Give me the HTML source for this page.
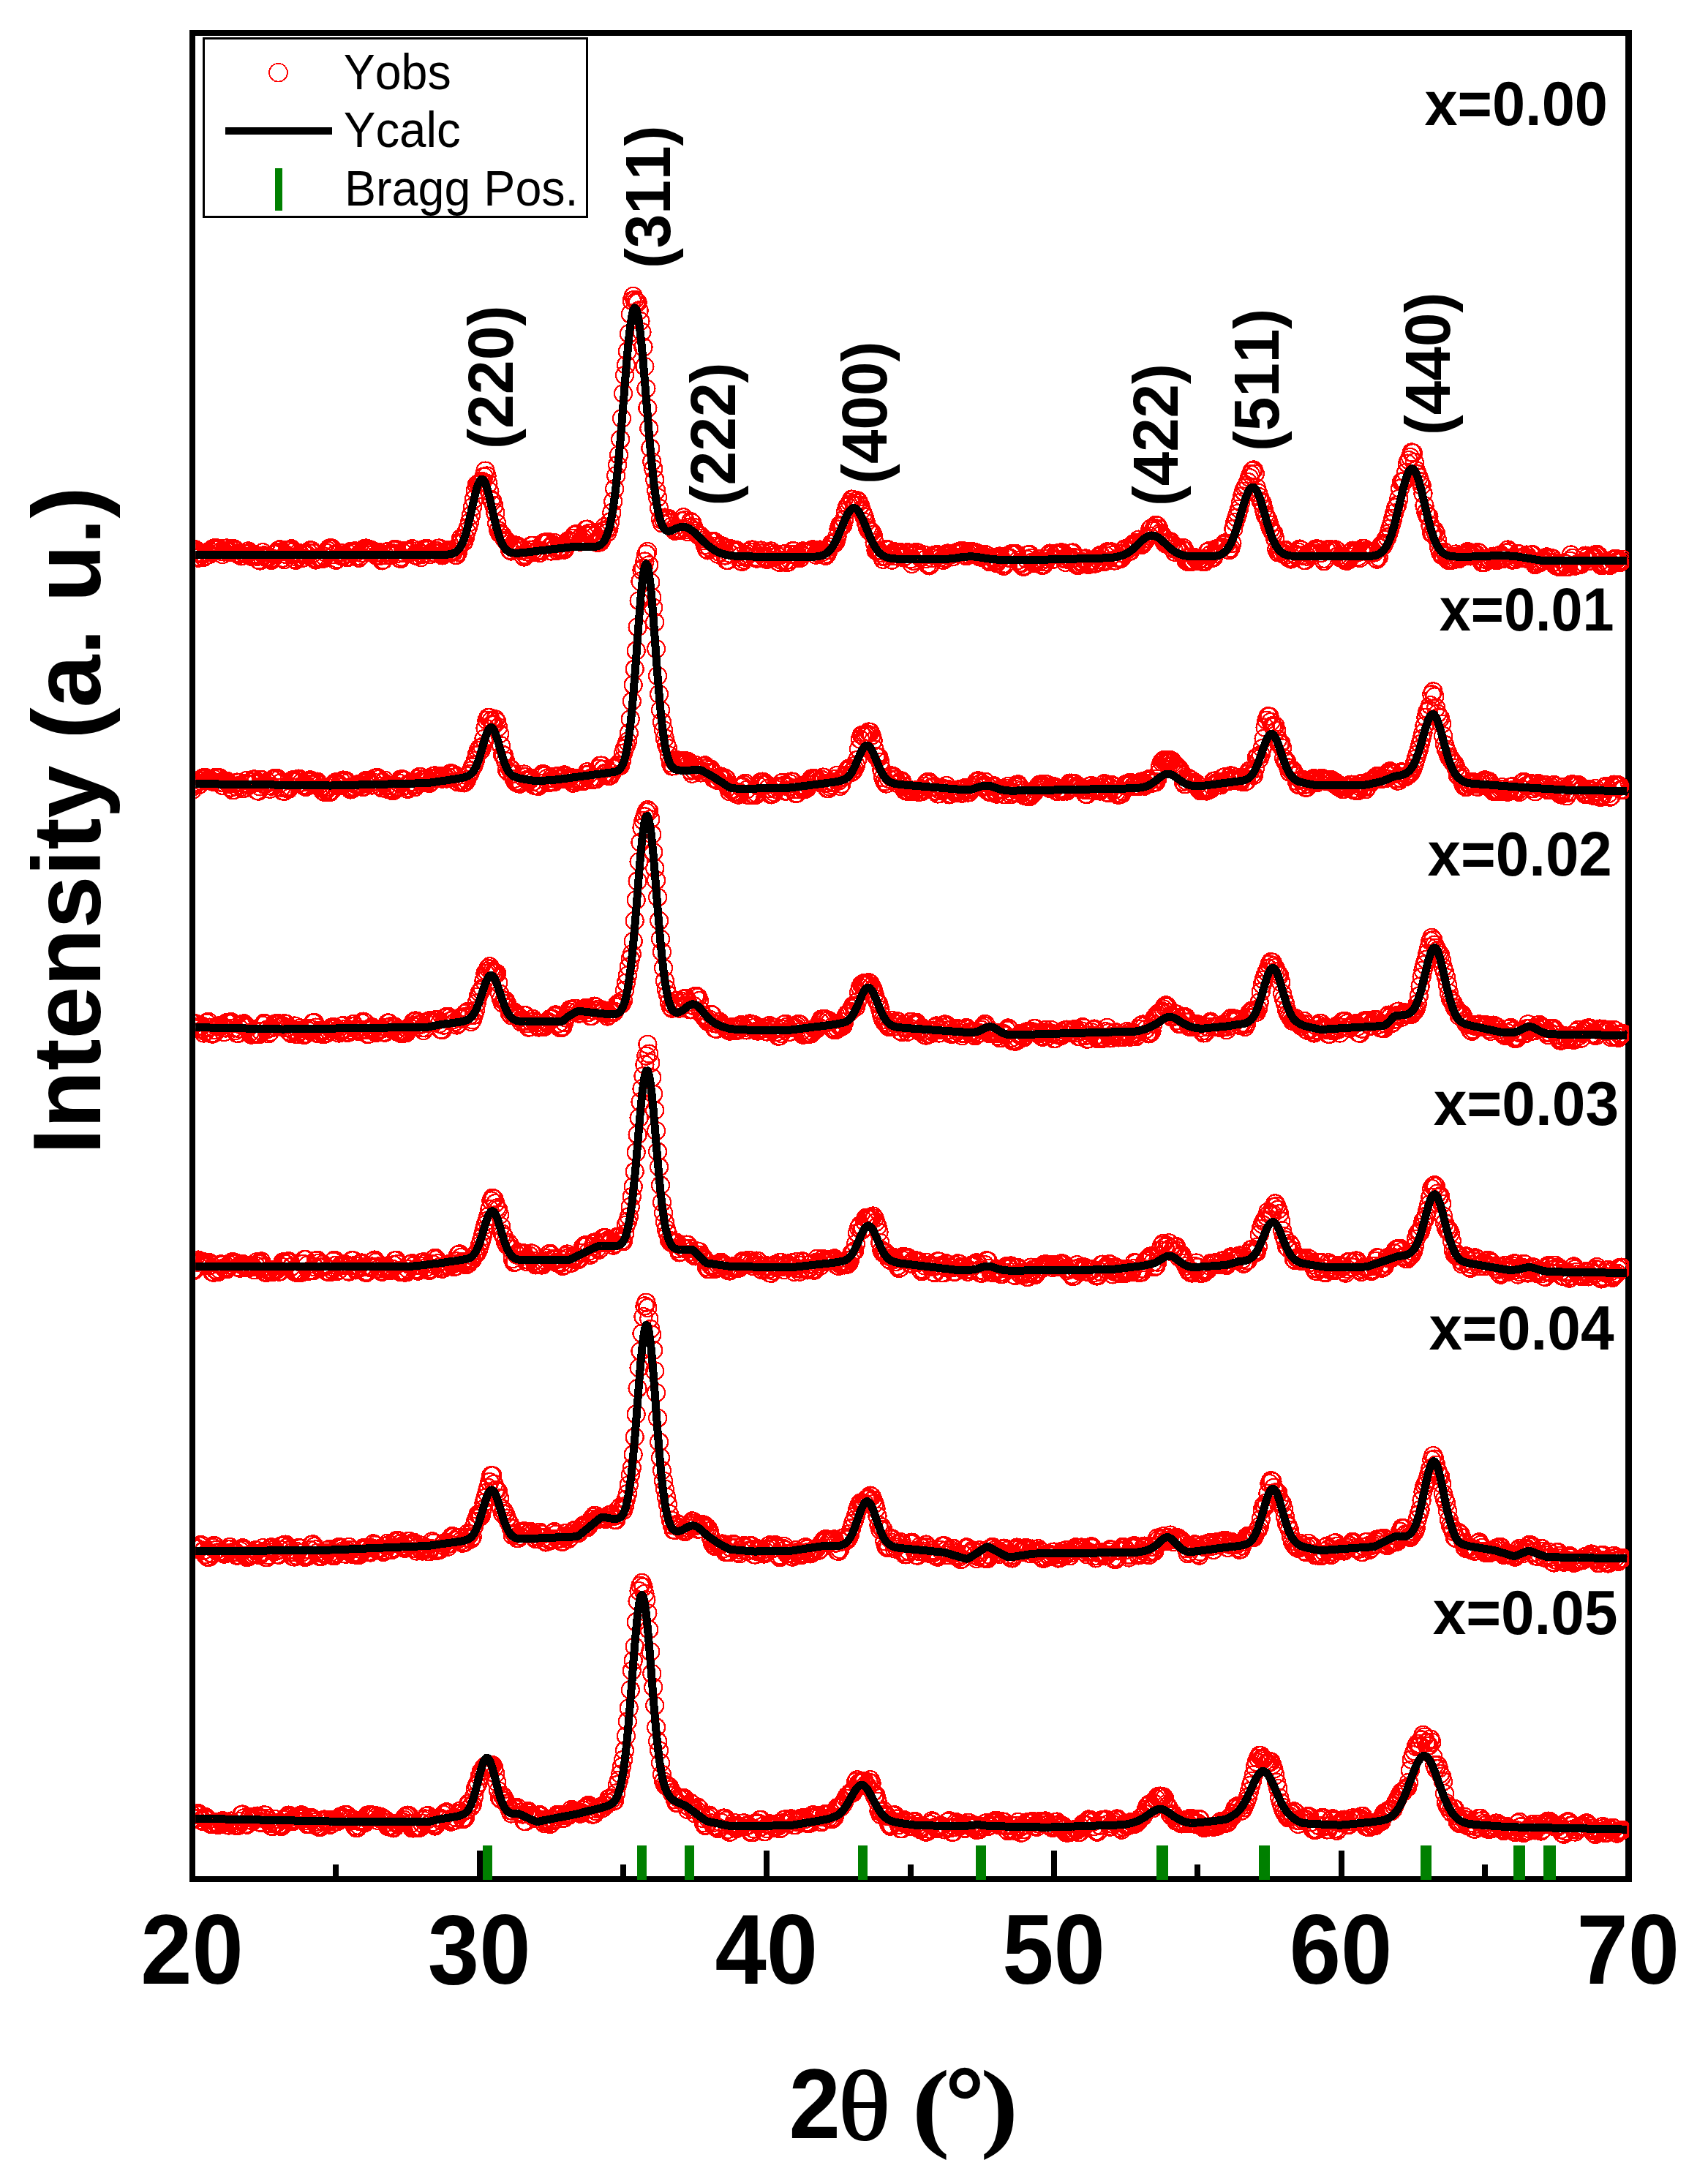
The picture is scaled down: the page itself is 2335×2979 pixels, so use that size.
<!DOCTYPE html>
<html lang="en"><head><meta charset="utf-8"><title>XRD patterns</title>
<style>
html,body{margin:0;padding:0;background:#fff}
svg{display:block}
text{font-family:"Liberation Sans",Arial,Helvetica,sans-serif;fill:#000;font-kerning:none}
.b{font-weight:bold}
.s{font-family:"Liberation Serif","Times New Roman",Times,serif;font-weight:bold}
</style></head>
<body>
<svg width="2335" height="2979" viewBox="0 0 2335 2979" shape-rendering="crispEdges">
<defs>
<marker id="o" markerUnits="userSpaceOnUse" markerWidth="30" markerHeight="30" refX="15" refY="15" overflow="visible"><circle cx="15" cy="15" r="12.0" fill="none" stroke="#f00" stroke-width="2.3" shape-rendering="crispEdges"/></marker>
<clipPath id="cp"><rect x="267.2" y="45" width="1959.9" height="2524"/></clipPath>
</defs>
<rect width="2335" height="2979" fill="#fff"/>
<rect x="263" y="45" width="1963.3" height="2524" fill="none" stroke="#000" stroke-width="8.4"/>
<path d="M263 2569V2530M459.3 2569V2549M655.7 2569V2530M852 2569V2549M1048.3 2569V2530M1244.7 2569V2549M1441 2569V2530M1637.3 2569V2549M1833.6 2569V2530M2030 2569V2549M2226.3 2569V2530" stroke="#000" stroke-width="8" fill="none"/>
<g clip-path="url(#cp)">
<polyline points="263,752.9 265,751.2 266.9,751.3 268.9,755.4 270.9,762.8 272.8,761.7 274.8,756.1 276.7,757.6 278.7,761.8 280.7,760.1 282.6,755 284.6,755.1 286.6,757.8 288.5,754.5 290.5,750.4 292.4,749.4 294.4,749.3 296.4,749.3 298.3,749.6 300.3,750.6 302.3,753.7 304.2,758.1 306.2,754.5 308.2,749.7 310.1,749.5 312.1,752.2 314,755.2 316,751.7 318,750.2 319.9,750.3 321.9,751.7 323.9,756.6 325.8,758.3 327.8,757.7 329.8,760.4 331.7,759.8 333.7,756.7 335.6,757.6 337.6,757 339.6,753.4 341.5,755.3 343.5,760.8 345.5,759.2 347.4,757.6 349.4,759.6 351.3,760.9 353.3,765.5 355.3,766.5 357.2,760 359.2,755.2 361.2,759.3 363.1,761.7 365.1,761.8 367.1,762.3 369,764.5 371,765.9 372.9,763.5 374.9,757.8 376.9,756.2 378.8,755.1 380.8,752.2 382.8,751.2 384.7,754.3 386.7,762.8 388.7,765.1 390.6,757.8 392.6,752 394.5,752.6 396.5,751.2 398.5,750.3 400.4,754.5 402.4,764.2 404.4,765.8 406.3,761.8 408.3,755.8 410.2,757.5 412.2,763.2 414.2,762.8 416.1,758.1 418.1,757.8 420.1,758.8 422,755.6 424,752.4 426,752.5 427.9,756.3 429.9,763 431.8,765.5 433.8,764.3 435.8,762.2 437.7,761.9 439.7,763 441.7,763.8 443.6,761 445.6,755.6 447.6,752.5 449.5,750 451.5,749.3 453.4,749.4 455.4,751 457.4,758.2 459.3,765.8 461.3,764.2 463.3,755.5 465.2,755.8 467.2,760.6 469.1,760.1 471.1,758.7 473.1,761.6 475,762.3 477,757 479,754.1 480.9,754.7 482.9,753.9 484.9,753.4 486.8,755.4 488.8,759.9 490.7,762.8 492.7,760.6 494.7,756.1 496.6,752.3 498.6,749.7 500.6,749.5 502.5,750.3 504.5,751 506.4,751.2 508.4,752.3 510.4,753.8 512.3,756.3 514.3,759.7 516.3,758.8 518.2,755 520.2,759.8 522.2,766.4 524.1,765.5 526.1,759 528,754.5 530,754.3 532,757.8 533.9,759.4 535.9,755.9 537.9,752.7 539.8,750.9 541.8,751.2 543.8,756.8 545.7,763.1 547.7,764 549.6,761.7 551.6,756 553.6,752.7 555.5,753 557.5,754.3 559.5,754.9 561.4,752.8 563.4,750.2 565.3,751 567.3,758.8 569.3,759.8 571.2,753.2 573.2,755.7 575.2,762.2 577.1,757.9 579.1,751.7 581.1,750.2 583,749.7 585,752 586.9,758.3 588.9,757.8 590.9,754.9 592.8,755.1 594.8,755.4 596.8,752.9 598.7,749.7 600.7,749.5 602.7,754.7 604.6,759.4 606.6,757.9 608.5,756.1 610.5,753.4 612.5,752.2 614.4,754.8 616.4,755.5 618.4,753.2 620.3,754.4 622.3,758.7 624.2,758.9 626.2,754.9 628.2,743.9 630.1,736 632.1,737.3 634.1,740.6 636,734.7 638,726.5 640,721 641.9,714 643.9,704.5 645.8,693.3 647.8,682.7 649.8,671.1 651.7,662.9 653.7,661.3 655.7,660 657.6,658.5 659.6,658.1 661.5,651.5 663.5,643.6 665.5,650.5 667.4,661.4 669.4,671.8 671.4,682.9 673.3,685.1 675.3,691.4 677.3,701 679.2,715.5 681.2,725 683.1,728.9 685.1,730 687.1,732.1 689,735.7 691,738.6 693,740.3 694.9,743.9 696.9,751.9 698.9,753.5 700.8,749 702.8,745.9 704.7,745.4 706.7,746 708.7,748 710.6,750.2 712.6,752.8 714.6,759.2 716.5,761.5 718.5,758.6 720.4,754.3 722.4,754.8 724.4,751.6 726.3,746 728.3,745.8 730.3,751.2 732.2,755 734.2,752.9 736.2,752.8 738.1,756 740.1,752.8 742,743.3 744,741.8 746,741.4 747.9,741.2 749.9,741 751.9,748.3 753.8,753.5 755.8,744.6 757.8,742 759.7,747.8 761.7,752.9 763.6,750.8 765.6,747.7 767.6,748.2 769.5,751 771.5,751.7 773.5,747.9 775.4,741.1 777.4,738.8 779.3,740.2 781.3,740.3 783.3,735.8 785.2,731.7 787.2,730.2 789.2,730.1 791.1,737.3 793.1,740.7 795.1,739 797,735.8 799,731.6 800.9,723.9 802.9,723.6 804.9,729 806.8,731.8 808.8,728.6 810.8,728.3 812.7,733 814.7,740.4 816.7,742 818.6,741.1 820.6,741 822.5,737.4 824.5,725.9 826.5,720.4 828.4,724.2 830.4,728.2 832.4,722.4 834.3,713.3 836.3,701 838.2,685.6 840.2,668.3 842.2,650.2 844.1,635.7 846.1,621.9 848.1,600.6 850,572 852,538 854,513 855.9,499 857.9,480.3 859.8,456.3 861.8,429.4 863.8,411 865.7,404.8 867.7,409.7 869.7,412.2 871.6,413.7 873.6,424.4 875.5,439 877.5,454 879.5,474.7 881.4,501 883.4,531.2 885.4,557.9 887.3,585.6 889.3,612.7 891.3,631.2 893.2,641 895.2,655.9 897.1,670.7 899.1,680.1 901.1,694.8 903,710 905,715.2 907,710.3 908.9,707.6 910.9,709.5 912.9,709.1 914.8,709.3 916.8,714.3 918.7,719.4 920.7,722.9 922.7,725.9 924.6,725.4 926.6,724.5 928.6,725.1 930.5,723.5 932.5,712.3 934.4,707.2 936.4,711.1 938.4,724.1 940.3,727.1 942.3,720.7 944.3,713 946.2,714.7 948.2,720.7 950.2,725.6 952.1,728.8 954.1,731.4 956,731.9 958,732.6 960,735.7 961.9,739.1 963.9,745.2 965.9,750.6 967.8,752.4 969.8,748.5 971.8,740.2 973.7,739.7 975.7,740 977.6,741.1 979.6,746.6 981.6,757.6 983.5,754.9 985.5,746.9 987.5,746.4 989.4,749.3 991.4,759.5 993.3,765.8 995.3,765.9 997.3,756.7 999.2,750.4 1001.2,751.5 1003.2,753.6 1005.1,752.8 1007.1,752.4 1009.1,754.1 1011,761.2 1013,767.5 1014.9,768 1016.9,765.1 1018.9,761.7 1020.8,760.2 1022.8,757.6 1024.8,754.4 1026.7,751.8 1028.7,751.5 1030.7,754.8 1032.6,761.2 1034.6,763.6 1036.5,763.1 1038.5,756 1040.5,752.5 1042.4,755.5 1044.4,761.4 1046.4,762.9 1048.3,764.9 1050.3,764.1 1052.2,756.2 1054.2,753.5 1056.2,758.9 1058.1,762.3 1060.1,757.5 1062.1,759.9 1064,768 1066,769 1068,765.8 1069.9,757.7 1071.9,757.4 1073.8,766.4 1075.8,769.2 1077.8,768.5 1079.7,765.1 1081.7,758 1083.7,753 1085.6,753.5 1087.6,758.3 1089.5,760.2 1091.5,761.8 1093.5,763.3 1095.4,757.7 1097.4,753.4 1099.4,754.1 1101.3,755.8 1103.3,755.1 1105.3,753.5 1107.2,752.9 1109.2,751.9 1111.1,751.2 1113.1,753.4 1115.1,758.6 1117,755.8 1119,752.3 1121,751.6 1122.9,751.7 1124.9,754.3 1126.9,758.8 1128.8,759.9 1130.8,757 1132.7,752 1134.7,747.6 1136.7,743.7 1138.6,742.6 1140.6,743 1142.6,740.7 1144.5,733.8 1146.5,723.6 1148.4,717.9 1150.4,718.7 1152.4,718.1 1154.3,710 1156.3,698.8 1158.3,692.5 1160.2,690.2 1162.2,686.7 1164.2,682.6 1166.1,683 1168.1,690.8 1170,687.7 1172,684.2 1174,686.5 1175.9,690.8 1177.9,697.2 1179.9,702.6 1181.8,706.9 1183.8,714.2 1185.8,721.4 1187.7,725.2 1189.7,726.2 1191.6,727.2 1193.6,731.2 1195.6,741.5 1197.5,752.5 1199.5,753.2 1201.5,753.4 1203.4,755.8 1205.4,760.6 1207.3,764.8 1209.3,760.5 1211.3,751.2 1213.2,751 1215.2,752.1 1217.2,758.1 1219.1,765.6 1221.1,760.3 1223.1,754.2 1225,755.8 1227,760.6 1228.9,756.8 1230.9,755 1232.9,757.8 1234.8,762.2 1236.8,760.9 1238.8,756.9 1240.7,755.1 1242.7,755.7 1244.7,764.6 1246.6,770.9 1248.6,766.8 1250.5,757 1252.5,755 1254.5,755.4 1256.4,758.8 1258.4,762.6 1260.4,761.2 1262.3,758.4 1264.3,758.6 1266.2,764 1268.2,771.8 1270.2,773.4 1272.1,772 1274.1,763 1276.1,759.3 1278,758.9 1280,758.2 1282,758.3 1283.9,759 1285.9,761.9 1287.8,765.5 1289.8,765.8 1291.8,763 1293.7,758.7 1295.7,756.5 1297.7,756.8 1299.6,758.6 1301.6,761.4 1303.5,760.9 1305.5,757.1 1307.5,755.2 1309.4,754.5 1311.4,754 1313.4,753.6 1315.3,752.7 1317.3,753.3 1319.3,758.4 1321.2,760.3 1323.2,757.5 1325.1,755.1 1327.1,753.8 1329.1,753.9 1331,755.5 1333,756.3 1335,755.5 1336.9,757.2 1338.9,761.4 1340.9,761.8 1342.8,760.7 1344.8,760.1 1346.7,757.8 1348.7,758.9 1350.7,764.9 1352.6,768.1 1354.6,766.9 1356.6,763.1 1358.5,761.8 1360.5,766.4 1362.4,770 1364.4,766.8 1366.4,760.5 1368.3,762.8 1370.3,772 1372.3,773.9 1374.2,770.7 1376.2,762.3 1378.2,762.6 1380.1,762.4 1382.1,757.4 1384,756.9 1386,757.2 1388,756.8 1389.9,757.9 1391.9,766 1393.9,769.5 1395.8,770.3 1397.8,774.2 1399.8,774.9 1401.7,773.5 1403.7,764.5 1405.6,758.4 1407.6,758 1409.6,762.7 1411.5,768.5 1413.5,770.2 1415.5,770 1417.4,766.6 1419.4,764.1 1421.3,768.3 1423.3,772.2 1425.3,773 1427.2,771.8 1429.2,768 1431.2,764.1 1433.1,759 1435.1,756.6 1437.1,758.5 1439,765 1441,764 1442.9,758 1444.9,756.5 1446.9,757.1 1448.8,756.1 1450.8,755.3 1452.8,755.8 1454.7,763.8 1456.7,768.8 1458.6,764.6 1460.6,763 1462.6,761.9 1464.5,756.2 1466.5,755.5 1468.5,762.3 1470.4,771.1 1472.4,772.7 1474.4,772.8 1476.3,771.7 1478.3,769.4 1480.2,768.3 1482.2,765.2 1484.2,763.5 1486.1,769.4 1488.1,772.1 1490.1,771.1 1492,765.9 1494,765.9 1496,769.6 1497.9,770.5 1499.9,769.6 1501.8,764.9 1503.8,759.2 1505.8,760.3 1507.7,766.8 1509.7,768 1511.7,759.6 1513.6,754.4 1515.6,755.8 1517.5,756.2 1519.5,754.4 1521.5,758.5 1523.4,766.5 1525.4,766.2 1527.4,763.1 1529.3,763 1531.3,764.1 1533.3,763.1 1535.2,756.8 1537.2,750.8 1539.1,750.1 1541.1,751.8 1543.1,754.1 1545,753.7 1547,747.9 1549,743.6 1550.9,744.6 1552.9,746 1554.9,741.8 1556.8,737.6 1558.8,743.7 1560.7,745 1562.7,743 1564.7,740.7 1566.6,736.4 1568.6,735.7 1570.6,732.6 1572.5,723.2 1574.5,721.8 1576.4,725.6 1578.4,721.7 1580.4,717.7 1582.3,718.8 1584.3,722.8 1586.3,728.7 1588.2,731 1590.2,736.5 1592.2,742.2 1594.1,743.7 1596.1,743.4 1598,741.7 1600,740.3 1602,742.6 1603.9,750.4 1605.9,754.7 1607.9,750.8 1609.8,748.9 1611.8,752.5 1613.8,755.3 1615.7,750.9 1617.7,748.8 1619.6,752.8 1621.6,766.6 1623.6,768 1625.5,766.8 1627.5,766.1 1629.5,768 1631.4,767 1633.4,762 1635.3,763.8 1637.3,766.7 1639.3,765.5 1641.2,764 1643.2,767.4 1645.2,768.3 1647.1,768.1 1649.1,764.3 1651.1,754.4 1653,753.1 1655,758 1656.9,761.9 1658.9,762.6 1660.9,757.3 1662.8,750.3 1664.8,749.7 1666.8,751 1668.7,749.8 1670.7,748.1 1672.6,745.1 1674.6,742.3 1676.6,743.5 1678.5,751.6 1680.5,752.3 1682.5,749.2 1684.4,742.8 1686.4,723 1688.4,714 1690.3,707.7 1692.3,701.9 1694.2,695.7 1696.2,686.7 1698.2,678.5 1700.1,671.7 1702.1,666.8 1704.1,663.8 1706,658.9 1708,653.1 1710,648.4 1711.9,643.8 1713.9,642.5 1715.8,647.6 1717.8,666.9 1719.8,673.5 1721.7,679.3 1723.7,685 1725.7,687.9 1727.6,695.5 1729.6,703.9 1731.5,707.1 1733.5,710.8 1735.5,717.4 1737.4,723.1 1739.4,726.7 1741.4,729.3 1743.3,736.8 1745.3,751.1 1747.3,755.3 1749.2,753.1 1751.2,754.3 1753.1,757.1 1755.1,752.9 1757.1,751.7 1759,758.4 1761,762.4 1763,763.2 1764.9,764.5 1766.9,762.6 1768.9,757.1 1770.8,757.7 1772.8,760.2 1774.7,754.5 1776.7,750.6 1778.7,752 1780.6,759.6 1782.6,765.8 1784.6,766.2 1786.5,760.7 1788.5,757 1790.4,757.6 1792.4,756.8 1794.4,756.6 1796.3,753.4 1798.3,750.5 1800.3,750.3 1802.2,750.6 1804.2,751.5 1806.2,756.1 1808.1,764.3 1810.1,767.2 1812,764.2 1814,753.3 1816,750.9 1817.9,751 1819.9,751.4 1821.9,753.7 1823.8,753.7 1825.8,751.5 1827.8,753 1829.7,759.7 1831.7,762.2 1833.6,762.8 1835.6,763.8 1837.6,764.8 1839.5,766.4 1841.5,766.8 1843.5,765.6 1845.4,761.6 1847.4,754.7 1849.3,752.6 1851.3,755.1 1853.3,756.2 1855.2,755.8 1857.2,761 1859.2,763 1861.1,753.6 1863.1,749.8 1865.1,750.1 1867,752.9 1869,754.1 1870.9,753.8 1872.9,754.8 1874.9,756 1876.8,755.1 1878.8,755.5 1880.8,763.1 1882.7,764.6 1884.7,761.8 1886.6,748.7 1888.6,745.1 1890.6,746.3 1892.5,742.8 1894.5,737.6 1896.5,734.4 1898.4,729.2 1900.4,722.6 1902.4,716.2 1904.3,708.9 1906.3,701.5 1908.2,694.2 1910.2,690.8 1912.2,681.9 1914.1,668 1916.1,658.8 1918.1,658.5 1920,657.2 1922,646 1924,633.6 1925.9,629.1 1927.9,624.9 1929.8,618.5 1931.8,619.3 1933.8,632 1935.7,642.9 1937.7,648.2 1939.7,652.6 1941.6,658.3 1943.6,663.7 1945.5,674.8 1947.5,691.2 1949.5,700.9 1951.4,705.3 1953.4,706.5 1955.4,718.2 1957.3,729 1959.3,729.8 1961.3,725.7 1963.2,729.8 1965.2,738.2 1967.1,748.5 1969.1,755.6 1971.1,758.9 1973,758.4 1975,754.8 1977,759.2 1978.9,765.3 1980.9,766.2 1982.9,765 1984.8,763.9 1986.8,765.5 1988.7,762.9 1990.7,757.5 1992.7,760.5 1994.6,764 1996.6,762.2 1998.6,759.7 2000.5,759.2 2002.5,759.2 2004.4,757.1 2006.4,754.1 2008.4,755.4 2010.3,760.4 2012.3,758.9 2014.3,756.5 2016.2,758.4 2018.2,757.7 2020.2,755 2022.1,755.7 2024.1,764.4 2026,769.1 2028,769.1 2030,768.7 2031.9,765.5 2033.9,763.6 2035.9,764.4 2037.8,765.1 2039.8,762.5 2041.7,760.6 2043.7,764 2045.7,766.3 2047.6,764.9 2049.6,759.3 2051.6,758.4 2053.5,762.7 2055.5,763.9 2057.5,762.2 2059.4,755.6 2061.4,751.5 2063.3,754.3 2065.3,764.3 2067.3,765.6 2069.2,764.3 2071.2,765.2 2073.2,762.5 2075.1,756.7 2077.1,758 2079.1,762.9 2081,762.6 2083,762.2 2084.9,760.9 2086.9,758.6 2088.9,762.6 2090.8,765.1 2092.8,758.7 2094.8,758 2096.7,767.1 2098.7,772.2 2100.6,770.7 2102.6,768.6 2104.6,769.4 2106.5,767.7 2108.5,765.9 2110.5,765.7 2112.4,763.1 2114.4,761.4 2116.4,763.2 2118.3,764.8 2120.3,763 2122.2,763.3 2124.2,769.1 2126.2,772.7 2128.1,773.8 2130.1,774.6 2132.1,775.2 2134,775.3 2136,773.9 2138,769.6 2139.9,770.5 2141.9,774.8 2143.8,775.1 2145.8,766.7 2147.8,758.5 2149.7,762.9 2151.7,772.5 2153.7,773.6 2155.6,771.6 2157.6,770.7 2159.5,771.4 2161.5,771.6 2163.5,768.4 2165.4,761.6 2167.4,759.6 2169.4,762.4 2171.3,766.9 2173.3,766.8 2175.3,763.3 2177.2,762.2 2179.2,761.2 2181.1,758.4 2183.1,757.8 2185.1,759.4 2187,768 2189,773 2191,772.9 2192.9,772.4 2194.9,771.3 2196.9,769.1 2198.8,770.8 2200.8,773.1 2202.7,770.7 2204.7,765.3 2206.7,764.2 2208.6,764.3 2210.6,764.1 2212.6,766.8 2214.5,769.1 2216.5,767.4 2218.4,764.8" fill="none" stroke="none" marker-start="url(#o)" marker-mid="url(#o)" marker-end="url(#o)"/>
<polyline points="263,758.5 265,758.5 266.9,758.5 268.9,758.5 270.9,758.5 272.8,758.5 274.8,758.5 276.7,758.5 278.7,758.5 280.7,758.5 282.6,758.5 284.6,758.5 286.6,758.5 288.5,758.5 290.5,758.5 292.4,758.5 294.4,758.5 296.4,758.5 298.3,758.5 300.3,758.5 302.3,758.5 304.2,758.5 306.2,758.5 308.2,758.5 310.1,758.5 312.1,758.5 314,758.5 316,758.5 318,758.5 319.9,758.5 321.9,758.5 323.9,758.5 325.8,758.5 327.8,758.5 329.8,758.5 331.7,758.5 333.7,758.5 335.6,758.5 337.6,758.5 339.6,758.5 341.5,758.5 343.5,758.5 345.5,758.5 347.4,758.5 349.4,758.5 351.3,758.5 353.3,758.5 355.3,758.5 357.2,758.5 359.2,758.5 361.2,758.5 363.1,758.5 365.1,758.5 367.1,758.5 369,758.5 371,758.5 372.9,758.5 374.9,758.5 376.9,758.5 378.8,758.5 380.8,758.5 382.8,758.5 384.7,758.5 386.7,758.5 388.7,758.5 390.6,758.5 392.6,758.5 394.5,758.5 396.5,758.5 398.5,758.5 400.4,758.5 402.4,758.5 404.4,758.5 406.3,758.5 408.3,758.5 410.2,758.5 412.2,758.5 414.2,758.5 416.1,758.5 418.1,758.5 420.1,758.5 422,758.5 424,758.5 426,758.5 427.9,758.5 429.9,758.5 431.8,758.5 433.8,758.5 435.8,758.5 437.7,758.5 439.7,758.5 441.7,758.5 443.6,758.5 445.6,758.5 447.6,758.5 449.5,758.5 451.5,758.5 453.4,758.5 455.4,758.5 457.4,758.5 459.3,758.5 461.3,758.5 463.3,758.5 465.2,758.5 467.2,758.5 469.1,758.5 471.1,758.5 473.1,758.5 475,758.5 477,758.5 479,758.5 480.9,758.5 482.9,758.5 484.9,758.5 486.8,758.5 488.8,758.5 490.7,758.5 492.7,758.5 494.7,758.5 496.6,758.5 498.6,758.5 500.6,758.5 502.5,758.5 504.5,758.5 506.4,758.5 508.4,758.5 510.4,758.5 512.3,758.5 514.3,758.5 516.3,758.5 518.2,758.5 520.2,758.5 522.2,758.5 524.1,758.5 526.1,758.5 528,758.5 530,758.5 532,758.5 533.9,758.5 535.9,758.5 537.9,758.5 539.8,758.5 541.8,758.5 543.8,758.5 545.7,758.5 547.7,758.5 549.6,758.5 551.6,758.5 553.6,758.5 555.5,758.5 557.5,758.5 559.5,758.5 561.4,758.5 563.4,758.5 565.3,758.5 567.3,758.5 569.3,758.5 571.2,758.5 573.2,758.5 575.2,758.5 577.1,758.5 579.1,758.5 581.1,758.5 583,758.5 585,758.5 586.9,758.5 588.9,758.5 590.9,758.5 592.8,758.5 594.8,758.5 596.8,758.5 598.7,758.5 600.7,758.5 602.7,758.4 604.6,758.4 606.6,758.3 608.5,758.3 610.5,758.2 612.5,758 614.4,757.8 616.4,757.4 618.4,756.9 620.3,756.2 622.3,755.2 624.2,753.8 626.2,752 628.2,749.6 630.1,746.4 632.1,742.5 634.1,737.8 636,732.1 638,725.5 640,718 641.9,709.8 643.9,701.2 645.8,692.3 647.8,683.5 649.8,675.3 651.7,668.1 653.7,662.2 655.7,657.9 657.6,655.5 659.6,655.2 661.5,656.9 663.5,660.6 665.5,666 667.4,672.9 669.4,680.8 671.4,689.3 673.3,698.2 675.3,706.9 677.3,715.2 679.2,722.8 681.2,729.7 683.1,735.6 685.1,740.6 687.1,744.7 689,748 691,750.5 693,752.4 694.9,753.8 696.9,754.7 698.9,755.3 700.8,755.7 702.8,756 704.7,756.1 706.7,756.1 708.7,756.1 710.6,756 712.6,755.9 714.6,755.7 716.5,755.4 718.5,755.2 720.4,755 722.4,754.8 724.4,754.5 726.3,754.3 728.3,754.1 730.3,753.8 732.2,753.6 734.2,753.4 736.2,753.1 738.1,752.9 740.1,752.7 742,752.4 744,752.2 746,752 747.9,751.7 749.9,751.5 751.9,751.3 753.8,751 755.8,750.8 757.8,750.6 759.7,750.3 761.7,750.1 763.6,749.9 765.6,749.7 767.6,749.4 769.5,749.2 771.5,749 773.5,748.7 775.4,748.5 777.4,748.3 779.3,748 781.3,747.8 783.3,747.6 785.2,747.3 787.2,747.1 789.2,747.1 791.1,747.1 793.1,747.2 795.1,747.3 797,747.4 799,747.5 800.9,747.6 802.9,747.6 804.9,747.7 806.8,747.7 808.8,747.7 810.8,747.6 812.7,747.4 814.7,747.1 816.7,746.7 818.6,746 820.6,745 822.5,743.6 824.5,741.6 826.5,738.9 828.4,735.1 830.4,730.2 832.4,723.9 834.3,716 836.3,706.2 838.2,694.3 840.2,680.2 842.2,663.8 844.1,645.1 846.1,624.4 848.1,601.9 850,578 852,553.3 854,528.5 855.9,504.4 857.9,481.9 859.8,461.9 861.8,445.1 863.8,432.3 865.7,424.1 867.7,420.8 869.7,422.5 871.6,429.3 873.6,440.7 875.5,456.3 877.5,475.3 879.5,497 881.4,520.5 883.4,544.8 885.4,569.3 887.3,593 889.3,615.5 891.3,636.2 893.2,654.7 895.2,670.9 897.1,684.8 899.1,696.2 901.1,705.4 903,712.5 905,717.8 907,721.6 908.9,724 910.9,725.5 912.9,726.1 914.8,726.1 916.8,725.7 918.7,725 920.7,724.1 922.7,723.2 924.6,722.3 926.6,721.6 928.6,721 930.5,720.5 932.5,720.3 934.4,720.4 936.4,720.6 938.4,721.2 940.3,721.9 942.3,722.9 944.3,724.1 946.2,725.5 948.2,727.1 950.2,728.7 952.1,730.5 954.1,732.4 956,734.4 958,736.3 960,738.3 961.9,740.2 963.9,742.1 965.9,743.9 967.8,745.6 969.8,747.3 971.8,748.8 973.7,750.2 975.7,751.5 977.6,752.7 979.6,753.8 981.6,754.7 983.5,755.6 985.5,756.4 987.5,757 989.4,757.6 991.4,758.1 993.3,758.6 995.3,759 997.3,759.3 999.2,759.6 1001.2,759.8 1003.2,760 1005.1,760.2 1007.1,760.3 1009.1,760.4 1011,760.5 1013,760.6 1014.9,760.6 1016.9,760.7 1018.9,760.8 1020.8,760.8 1022.8,760.9 1024.8,760.9 1026.7,760.9 1028.7,761 1030.7,761 1032.6,761.1 1034.6,761.1 1036.5,761.1 1038.5,761.2 1040.5,761.2 1042.4,761.2 1044.4,761.3 1046.4,761.3 1048.3,761.3 1050.3,761.4 1052.2,761.4 1054.2,761.5 1056.2,761.5 1058.1,761.5 1060.1,761.5 1062.1,761.5 1064,761.5 1066,761.4 1068,761.4 1069.9,761.4 1071.9,761.4 1073.8,761.4 1075.8,761.4 1077.8,761.4 1079.7,761.3 1081.7,761.3 1083.7,761.3 1085.6,761.3 1087.6,761.3 1089.5,761.3 1091.5,761.3 1093.5,761.2 1095.4,761.2 1097.4,761.2 1099.4,761.2 1101.3,761.2 1103.3,761.2 1105.3,761.3 1107.2,761.3 1109.2,761.3 1111.1,761.2 1113.1,761.2 1115.1,761 1117,760.9 1119,760.6 1121,760.2 1122.9,759.7 1124.9,759.1 1126.9,758.2 1128.8,757.1 1130.8,755.7 1132.7,754 1134.7,751.9 1136.7,749.5 1138.6,746.6 1140.6,743.3 1142.6,739.6 1144.5,735.5 1146.5,731.1 1148.4,726.5 1150.4,721.7 1152.4,717 1154.3,712.3 1156.3,707.9 1158.3,703.9 1160.2,700.5 1162.2,697.7 1164.2,695.8 1166.1,694.7 1168.1,694.6 1170,695.3 1172,697 1174,699.6 1175.9,702.8 1177.9,706.7 1179.9,711 1181.8,715.7 1183.8,720.6 1185.8,725.4 1187.7,730.2 1189.7,734.8 1191.6,739.1 1193.6,743.1 1195.6,746.6 1197.5,749.8 1199.5,752.5 1201.5,754.8 1203.4,756.8 1205.4,758.4 1207.3,759.7 1209.3,760.7 1211.3,761.6 1213.2,762.2 1215.2,762.7 1217.2,763.1 1219.1,763.4 1221.1,763.7 1223.1,763.8 1225,764 1227,764.1 1228.9,764.2 1230.9,764.2 1232.9,764.3 1234.8,764.4 1236.8,764.4 1238.8,764.4 1240.7,764.4 1242.7,764.5 1244.7,764.5 1246.6,764.5 1248.6,764.5 1250.5,764.5 1252.5,764.5 1254.5,764.6 1256.4,764.6 1258.4,764.6 1260.4,764.6 1262.3,764.6 1264.3,764.6 1266.2,764.7 1268.2,764.7 1270.2,764.7 1272.1,764.7 1274.1,764.7 1276.1,764.7 1278,764.7 1280,764.7 1282,764.7 1283.9,764.6 1285.9,764.6 1287.8,764.5 1289.8,764.5 1291.8,764.4 1293.7,764.3 1295.7,764.1 1297.7,764 1299.6,763.8 1301.6,763.6 1303.5,763.3 1305.5,763.1 1307.5,762.8 1309.4,762.5 1311.4,762.2 1313.4,761.9 1315.3,761.7 1317.3,761.4 1319.3,761.2 1321.2,761.1 1323.2,761 1325.1,760.9 1327.1,760.9 1329.1,760.9 1331,761 1333,761.2 1335,761.4 1336.9,761.6 1338.9,761.9 1340.9,762.2 1342.8,762.5 1344.8,762.8 1346.7,763.2 1348.7,763.5 1350.7,763.8 1352.6,764 1354.6,764.3 1356.6,764.5 1358.5,764.7 1360.5,764.8 1362.4,765 1364.4,765.1 1366.4,765.2 1368.3,765.3 1370.3,765.4 1372.3,765.4 1374.2,765.5 1376.2,765.5 1378.2,765.6 1380.1,765.6 1382.1,765.6 1384,765.6 1386,765.7 1388,765.7 1389.9,765.7 1391.9,765.7 1393.9,765.7 1395.8,765.8 1397.8,765.8 1399.8,765.8 1401.7,765.8 1403.7,765.7 1405.6,765.7 1407.6,765.6 1409.6,765.6 1411.5,765.5 1413.5,765.5 1415.5,765.4 1417.4,765.4 1419.4,765.3 1421.3,765.3 1423.3,765.2 1425.3,765.2 1427.2,765.1 1429.2,765.1 1431.2,765 1433.1,765 1435.1,764.9 1437.1,764.9 1439,764.8 1441,764.8 1442.9,764.7 1444.9,764.7 1446.9,764.6 1448.8,764.6 1450.8,764.5 1452.8,764.5 1454.7,764.4 1456.7,764.4 1458.6,764.3 1460.6,764.3 1462.6,764.2 1464.5,764.2 1466.5,764.1 1468.5,764.1 1470.4,764 1472.4,764 1474.4,763.9 1476.3,763.9 1478.3,763.8 1480.2,763.8 1482.2,763.7 1484.2,763.7 1486.1,763.6 1488.1,763.6 1490.1,763.5 1492,763.5 1494,763.4 1496,763.4 1497.9,763.3 1499.9,763.3 1501.8,763.2 1503.8,763.2 1505.8,763.1 1507.7,763 1509.7,762.9 1511.7,762.8 1513.6,762.7 1515.6,762.6 1517.5,762.4 1519.5,762.3 1521.5,762.1 1523.4,761.8 1525.4,761.5 1527.4,761.2 1529.3,760.7 1531.3,760.3 1533.3,759.7 1535.2,759 1537.2,758.2 1539.1,757.3 1541.1,756.2 1543.1,755 1545,753.6 1547,752.1 1549,750.5 1550.9,748.7 1552.9,746.9 1554.9,745 1556.8,743 1558.8,741.1 1560.7,739.3 1562.7,737.6 1564.7,736 1566.6,734.7 1568.6,733.5 1570.6,732.7 1572.5,732.2 1574.5,732 1576.4,732.1 1578.4,732.5 1580.4,733.3 1582.3,734.3 1584.3,735.6 1586.3,737.1 1588.2,738.8 1590.2,740.5 1592.2,742.4 1594.1,744.3 1596.1,746.1 1598,747.9 1600,749.6 1602,751.3 1603.9,752.7 1605.9,754.1 1607.9,755.3 1609.8,756.3 1611.8,757.2 1613.8,758 1615.7,758.6 1617.7,759.2 1619.6,759.6 1621.6,760 1623.6,760.2 1625.5,760.4 1627.5,760.6 1629.5,760.7 1631.4,760.8 1633.4,760.9 1635.3,760.9 1637.3,760.9 1639.3,760.9 1641.2,760.9 1643.2,760.9 1645.2,760.9 1647.1,760.9 1649.1,760.9 1651.1,760.9 1653,760.8 1655,760.7 1656.9,760.6 1658.9,760.5 1660.9,760.3 1662.8,760 1664.8,759.6 1666.8,759 1668.7,758.3 1670.7,757.3 1672.6,756 1674.6,754.4 1676.6,752.4 1678.5,749.9 1680.5,746.9 1682.5,743.3 1684.4,739.2 1686.4,734.4 1688.4,729.1 1690.3,723.2 1692.3,716.8 1694.2,710.1 1696.2,703.3 1698.2,696.4 1700.1,689.8 1702.1,683.6 1704.1,678 1706,673.3 1708,669.6 1710,667.2 1711.9,666 1713.9,666.2 1715.8,667.8 1717.8,670.6 1719.8,674.5 1721.7,679.5 1723.7,685.3 1725.7,691.7 1727.6,698.4 1729.6,705.2 1731.5,712.1 1733.5,718.6 1735.5,724.8 1737.4,730.6 1739.4,735.7 1741.4,740.3 1743.3,744.3 1745.3,747.6 1747.3,750.5 1749.2,752.8 1751.2,754.6 1753.1,756.1 1755.1,757.3 1757.1,758.2 1759,758.8 1761,759.3 1763,759.7 1764.9,760 1766.9,760.1 1768.9,760.3 1770.8,760.3 1772.8,760.4 1774.7,760.4 1776.7,760.4 1778.7,760.5 1780.6,760.5 1782.6,760.5 1784.6,760.5 1786.5,760.4 1788.5,760.4 1790.4,760.4 1792.4,760.4 1794.4,760.4 1796.3,760.4 1798.3,760.4 1800.3,760.4 1802.2,760.4 1804.2,760.4 1806.2,760.4 1808.1,760.4 1810.1,760.4 1812,760.5 1814,760.5 1816,760.5 1817.9,760.5 1819.9,760.5 1821.9,760.5 1823.8,760.5 1825.8,760.5 1827.8,760.5 1829.7,760.5 1831.7,760.5 1833.6,760.6 1835.6,760.6 1837.6,760.6 1839.5,760.6 1841.5,760.6 1843.5,760.6 1845.4,760.6 1847.4,760.6 1849.3,760.6 1851.3,760.6 1853.3,760.6 1855.2,760.6 1857.2,760.6 1859.2,760.6 1861.1,760.6 1863.1,760.6 1865.1,760.6 1867,760.6 1869,760.5 1870.9,760.5 1872.9,760.4 1874.9,760.2 1876.8,760 1878.8,759.6 1880.8,759.2 1882.7,758.5 1884.7,757.7 1886.6,756.6 1888.6,755.1 1890.6,753.3 1892.5,751 1894.5,748.2 1896.5,744.8 1898.4,740.7 1900.4,736 1902.4,730.5 1904.3,724.3 1906.3,717.4 1908.2,709.9 1910.2,702 1912.2,693.7 1914.1,685.2 1916.1,676.8 1918.1,668.8 1920,661.3 1922,654.7 1924,649.1 1925.9,644.8 1927.9,642 1929.8,640.7 1931.8,641.1 1933.8,643.1 1935.7,646.5 1937.7,651.4 1939.7,657.5 1941.6,664.5 1943.6,672.3 1945.5,680.5 1947.5,689 1949.5,697.4 1951.4,705.6 1953.4,713.4 1955.4,720.7 1957.3,727.3 1959.3,733.2 1961.3,738.4 1963.2,742.9 1965.2,746.7 1967.1,749.8 1969.1,752.4 1971.1,754.5 1973,756.2 1975,757.5 1977,758.5 1978.9,759.3 1980.9,759.8 1982.9,760.2 1984.8,760.6 1986.8,760.8 1988.7,760.9 1990.7,761.1 1992.7,761.1 1994.6,761.2 1996.6,761.2 1998.6,761.3 2000.5,761.3 2002.5,761.2 2004.4,761.2 2006.4,761.1 2008.4,761.1 2010.3,761 2012.3,761 2014.3,760.9 2016.2,760.9 2018.2,760.8 2020.2,760.8 2022.1,760.7 2024.1,760.7 2026,760.6 2028,760.6 2030,760.5 2031.9,760.4 2033.9,760.2 2035.9,760.1 2037.8,760 2039.8,759.8 2041.7,759.7 2043.7,759.6 2045.7,759.4 2047.6,759.3 2049.6,759.2 2051.6,759.1 2053.5,759.1 2055.5,759.3 2057.5,759.5 2059.4,759.6 2061.4,759.8 2063.3,760 2065.3,760.2 2067.3,760.3 2069.2,760.5 2071.2,760.7 2073.2,760.8 2075.1,761.1 2077.1,761.3 2079.1,761.7 2081,762 2083,762.3 2084.9,762.6 2086.9,762.9 2088.9,763.3 2090.8,763.6 2092.8,763.9 2094.8,764.2 2096.7,764.5 2098.7,764.8 2100.6,765.2 2102.6,765.5 2104.6,765.8 2106.5,766.1 2108.5,766.2 2110.5,766.2 2112.4,766.2 2114.4,766.2 2116.4,766.2 2118.3,766.3 2120.3,766.3 2122.2,766.3 2124.2,766.3 2126.2,766.3 2128.1,766.3 2130.1,766.3 2132.1,766.3 2134,766.3 2136,766.3 2138,766.4 2139.9,766.4 2141.9,766.4 2143.8,766.4 2145.8,766.4 2147.8,766.4 2149.7,766.4 2151.7,766.4 2153.7,766.4 2155.6,766.4 2157.6,766.5 2159.5,766.5 2161.5,766.5 2163.5,766.5 2165.4,766.5 2167.4,766.5 2169.4,766.5 2171.3,766.5 2173.3,766.5 2175.3,766.5 2177.2,766.6 2179.2,766.6 2181.1,766.6 2183.1,766.6 2185.1,766.6 2187,766.6 2189,766.6 2191,766.6 2192.9,766.6 2194.9,766.6 2196.9,766.7 2198.8,766.7 2200.8,766.7 2202.7,766.7 2204.7,766.7 2206.7,766.7 2208.6,766.7 2210.6,766.7 2212.6,766.7 2214.5,766.7 2216.5,766.8 2218.4,766.8" fill="none" stroke="#000" stroke-width="11" stroke-linejoin="round" stroke-linecap="square"/>
<polyline points="263,1080 265,1075.1 266.9,1069 268.9,1070.8 270.9,1073.4 272.8,1072.4 274.8,1067.8 276.7,1063.9 278.7,1063 280.7,1063 282.6,1064 284.6,1066 286.6,1066 288.5,1067 290.5,1068.7 292.4,1064.8 294.4,1062.9 296.4,1062.7 298.3,1062.8 300.3,1063.3 302.3,1069.9 304.2,1074 306.2,1070.5 308.2,1067.7 310.1,1067.8 312.1,1069.7 314,1071.8 316,1076.7 318,1080.3 319.9,1080.1 321.9,1075 323.9,1069.6 325.8,1070.3 327.8,1073.7 329.8,1075.9 331.7,1078 333.7,1077.9 335.6,1070.8 337.6,1066.7 339.6,1071.4 341.5,1073.2 343.5,1068.4 345.5,1066 347.4,1065.4 349.4,1070.3 351.3,1080.9 353.3,1081.6 355.3,1075.4 357.2,1065.9 359.2,1067.2 361.2,1072.8 363.1,1071.9 365.1,1069 367.1,1073.9 369,1078.7 371,1074.8 372.9,1066.1 374.9,1064.1 376.9,1064 378.8,1064.1 380.8,1065.7 382.8,1070.8 384.7,1076.6 386.7,1081.5 388.7,1081.8 390.6,1077.5 392.6,1075.7 394.5,1079 396.5,1075.1 398.5,1067.6 400.4,1066.1 402.4,1067.1 404.4,1068.9 406.3,1066.2 408.3,1064.6 410.2,1065.5 412.2,1069.7 414.2,1073.2 416.1,1074.9 418.1,1075.9 420.1,1074.8 422,1068.9 424,1066.2 426,1067.7 427.9,1071.3 429.9,1072.7 431.8,1069.8 433.8,1068.6 435.8,1073.6 437.7,1076.9 439.7,1076.9 441.7,1081.8 443.6,1083 445.6,1080.5 447.6,1076.4 449.5,1082.3 451.5,1083 453.4,1081 455.4,1074.4 457.4,1070.5 459.3,1069.3 461.3,1070.6 463.3,1073.6 465.2,1073.7 467.2,1069.2 469.1,1066.6 471.1,1066.7 473.1,1067.5 475,1070.1 477,1076.5 479,1079.5 480.9,1079 482.9,1077.7 484.9,1075.7 486.8,1072.9 488.8,1072.3 490.7,1073.1 492.7,1073.1 494.7,1075.4 496.6,1076.2 498.6,1070.8 500.6,1066.7 502.5,1066.9 504.5,1068.4 506.4,1070.7 508.4,1073.5 510.4,1069.3 512.3,1063.7 514.3,1063.2 516.3,1063.2 518.2,1065 520.2,1074.7 522.2,1077.4 524.1,1069.4 526.1,1066.7 528,1075 530,1079 532,1077.5 533.9,1079.3 535.9,1081 537.9,1081 539.8,1079.8 541.8,1076.7 543.8,1075.2 545.7,1070.4 547.7,1065.5 549.6,1065.1 551.6,1065.9 553.6,1067 555.5,1073.7 557.5,1078.9 559.5,1077.2 561.4,1070.1 563.4,1069 565.3,1073.7 567.3,1076.3 569.3,1072.8 571.2,1064.5 573.2,1062 575.2,1062.2 577.1,1066.3 579.1,1070.1 581.1,1066.4 583,1064.7 585,1067.8 586.9,1071 588.9,1068.9 590.9,1063.9 592.8,1060.6 594.8,1060.5 596.8,1064.3 598.7,1063.4 600.7,1060.7 602.7,1063 604.6,1064.6 606.6,1062 608.5,1062.1 610.5,1064.5 612.5,1062.4 614.4,1058.1 616.4,1057.1 618.4,1057.8 620.3,1058.7 622.3,1062.3 624.2,1068.2 626.2,1069.4 628.2,1067.2 630.1,1067.6 632.1,1070.1 634.1,1070.4 636,1069.5 638,1066.3 640,1060.9 641.9,1058 643.9,1053.2 645.8,1048.6 647.8,1046 649.8,1040.1 651.7,1032.4 653.7,1026.2 655.7,1022.9 657.6,1025.5 659.6,1020.7 661.5,1010.1 663.5,995.3 665.5,984.8 667.4,981 669.4,981.1 671.4,985.2 673.3,989.9 675.3,990.9 677.3,983.4 679.2,986.5 681.2,994.2 683.1,1003.4 685.1,1019.4 687.1,1031.8 689,1032.8 691,1040.2 693,1052.7 694.9,1055.3 696.9,1050.7 698.9,1051.7 700.8,1058 702.8,1065 704.7,1068.8 706.7,1070.3 708.7,1071.2 710.6,1071.7 712.6,1070.5 714.6,1061.6 716.5,1058.5 718.5,1062.2 720.4,1065.9 722.4,1067.7 724.4,1066.1 726.3,1063.9 728.3,1069.3 730.3,1073.9 732.2,1073.8 734.2,1074.1 736.2,1075 738.1,1071 740.1,1059.6 742,1057.9 744,1058.7 746,1060.1 747.9,1064 749.9,1070.3 751.9,1068 753.8,1063.8 755.8,1068.6 757.8,1069.2 759.7,1061.6 761.7,1061 763.6,1065.1 765.6,1065.3 767.6,1064.9 769.5,1063.1 771.5,1059.4 773.5,1060.8 775.4,1065.4 777.4,1064.7 779.3,1062.6 781.3,1067.1 783.3,1070.7 785.2,1070.4 787.2,1068.3 789.2,1066 791.1,1063.7 793.1,1064.8 795.1,1067.9 797,1068.4 799,1066.5 800.9,1059.4 802.9,1055.3 804.9,1058.6 806.8,1064.2 808.8,1066 810.8,1065.7 812.7,1065.5 814.7,1065.4 816.7,1062.6 818.6,1050.7 820.6,1046.6 822.5,1046.6 824.5,1051.9 826.5,1057.1 828.4,1058.4 830.4,1060.6 832.4,1061.2 834.3,1060.4 836.3,1057.1 838.2,1050.9 840.2,1049.3 842.2,1048.8 844.1,1045.8 846.1,1046 848.1,1047 850,1039.7 852,1029.6 854,1023.4 855.9,1019 857.9,1013.8 859.8,1002.5 861.8,983.1 863.8,958.7 865.7,936.4 867.7,914.7 869.7,889.6 871.6,857.3 873.6,821.3 875.5,794.9 877.5,779.5 879.5,776.7 881.4,767.5 883.4,757.5 885.4,754 887.3,772.4 889.3,795.9 891.3,816.6 893.2,830.7 895.2,850.7 897.1,887 899.1,924 901.1,949 903,970.6 905,987.2 907,998 908.9,1009.2 910.9,1017.4 912.9,1022.8 914.8,1032.9 916.8,1043.3 918.7,1047.5 920.7,1047.3 922.7,1041.8 924.6,1038.9 926.6,1040.2 928.6,1041.4 930.5,1040.1 932.5,1039.9 934.4,1040.4 936.4,1040.4 938.4,1040.4 940.3,1040.8 942.3,1043.1 944.3,1053.6 946.2,1057.8 948.2,1052.5 950.2,1045.6 952.1,1049.1 954.1,1052.5 956,1052.7 958,1056.5 960,1056.1 961.9,1047.7 963.9,1046.4 965.9,1050.4 967.8,1055.6 969.8,1052.7 971.8,1051.8 973.7,1057.2 975.7,1064.3 977.6,1064.6 979.6,1066.2 981.6,1067.3 983.5,1062.2 985.5,1061.5 987.5,1066.4 989.4,1066.5 991.4,1063.8 993.3,1065.5 995.3,1076.2 997.3,1082.1 999.2,1079.4 1001.2,1079.9 1003.2,1082.1 1005.1,1082.8 1007.1,1085.7 1009.1,1086.6 1011,1083.3 1013,1076.2 1014.9,1074.9 1016.9,1072.4 1018.9,1070.7 1020.8,1079.6 1022.8,1087.1 1024.8,1087 1026.7,1084.7 1028.7,1084.9 1030.7,1087 1032.6,1087.1 1034.6,1084.6 1036.5,1074.5 1038.5,1070.1 1040.5,1068.8 1042.4,1068.6 1044.4,1069.2 1046.4,1071.4 1048.3,1072.6 1050.3,1077.9 1052.2,1085.4 1054.2,1086.4 1056.2,1085.5 1058.1,1083.1 1060.1,1078.8 1062.1,1075.6 1064,1076.7 1066,1074.7 1068,1070.6 1069.9,1069.7 1071.9,1073.8 1073.8,1081.6 1075.8,1081.5 1077.8,1075.7 1079.7,1071.2 1081.7,1068.5 1083.7,1068.6 1085.6,1079.1 1087.6,1085 1089.5,1084.5 1091.5,1079.2 1093.5,1075.3 1095.4,1076.7 1097.4,1078.3 1099.4,1079.1 1101.3,1078.8 1103.3,1077.4 1105.3,1073.4 1107.2,1067.5 1109.2,1064.7 1111.1,1064.1 1113.1,1064.1 1115.1,1064.6 1117,1065.5 1119,1068.2 1121,1070 1122.9,1065.8 1124.9,1062.6 1126.9,1063 1128.8,1070.7 1130.8,1078 1132.7,1078 1134.7,1075.7 1136.7,1072.9 1138.6,1070.2 1140.6,1069.4 1142.6,1064.7 1144.5,1059.8 1146.5,1067.6 1148.4,1074.9 1150.4,1071.8 1152.4,1062.8 1154.3,1061.9 1156.3,1059.6 1158.3,1053.5 1160.2,1050.4 1162.2,1052 1164.2,1055.9 1166.1,1054.4 1168.1,1051 1170,1046.3 1172,1038.9 1174,1023.8 1175.9,1010.6 1177.9,1005 1179.9,1005.4 1181.8,1007.6 1183.8,1005.2 1185.8,1003.4 1187.7,1000.5 1189.7,1001 1191.6,1005.6 1193.6,1012.8 1195.6,1024.4 1197.5,1033.9 1199.5,1035 1201.5,1035.2 1203.4,1042 1205.4,1052.2 1207.3,1063.2 1209.3,1068.6 1211.3,1071.5 1213.2,1071.1 1215.2,1065 1217.2,1061.5 1219.1,1060.5 1221.1,1061.1 1223.1,1062.7 1225,1066.3 1227,1071.1 1228.9,1071.9 1230.9,1068.1 1232.9,1067.5 1234.8,1074.6 1236.8,1080.4 1238.8,1081.5 1240.7,1081.8 1242.7,1081.7 1244.7,1080.1 1246.6,1080.7 1248.6,1082.3 1250.5,1081.5 1252.5,1080.2 1254.5,1082.6 1256.4,1083 1258.4,1082.5 1260.4,1082.1 1262.3,1079.5 1264.3,1074.6 1266.2,1071.1 1268.2,1068.9 1270.2,1069 1272.1,1071.5 1274.1,1075.8 1276.1,1076.5 1278,1075.3 1280,1081.6 1282,1085.5 1283.9,1085.2 1285.9,1080.5 1287.8,1077.2 1289.8,1079.7 1291.8,1079.2 1293.7,1074 1295.7,1079 1297.7,1086.4 1299.6,1085 1301.6,1079.9 1303.5,1081.8 1305.5,1083.6 1307.5,1083.4 1309.4,1080.1 1311.4,1079.1 1313.4,1084.5 1315.3,1084.7 1317.3,1079.2 1319.3,1077 1321.2,1079.9 1323.2,1083.5 1325.1,1083.2 1327.1,1079.5 1329.1,1076.5 1331,1076.7 1333,1074 1335,1068.5 1336.9,1067.3 1338.9,1067.7 1340.9,1070.6 1342.8,1076.4 1344.8,1073.8 1346.7,1068.7 1348.7,1074.2 1350.7,1081.4 1352.6,1082.9 1354.6,1081.8 1356.6,1075.2 1358.5,1074.1 1360.5,1082.3 1362.4,1085.6 1364.4,1084.3 1366.4,1080.5 1368.3,1078 1370.3,1079.8 1372.3,1086 1374.2,1086.3 1376.2,1077.7 1378.2,1075 1380.1,1081.3 1382.1,1086.2 1384,1083.5 1386,1078.3 1388,1075.4 1389.9,1072.8 1391.9,1072.3 1393.9,1075.4 1395.8,1080.8 1397.8,1083.7 1399.8,1087.5 1401.7,1088.3 1403.7,1087.9 1405.6,1089.2 1407.6,1089.2 1409.6,1086.3 1411.5,1084.1 1413.5,1083.9 1415.5,1079.7 1417.4,1077.1 1419.4,1075.5 1421.3,1072.5 1423.3,1072.2 1425.3,1074.6 1427.2,1074.4 1429.2,1072.1 1431.2,1072.3 1433.1,1075.8 1435.1,1077.9 1437.1,1076.2 1439,1075.9 1441,1075.2 1442.9,1076.3 1444.9,1081.9 1446.9,1081.6 1448.8,1078 1450.8,1080.7 1452.8,1081.7 1454.7,1078.6 1456.7,1080.4 1458.6,1081.5 1460.6,1073.7 1462.6,1070.6 1464.5,1070.6 1466.5,1070.9 1468.5,1070.9 1470.4,1071.9 1472.4,1074.2 1474.4,1075.4 1476.3,1076.7 1478.3,1079 1480.2,1078 1482.2,1079.7 1484.2,1085.7 1486.1,1086.1 1488.1,1080.1 1490.1,1074.7 1492,1073.9 1494,1077.1 1496,1081.3 1497.9,1079.1 1499.9,1077.1 1501.8,1080.8 1503.8,1081.5 1505.8,1077.2 1507.7,1072.9 1509.7,1071.1 1511.7,1074.1 1513.6,1083.6 1515.6,1084.2 1517.5,1076.5 1519.5,1072.7 1521.5,1075.1 1523.4,1079.8 1525.4,1084.3 1527.4,1086.4 1529.3,1086.7 1531.3,1086.2 1533.3,1085.4 1535.2,1081.8 1537.2,1074.2 1539.1,1071.9 1541.1,1074.1 1543.1,1072.7 1545,1069.8 1547,1071.3 1549,1075.4 1550.9,1074.4 1552.9,1073 1554.9,1074.6 1556.8,1075 1558.8,1070.8 1560.7,1068.5 1562.7,1070.8 1564.7,1074.7 1566.6,1072.4 1568.6,1067.7 1570.6,1065.2 1572.5,1067 1574.5,1070.8 1576.4,1069.6 1578.4,1069.6 1580.4,1069.2 1582.3,1064.6 1584.3,1057 1586.3,1047.3 1588.2,1041.6 1590.2,1039.4 1592.2,1038.8 1594.1,1040.3 1596.1,1041.5 1598,1040.4 1600,1039 1602,1040.3 1603.9,1042.6 1605.9,1044.5 1607.9,1047.2 1609.8,1049.1 1611.8,1050.8 1613.8,1053.5 1615.7,1059 1617.7,1068.9 1619.6,1072.3 1621.6,1067.5 1623.6,1063.6 1625.5,1064.6 1627.5,1066.5 1629.5,1067 1631.4,1069.9 1633.4,1072.8 1635.3,1070.8 1637.3,1073.1 1639.3,1079.5 1641.2,1081.3 1643.2,1080.9 1645.2,1080.6 1647.1,1081.3 1649.1,1081.5 1651.1,1080.6 1653,1079.8 1655,1078.9 1656.9,1074.2 1658.9,1067.9 1660.9,1067.5 1662.8,1070 1664.8,1069.1 1666.8,1069.5 1668.7,1073.4 1670.7,1070.6 1672.6,1062.8 1674.6,1062.2 1676.6,1067 1678.5,1068.4 1680.5,1063.3 1682.5,1060.4 1684.4,1060.9 1686.4,1065.4 1688.4,1066.6 1690.3,1062.9 1692.3,1062.7 1694.2,1067 1696.2,1068.5 1698.2,1063.8 1700.1,1062.9 1702.1,1069 1704.1,1067.8 1706,1058.1 1708,1053.5 1710,1052.9 1711.9,1058.5 1713.9,1060.1 1715.8,1051.2 1717.8,1035.6 1719.8,1033.9 1721.7,1037.5 1723.7,1031.7 1725.7,1023.1 1727.6,1009.9 1729.6,994.6 1731.5,984.7 1733.5,979.3 1735.5,979.5 1737.4,986.8 1739.4,992.1 1741.4,993.9 1743.3,992.2 1745.3,999 1747.3,1010.7 1749.2,1017.2 1751.2,1016.1 1753.1,1022.5 1755.1,1036.4 1757.1,1041.3 1759,1041.3 1761,1049.4 1763,1055.6 1764.9,1053.2 1766.9,1052.6 1768.9,1055.8 1770.8,1061.1 1772.8,1067.8 1774.7,1072.9 1776.7,1072.9 1778.7,1066.3 1780.6,1065.6 1782.6,1073.1 1784.6,1076.7 1786.5,1076.6 1788.5,1072 1790.4,1067.3 1792.4,1068.8 1794.4,1066.7 1796.3,1064 1798.3,1065.8 1800.3,1070.2 1802.2,1067.8 1804.2,1064.7 1806.2,1064 1808.1,1064.1 1810.1,1065.8 1812,1067.8 1814,1066 1816,1065.9 1817.9,1066.5 1819.9,1066.1 1821.9,1069.2 1823.8,1071.5 1825.8,1069.7 1827.8,1072.9 1829.7,1075.5 1831.7,1073.5 1833.6,1075.9 1835.6,1079.3 1837.6,1078.8 1839.5,1076.5 1841.5,1075.3 1843.5,1075.1 1845.4,1072.8 1847.4,1072.6 1849.3,1078.7 1851.3,1080.5 1853.3,1080 1855.2,1081.2 1857.2,1080.9 1859.2,1075.5 1861.1,1071 1863.1,1071.1 1865.1,1075.6 1867,1079.4 1869,1076 1870.9,1068.6 1872.9,1068.5 1874.9,1069.2 1876.8,1067.3 1878.8,1065.1 1880.8,1062.2 1882.7,1060.9 1884.7,1062 1886.6,1064.7 1888.6,1065 1890.6,1063.2 1892.5,1063.4 1894.5,1064.1 1896.5,1059.6 1898.4,1055.3 1900.4,1054.2 1902.4,1055.2 1904.3,1056.5 1906.3,1058.2 1908.2,1064.5 1910.2,1067.6 1912.2,1067.4 1914.1,1063.6 1916.1,1055.3 1918.1,1056.5 1920,1061.7 1922,1061.9 1924,1060.1 1925.9,1058.9 1927.9,1057.5 1929.8,1054.5 1931.8,1049.7 1933.8,1043.9 1935.7,1037.2 1937.7,1031.2 1939.7,1024.9 1941.6,1017.2 1943.6,1010 1945.5,1002.1 1947.5,992.2 1949.5,980.9 1951.4,973 1953.4,970.5 1955.4,964.1 1957.3,949.4 1959.3,945.3 1961.3,952.3 1963.2,967.8 1965.2,975.5 1967.1,980.2 1969.1,981.9 1971.1,989.7 1973,1005.9 1975,1017.9 1977,1024.6 1978.9,1029 1980.9,1034.6 1982.9,1036.8 1984.8,1040 1986.8,1043.1 1988.7,1044.8 1990.7,1049.7 1992.7,1060.1 1994.6,1060.7 1996.6,1058.4 1998.6,1065.2 2000.5,1072.8 2002.5,1075.3 2004.4,1076.3 2006.4,1075.1 2008.4,1072.4 2010.3,1071.2 2012.3,1069.6 2014.3,1069 2016.2,1071.6 2018.2,1075.5 2020.2,1075.9 2022.1,1072.3 2024.1,1070 2026,1070 2028,1067.9 2030,1066.3 2031.9,1067.4 2033.9,1068.5 2035.9,1068.3 2037.8,1071.6 2039.8,1079.8 2041.7,1082 2043.7,1081.4 2045.7,1079.9 2047.6,1081.7 2049.6,1082 2051.6,1078.8 2053.5,1076.1 2055.5,1079 2057.5,1081.4 2059.4,1082.5 2061.4,1082.7 2063.3,1080.9 2065.3,1076 2067.3,1075.3 2069.2,1079.6 2071.2,1080.4 2073.2,1078.4 2075.1,1081 2077.1,1082.9 2079.1,1077.8 2081,1070.1 2083,1068.8 2084.9,1070.7 2086.9,1074 2088.9,1073.9 2090.8,1071.7 2092.8,1071 2094.8,1072 2096.7,1078.2 2098.7,1082.3 2100.6,1076.3 2102.6,1071 2104.6,1073.2 2106.5,1076.5 2108.5,1075 2110.5,1072.7 2112.4,1072.8 2114.4,1076.7 2116.4,1080.3 2118.3,1080.1 2120.3,1079.5 2122.2,1076.6 2124.2,1072.9 2126.2,1074.9 2128.1,1080.6 2130.1,1082.5 2132.1,1085.2 2134,1086.5 2136,1080.6 2138,1075.8 2139.9,1083.9 2141.9,1088.3 2143.8,1083.9 2145.8,1073.7 2147.8,1072.5 2149.7,1072.8 2151.7,1072.5 2153.7,1072.8 2155.6,1072.7 2157.6,1072.8 2159.5,1076.2 2161.5,1079.6 2163.5,1079.6 2165.4,1083.5 2167.4,1086.2 2169.4,1084 2171.3,1079.3 2173.3,1079.4 2175.3,1085.8 2177.2,1087.6 2179.2,1081.6 2181.1,1078 2183.1,1083.2 2185.1,1087.9 2187,1089.7 2189,1089.8 2191,1086.9 2192.9,1078.2 2194.9,1074.9 2196.9,1076.5 2198.8,1085.1 2200.8,1089.8 2202.7,1088.7 2204.7,1075.6 2206.7,1072.6 2208.6,1074.3 2210.6,1074.5 2212.6,1073.3 2214.5,1074.9 2216.5,1079.4 2218.4,1080" fill="none" stroke="none" marker-start="url(#o)" marker-mid="url(#o)" marker-end="url(#o)"/>
<polyline points="263,1071.5 265,1071.5 266.9,1071.6 268.9,1071.6 270.9,1071.6 272.8,1071.6 274.8,1071.7 276.7,1071.7 278.7,1071.7 280.7,1071.7 282.6,1071.8 284.6,1071.8 286.6,1071.8 288.5,1071.8 290.5,1071.9 292.4,1071.9 294.4,1071.9 296.4,1071.9 298.3,1072 300.3,1072 302.3,1072 304.2,1072 306.2,1072.1 308.2,1072.1 310.1,1072.1 312.1,1072.1 314,1072.2 316,1072.2 318,1072.2 319.9,1072.2 321.9,1072.3 323.9,1072.3 325.8,1072.3 327.8,1072.4 329.8,1072.4 331.7,1072.4 333.7,1072.4 335.6,1072.5 337.6,1072.5 339.6,1072.5 341.5,1072.5 343.5,1072.6 345.5,1072.6 347.4,1072.6 349.4,1072.6 351.3,1072.7 353.3,1072.7 355.3,1072.7 357.2,1072.7 359.2,1072.8 361.2,1072.8 363.1,1072.8 365.1,1072.8 367.1,1072.9 369,1072.9 371,1072.9 372.9,1072.9 374.9,1073 376.9,1073 378.8,1073 380.8,1073 382.8,1073.1 384.7,1073.1 386.7,1073.1 388.7,1073.2 390.6,1073.2 392.6,1073.2 394.5,1073.2 396.5,1073.3 398.5,1073.3 400.4,1073.3 402.4,1073.3 404.4,1073.4 406.3,1073.4 408.3,1073.4 410.2,1073.4 412.2,1073.5 414.2,1073.5 416.1,1073.5 418.1,1073.5 420.1,1073.6 422,1073.6 424,1073.6 426,1073.6 427.9,1073.7 429.9,1073.7 431.8,1073.7 433.8,1073.7 435.8,1073.8 437.7,1073.8 439.7,1073.8 441.7,1073.9 443.6,1073.9 445.6,1073.9 447.6,1073.9 449.5,1074 451.5,1074 453.4,1074 455.4,1073.9 457.4,1073.9 459.3,1073.8 461.3,1073.8 463.3,1073.7 465.2,1073.7 467.2,1073.6 469.1,1073.6 471.1,1073.5 473.1,1073.5 475,1073.4 477,1073.4 479,1073.3 480.9,1073.3 482.9,1073.2 484.9,1073.2 486.8,1073.1 488.8,1073.1 490.7,1073 492.7,1072.9 494.7,1072.9 496.6,1072.8 498.6,1072.8 500.6,1072.7 502.5,1072.7 504.5,1072.6 506.4,1072.6 508.4,1072.5 510.4,1072.5 512.3,1072.4 514.3,1072.4 516.3,1072.3 518.2,1072.3 520.2,1072.2 522.2,1072.2 524.1,1072.1 526.1,1072.1 528,1072 530,1072 532,1071.9 533.9,1071.9 535.9,1071.8 537.9,1071.7 539.8,1071.7 541.8,1071.6 543.8,1071.6 545.7,1071.5 547.7,1071.5 549.6,1071.4 551.6,1071.4 553.6,1071.3 555.5,1071.3 557.5,1071.2 559.5,1071.2 561.4,1071.1 563.4,1071.1 565.3,1071 567.3,1071 569.3,1070.9 571.2,1070.9 573.2,1070.8 575.2,1070.8 577.1,1070.7 579.1,1070.7 581.1,1070.6 583,1070.6 585,1070.4 586.9,1070.2 588.9,1069.9 590.9,1069.6 592.8,1069.4 594.8,1069.1 596.8,1068.8 598.7,1068.5 600.7,1068.2 602.7,1067.9 604.6,1067.6 606.6,1067.4 608.5,1067.1 610.5,1066.8 612.5,1066.5 614.4,1066.2 616.4,1065.9 618.4,1065.6 620.3,1065.4 622.3,1065.1 624.2,1064.8 626.2,1064.5 628.2,1064.1 630.1,1063.8 632.1,1063.4 634.1,1062.9 636,1062.4 638,1061.6 640,1060.7 641.9,1059.6 643.9,1058.2 645.8,1056.2 647.8,1053.6 649.8,1050.2 651.7,1045.9 653.7,1040.8 655.7,1034.9 657.6,1028.4 659.6,1021.6 661.5,1014.7 663.5,1008.2 665.5,1002.6 667.4,998.2 669.4,995.4 671.4,994.5 673.3,995.4 675.3,998.2 677.3,1002.6 679.2,1008.3 681.2,1014.8 683.1,1021.7 685.1,1028.6 687.1,1035.2 689,1041.2 691,1046.4 693,1050.7 694.9,1054.2 696.9,1056.9 698.9,1059 700.8,1060.5 702.8,1061.6 704.7,1062.4 706.7,1063 708.7,1063.6 710.6,1064.1 712.6,1064.5 714.6,1064.9 716.5,1065.2 718.5,1065.6 720.4,1065.9 722.4,1066.2 724.4,1066.5 726.3,1066.8 728.3,1067.1 730.3,1067.4 732.2,1067.7 734.2,1067.8 736.2,1067.7 738.1,1067.6 740.1,1067.4 742,1067.3 744,1067.1 746,1067 747.9,1066.9 749.9,1066.7 751.9,1066.6 753.8,1066.4 755.8,1066.3 757.8,1066.2 759.7,1066 761.7,1065.8 763.6,1065.5 765.6,1065.3 767.6,1065 769.5,1064.7 771.5,1064.5 773.5,1064.2 775.4,1064 777.4,1063.7 779.3,1063.4 781.3,1063.2 783.3,1062.9 785.2,1062.7 787.2,1062.4 789.2,1062.1 791.1,1061.9 793.1,1061.6 795.1,1061.4 797,1061.1 799,1060.8 800.9,1060.6 802.9,1060.3 804.9,1060.1 806.8,1059.8 808.8,1059.5 810.8,1059.3 812.7,1059 814.7,1058.8 816.7,1058.5 818.6,1058.2 820.6,1058 822.5,1057.7 824.5,1057.5 826.5,1057.2 828.4,1056.9 830.4,1056.6 832.4,1056.4 834.3,1056.1 836.3,1055.9 838.2,1055.7 840.2,1055.4 842.2,1054.8 844.1,1054 846.1,1052.7 848.1,1050.7 850,1047.7 852,1043.6 854,1037.8 855.9,1030.1 857.9,1019.9 859.8,1007 861.8,991.1 863.8,972.1 865.7,950.2 867.7,925.7 869.7,899.5 871.6,872.5 873.6,846.1 875.5,821.6 877.5,800.7 879.5,784.5 881.4,774.4 883.4,770.9 885.4,774.3 887.3,784.4 889.3,800.4 891.3,821.3 893.2,845.7 895.2,872 897.1,898.8 899.1,925 901.1,949.3 903,971.1 905,989.9 907,1005.6 908.9,1018.4 910.9,1028.4 912.9,1036 914.8,1041.6 916.8,1045.6 918.7,1048.4 920.7,1050.3 922.7,1051.5 924.6,1052.3 926.6,1052.8 928.6,1053 930.5,1053.1 932.5,1053.2 934.4,1053.2 936.4,1053.2 938.4,1053.1 940.3,1053.1 942.3,1053 944.3,1053 946.2,1052.9 948.2,1052.9 950.2,1052.8 952.1,1052.8 954.1,1052.7 956,1052.7 958,1052.9 960,1053.7 961.9,1054.8 963.9,1055.9 965.9,1056.9 967.8,1058 969.8,1059.1 971.8,1060.2 973.7,1061.3 975.7,1062.5 977.6,1063.7 979.6,1065 981.6,1066.3 983.5,1067.6 985.5,1068.8 987.5,1070.1 989.4,1071.4 991.4,1072.7 993.3,1074 995.3,1075.2 997.3,1076.4 999.2,1077.1 1001.2,1077.4 1003.2,1077.6 1005.1,1077.9 1007.1,1078.1 1009.1,1078.3 1011,1078.4 1013,1078.4 1014.9,1078.4 1016.9,1078.4 1018.9,1078.3 1020.8,1078.3 1022.8,1078.2 1024.8,1078.2 1026.7,1078.1 1028.7,1078.1 1030.7,1078.1 1032.6,1078 1034.6,1078 1036.5,1077.9 1038.5,1077.9 1040.5,1077.8 1042.4,1077.8 1044.4,1077.8 1046.4,1077.7 1048.3,1077.7 1050.3,1077.6 1052.2,1077.6 1054.2,1077.6 1056.2,1077.5 1058.1,1077.5 1060.1,1077.4 1062.1,1077.4 1064,1077.3 1066,1077.3 1068,1077.3 1069.9,1077.2 1071.9,1077.2 1073.8,1077.1 1075.8,1077.1 1077.8,1077 1079.7,1077 1081.7,1076.8 1083.7,1076.5 1085.6,1076.3 1087.6,1076 1089.5,1075.8 1091.5,1075.5 1093.5,1075.3 1095.4,1075 1097.4,1074.8 1099.4,1074.5 1101.3,1074.3 1103.3,1074 1105.3,1073.8 1107.2,1073.5 1109.2,1073.2 1111.1,1073 1113.1,1072.7 1115.1,1072.5 1117,1072.2 1119,1072 1121,1071.7 1122.9,1071.5 1124.9,1071.2 1126.9,1071 1128.8,1070.7 1130.8,1070.5 1132.7,1070.2 1134.7,1069.9 1136.7,1069.7 1138.6,1069.4 1140.6,1069.1 1142.6,1068.8 1144.5,1068.4 1146.5,1068 1148.4,1067.5 1150.4,1066.9 1152.4,1066.4 1154.3,1065.6 1156.3,1064.6 1158.3,1063.2 1160.2,1061.3 1162.2,1059 1164.2,1056.1 1166.1,1052.7 1168.1,1048.8 1170,1044.5 1172,1039.9 1174,1035.3 1175.9,1030.8 1177.9,1026.8 1179.9,1023.4 1181.8,1020.8 1183.8,1019.4 1185.8,1019.1 1187.7,1020 1189.7,1022.1 1191.6,1025.1 1193.6,1029 1195.6,1033.5 1197.5,1038.2 1199.5,1043.1 1201.5,1047.8 1203.4,1052.1 1205.4,1056.1 1207.3,1059.5 1209.3,1062.4 1211.3,1064.8 1213.2,1066.7 1215.2,1068.2 1217.2,1069.3 1219.1,1070.1 1221.1,1070.8 1223.1,1071.3 1225,1071.7 1227,1072 1228.9,1072.3 1230.9,1072.5 1232.9,1072.7 1234.8,1072.9 1236.8,1073.1 1238.8,1073.2 1240.7,1073.4 1242.7,1073.6 1244.7,1073.7 1246.6,1073.9 1248.6,1074.1 1250.5,1074.2 1252.5,1074.4 1254.5,1074.6 1256.4,1074.7 1258.4,1074.9 1260.4,1075.1 1262.3,1075.2 1264.3,1075.4 1266.2,1075.5 1268.2,1075.7 1270.2,1075.9 1272.1,1076 1274.1,1076.2 1276.1,1076.4 1278,1076.5 1280,1076.7 1282,1076.8 1283.9,1077 1285.9,1077.2 1287.8,1077.3 1289.8,1077.5 1291.8,1077.7 1293.7,1077.8 1295.7,1078 1297.7,1078.1 1299.6,1078.3 1301.6,1078.5 1303.5,1078.6 1305.5,1078.8 1307.5,1078.9 1309.4,1079.1 1311.4,1079.2 1313.4,1079.4 1315.3,1079.5 1317.3,1079.6 1319.3,1079.6 1321.2,1079.6 1323.2,1079.6 1325.1,1079.5 1327.1,1079.2 1329.1,1078.8 1331,1078.3 1333,1077.7 1335,1077.1 1336.9,1076.5 1338.9,1075.8 1340.9,1075.2 1342.8,1074.7 1344.8,1074.3 1346.7,1074.1 1348.7,1074 1350.7,1074.1 1352.6,1074.4 1354.6,1074.9 1356.6,1075.4 1358.5,1076.1 1360.5,1076.8 1362.4,1077.5 1364.4,1078.2 1366.4,1078.8 1368.3,1079.3 1370.3,1079.8 1372.3,1080.2 1374.2,1080.5 1376.2,1080.7 1378.2,1080.9 1380.1,1081 1382.1,1081 1384,1081 1386,1081 1388,1081 1389.9,1081 1391.9,1080.9 1393.9,1080.9 1395.8,1080.9 1397.8,1080.8 1399.8,1080.8 1401.7,1080.7 1403.7,1080.7 1405.6,1080.7 1407.6,1080.6 1409.6,1080.6 1411.5,1080.5 1413.5,1080.5 1415.5,1080.5 1417.4,1080.4 1419.4,1080.4 1421.3,1080.3 1423.3,1080.3 1425.3,1080.3 1427.2,1080.2 1429.2,1080.2 1431.2,1080.2 1433.1,1080.1 1435.1,1080.1 1437.1,1080 1439,1080 1441,1080 1442.9,1079.9 1444.9,1079.9 1446.9,1079.8 1448.8,1079.8 1450.8,1079.8 1452.8,1079.7 1454.7,1079.7 1456.7,1079.6 1458.6,1079.6 1460.6,1079.6 1462.6,1079.5 1464.5,1079.5 1466.5,1079.4 1468.5,1079.4 1470.4,1079.4 1472.4,1079.3 1474.4,1079.3 1476.3,1079.3 1478.3,1079.2 1480.2,1079.2 1482.2,1079.1 1484.2,1079.1 1486.1,1079.1 1488.1,1079 1490.1,1079 1492,1078.9 1494,1078.9 1496,1078.9 1497.9,1078.8 1499.9,1078.8 1501.8,1078.7 1503.8,1078.7 1505.8,1078.7 1507.7,1078.6 1509.7,1078.6 1511.7,1078.5 1513.6,1078.5 1515.6,1078.5 1517.5,1078.4 1519.5,1078.4 1521.5,1078.3 1523.4,1078.3 1525.4,1078.3 1527.4,1078.2 1529.3,1078.2 1531.3,1078.2 1533.3,1078.1 1535.2,1078.1 1537.2,1078 1539.1,1078 1541.1,1077.9 1543.1,1077.9 1545,1077.8 1547,1077.8 1549,1077.7 1550.9,1077.6 1552.9,1077.5 1554.9,1077.4 1556.8,1077.2 1558.8,1076.9 1560.7,1076.6 1562.7,1076.2 1564.7,1075.7 1566.6,1075.1 1568.6,1074.4 1570.6,1073.5 1572.5,1072.4 1574.5,1071.2 1576.4,1069.9 1578.4,1068.5 1580.4,1067 1582.3,1065.4 1584.3,1063.8 1586.3,1062.4 1588.2,1061 1590.2,1059.9 1592.2,1059 1594.1,1058.4 1596.1,1058.2 1598,1058.2 1600,1058.6 1602,1059.3 1603.9,1060.3 1605.9,1061.5 1607.9,1062.8 1609.8,1064.2 1611.8,1065.7 1613.8,1067.1 1615.7,1068.5 1617.7,1069.7 1619.6,1070.8 1621.6,1071.8 1623.6,1072.6 1625.5,1073.2 1627.5,1073.8 1629.5,1074.2 1631.4,1074.5 1633.4,1074.7 1635.3,1074.8 1637.3,1074.9 1639.3,1074.8 1641.2,1074.7 1643.2,1074.5 1645.2,1074.2 1647.1,1074 1649.1,1073.7 1651.1,1073.5 1653,1073.2 1655,1073 1656.9,1072.7 1658.9,1072.4 1660.9,1072.2 1662.8,1071.9 1664.8,1071.6 1666.8,1071.4 1668.7,1071.1 1670.7,1070.9 1672.6,1070.6 1674.6,1070.3 1676.6,1070.1 1678.5,1069.8 1680.5,1069.6 1682.5,1069.4 1684.4,1069.1 1686.4,1068.9 1688.4,1068.7 1690.3,1068.4 1692.3,1068.1 1694.2,1067.9 1696.2,1067.7 1698.2,1067.3 1700.1,1066.9 1702.1,1066.3 1704.1,1065.5 1706,1064.5 1708,1063.1 1710,1061.2 1711.9,1058.9 1713.9,1056 1715.8,1052.5 1717.8,1048.3 1719.8,1043.6 1721.7,1038.4 1723.7,1032.8 1725.7,1027.1 1727.6,1021.4 1729.6,1016 1731.5,1011.3 1733.5,1007.5 1735.5,1004.8 1737.4,1003.5 1739.4,1003.5 1741.4,1005 1743.3,1008 1745.3,1012 1747.3,1016.9 1749.2,1022.4 1751.2,1028.2 1753.1,1034.1 1755.1,1039.7 1757.1,1045 1759,1049.7 1761,1053.9 1763,1057.4 1764.9,1060.4 1766.9,1062.7 1768.9,1064.6 1770.8,1066.1 1772.8,1067.2 1774.7,1068.1 1776.7,1068.8 1778.7,1069.3 1780.6,1069.8 1782.6,1070.3 1784.6,1070.8 1786.5,1071.2 1788.5,1071.6 1790.4,1072 1792.4,1072.4 1794.4,1072.8 1796.3,1073.2 1798.3,1073.4 1800.3,1073.5 1802.2,1073.5 1804.2,1073.5 1806.2,1073.4 1808.1,1073.4 1810.1,1073.4 1812,1073.4 1814,1073.4 1816,1073.4 1817.9,1073.4 1819.9,1073.3 1821.9,1073.3 1823.8,1073.3 1825.8,1073.3 1827.8,1073.3 1829.7,1073.3 1831.7,1073.3 1833.6,1073.2 1835.6,1073.2 1837.6,1073.2 1839.5,1073.2 1841.5,1073.2 1843.5,1073.2 1845.4,1073.2 1847.4,1073.1 1849.3,1073.1 1851.3,1073.1 1853.3,1073.1 1855.2,1073.1 1857.2,1073.1 1859.2,1073.1 1861.1,1073 1863.1,1073 1865.1,1073 1867,1073 1869,1072.7 1870.9,1072.3 1872.9,1071.9 1874.9,1071.4 1876.8,1071 1878.8,1070.5 1880.8,1070.1 1882.7,1069.7 1884.7,1069.2 1886.6,1068.8 1888.6,1068.3 1890.6,1067.7 1892.5,1067 1894.5,1066.2 1896.5,1065.4 1898.4,1064.6 1900.4,1063.8 1902.4,1063 1904.3,1062.2 1906.3,1061.5 1908.2,1061 1910.2,1060.7 1912.2,1060.4 1914.1,1060 1916.1,1059.6 1918.1,1059 1920,1058.2 1922,1057.2 1924,1056 1925.9,1054.4 1927.9,1052.4 1929.8,1049.9 1931.8,1046.8 1933.8,1043.1 1935.7,1038.5 1937.7,1033.3 1939.7,1027.4 1941.6,1020.9 1943.6,1014 1945.5,1006.9 1947.5,999.9 1949.5,993.3 1951.4,987.4 1953.4,982.5 1955.4,978.9 1957.3,976.8 1959.3,976.3 1961.3,977.6 1963.2,980.6 1965.2,985 1967.1,990.7 1969.1,997.2 1971.1,1004.4 1973,1011.9 1975,1019.3 1977,1026.5 1978.9,1033.3 1980.9,1039.4 1982.9,1044.9 1984.8,1049.6 1986.8,1053.6 1988.7,1057 1990.7,1059.8 1992.7,1062.1 1994.6,1064.1 1996.6,1065.7 1998.6,1067.1 2000.5,1068.2 2002.5,1069.2 2004.4,1069.9 2006.4,1070.5 2008.4,1070.8 2010.3,1071 2012.3,1071.2 2014.3,1071.3 2016.2,1071.5 2018.2,1071.7 2020.2,1071.8 2022.1,1072 2024.1,1072.1 2026,1072.3 2028,1072.4 2030,1072.6 2031.9,1072.7 2033.9,1072.9 2035.9,1073 2037.8,1073.2 2039.8,1073.3 2041.7,1073.5 2043.7,1073.6 2045.7,1073.8 2047.6,1073.9 2049.6,1074.1 2051.6,1074.2 2053.5,1074.4 2055.5,1074.5 2057.5,1074.7 2059.4,1074.8 2061.4,1075 2063.3,1075.1 2065.3,1075.3 2067.3,1075.4 2069.2,1075.6 2071.2,1075.7 2073.2,1075.9 2075.1,1076 2077.1,1076.2 2079.1,1076.3 2081,1076.4 2083,1076.5 2084.9,1076.7 2086.9,1076.8 2088.9,1076.9 2090.8,1077 2092.8,1077.1 2094.8,1077.2 2096.7,1077.4 2098.7,1077.5 2100.6,1077.6 2102.6,1077.7 2104.6,1077.8 2106.5,1078 2108.5,1078.1 2110.5,1078.2 2112.4,1078.3 2114.4,1078.4 2116.4,1078.5 2118.3,1078.7 2120.3,1078.8 2122.2,1078.9 2124.2,1079 2126.2,1079.1 2128.1,1079.2 2130.1,1079.4 2132.1,1079.5 2134,1079.6 2136,1079.7 2138,1079.8 2139.9,1080 2141.9,1080.1 2143.8,1080.2 2145.8,1080.3 2147.8,1080.4 2149.7,1080.5 2151.7,1080.5 2153.7,1080.5 2155.6,1080.6 2157.6,1080.6 2159.5,1080.6 2161.5,1080.6 2163.5,1080.6 2165.4,1080.7 2167.4,1080.7 2169.4,1080.7 2171.3,1080.7 2173.3,1080.8 2175.3,1080.8 2177.2,1080.8 2179.2,1080.8 2181.1,1080.8 2183.1,1080.9 2185.1,1080.9 2187,1080.9 2189,1080.9 2191,1080.9 2192.9,1081 2194.9,1081 2196.9,1081 2198.8,1081 2200.8,1081 2202.7,1081.1 2204.7,1081.1 2206.7,1081.1 2208.6,1081.1 2210.6,1081.1 2212.6,1081.2 2214.5,1081.2 2216.5,1081.2 2218.4,1081.2" fill="none" stroke="#000" stroke-width="11" stroke-linejoin="round" stroke-linecap="square"/>
<polyline points="263,1399.3 265,1399 266.9,1399.3 268.9,1404.4 270.9,1406.6 272.8,1403.4 274.8,1402.1 276.7,1407.9 278.7,1412.5 280.7,1410.1 282.6,1398.6 284.6,1396.7 286.6,1404.6 288.5,1413.3 290.5,1413.7 292.4,1412.5 294.4,1408.3 296.4,1403.4 298.3,1404 300.3,1404.4 302.3,1401.7 304.2,1405.4 306.2,1411.1 308.2,1405.5 310.1,1398.1 312.1,1398.8 314,1399 316,1397.1 318,1398.7 319.9,1405.5 321.9,1409 323.9,1412.7 325.8,1412.9 327.8,1406.6 329.8,1401.4 331.7,1399.7 333.7,1399.3 335.6,1401.7 337.6,1403.2 339.6,1404.7 341.5,1411.8 343.5,1414.7 345.5,1414.4 347.4,1413.3 349.4,1413.3 351.3,1414 353.3,1414.3 355.3,1413.9 357.2,1410.1 359.2,1401.8 361.2,1398.8 363.1,1399.9 365.1,1407.5 367.1,1413.2 369,1411.1 371,1405.3 372.9,1402.8 374.9,1400.5 376.9,1399.2 378.8,1399.3 380.8,1399.2 382.8,1400.4 384.7,1403.6 386.7,1402.6 388.7,1399.2 390.6,1399.5 392.6,1405.3 394.5,1409.7 396.5,1411.7 398.5,1413.3 400.4,1408.6 402.4,1402.5 404.4,1408.5 406.3,1414.3 408.3,1411.4 410.2,1405.4 412.2,1409.2 414.2,1414.1 416.1,1414.9 418.1,1413.5 420.1,1407.7 422,1405.7 424,1410.1 426,1407.2 427.9,1398.4 429.9,1397.9 431.8,1404.6 433.8,1412.9 435.8,1412.6 437.7,1408.8 439.7,1410.9 441.7,1414.1 443.6,1413.9 445.6,1413 447.6,1412.2 449.5,1409 451.5,1406 453.4,1404.5 455.4,1403.9 457.4,1405.1 459.3,1405.6 461.3,1408.5 463.3,1412.5 465.2,1410.4 467.2,1403 469.1,1401.9 471.1,1407 473.1,1411.2 475,1412.1 477,1411.5 479,1408.6 480.9,1403.2 482.9,1400.1 484.9,1402.5 486.8,1406.7 488.8,1407.5 490.7,1410.2 492.7,1408.9 494.7,1398.6 496.6,1396.6 498.6,1397.8 500.6,1407.8 502.5,1414.1 504.5,1413.5 506.4,1406.9 508.4,1404.1 510.4,1406.9 512.3,1411 514.3,1412 516.3,1410 518.2,1408.5 520.2,1407 522.2,1406.5 524.1,1410.9 526.1,1411.7 528,1404.7 530,1398.5 532,1398.6 533.9,1403.2 535.9,1407.2 537.9,1404.8 539.8,1403.8 541.8,1408.6 543.8,1411 545.7,1411.7 547.7,1412.8 549.6,1413 551.6,1412.3 553.6,1412.5 555.5,1412.1 557.5,1407.1 559.5,1404.1 561.4,1405.7 563.4,1402.4 565.3,1396.9 567.3,1395.5 569.3,1395.6 571.2,1397.9 573.2,1400.4 575.2,1400.8 577.1,1405.3 579.1,1409 581.1,1405.4 583,1399 585,1396.4 586.9,1395.4 588.9,1395.7 590.9,1398.2 592.8,1398.3 594.8,1395 596.8,1393.7 598.7,1394.4 600.7,1399.7 602.7,1407.6 604.6,1408.2 606.6,1401.6 608.5,1391.4 610.5,1389.9 612.5,1389.7 614.4,1391.6 616.4,1395.3 618.4,1394.7 620.3,1393.8 622.3,1397.1 624.2,1401.5 626.2,1399.4 628.2,1392.2 630.1,1390.7 632.1,1393 634.1,1390.5 636,1385.5 638,1383.7 640,1382.8 641.9,1388 643.9,1397 645.8,1394.4 647.8,1387.7 649.8,1381.7 651.7,1371.4 653.7,1362.5 655.7,1357 657.6,1353.9 659.6,1351.2 661.5,1340.9 663.5,1330.7 665.5,1327.8 667.4,1323.8 669.4,1321.2 671.4,1324.9 673.3,1327.4 675.3,1329.8 677.3,1331 679.2,1330.7 681.2,1343.7 683.1,1358.5 685.1,1365.8 687.1,1371.4 689,1368.3 691,1367.7 693,1372 694.9,1377.9 696.9,1385.3 698.9,1388.3 700.8,1384.9 702.8,1383.6 704.7,1385.2 706.7,1389.2 708.7,1390 710.6,1391.2 712.6,1397.4 714.6,1395.5 716.5,1388 718.5,1388.2 720.4,1399.1 722.4,1404.6 724.4,1404.2 726.3,1396.8 728.3,1392.8 730.3,1396.2 732.2,1398.4 734.2,1402 736.2,1404.5 738.1,1404 740.1,1402.3 742,1403.6 744,1404 746,1401.3 747.9,1398.7 749.9,1397 751.9,1392.9 753.8,1392.2 755.8,1392.8 757.8,1389.3 759.7,1387.4 761.7,1388 763.6,1399.2 765.6,1405.2 767.6,1405.1 769.5,1403.4 771.5,1397.8 773.5,1391.5 775.4,1388.4 777.4,1383.5 779.3,1380.1 781.3,1380.5 783.3,1380.9 785.2,1378.7 787.2,1378.9 789.2,1382.5 791.1,1385.6 793.1,1385.3 795.1,1382.1 797,1380.7 799,1380.1 800.9,1377.8 802.9,1378.2 804.9,1383.9 806.8,1389.2 808.8,1389 810.8,1381 812.7,1375.6 814.7,1376.9 816.7,1380.2 818.6,1379.9 820.6,1379.8 822.5,1383.6 824.5,1384.6 826.5,1381.5 828.4,1385.4 830.4,1389.5 832.4,1387.7 834.3,1383.9 836.3,1383.4 838.2,1384.5 840.2,1382.8 842.2,1376.6 844.1,1372.5 846.1,1371.3 848.1,1371.7 850,1372.2 852,1367.7 854,1353.9 855.9,1343.6 857.9,1333.7 859.8,1321.9 861.8,1311 863.8,1304.3 865.7,1286.8 867.7,1258.8 869.7,1230.4 871.6,1204.6 873.6,1178 875.5,1151.8 877.5,1131.6 879.5,1122 881.4,1116.3 883.4,1110.2 885.4,1107.1 887.3,1109.1 889.3,1120 891.3,1140.7 893.2,1165 895.2,1186.9 897.1,1203.5 899.1,1226.6 901.1,1258.7 903,1283.6 905,1301.5 907,1323.4 908.9,1341 910.9,1352.1 912.9,1359.9 914.8,1370 916.8,1376.4 918.7,1378.6 920.7,1374.3 922.7,1368.4 924.6,1368 926.6,1371.5 928.6,1378.6 930.5,1376.4 932.5,1368.8 934.4,1366 936.4,1365 938.4,1364.9 940.3,1370.5 942.3,1380.1 944.3,1380.4 946.2,1380.1 948.2,1375 950.2,1361.9 952.1,1361.8 954.1,1363.4 956,1368.1 958,1381.6 960,1387.4 961.9,1389.5 963.9,1390.7 965.9,1394.1 967.8,1396.9 969.8,1393.7 971.8,1386.7 973.7,1387.9 975.7,1398.8 977.6,1406.3 979.6,1406.8 981.6,1400.1 983.5,1396.7 985.5,1399.4 987.5,1401.6 989.4,1403 991.4,1404.9 993.3,1406.2 995.3,1408.5 997.3,1409.6 999.2,1407.1 1001.2,1404 1003.2,1404.6 1005.1,1407.7 1007.1,1409.1 1009.1,1407.7 1011,1403.7 1013,1401 1014.9,1402.4 1016.9,1405.4 1018.9,1408 1020.8,1408.4 1022.8,1402.1 1024.8,1399.5 1026.7,1400 1028.7,1400.5 1030.7,1400.9 1032.6,1404.5 1034.6,1409.4 1036.5,1409.5 1038.5,1408.2 1040.5,1407.1 1042.4,1405.4 1044.4,1406.1 1046.4,1409.8 1048.3,1410.5 1050.3,1405.5 1052.2,1402.1 1054.2,1403.9 1056.2,1408.5 1058.1,1407.7 1060.1,1404.9 1062.1,1410.9 1064,1416.7 1066,1416.5 1068,1412.9 1069.9,1406.8 1071.9,1400.6 1073.8,1399.7 1075.8,1403.6 1077.8,1411.1 1079.7,1410.9 1081.7,1404.9 1083.7,1403 1085.6,1404.9 1087.6,1404.8 1089.5,1402.2 1091.5,1399.8 1093.5,1400.6 1095.4,1409.7 1097.4,1414.6 1099.4,1414.5 1101.3,1413 1103.3,1412.7 1105.3,1413.5 1107.2,1413.6 1109.2,1413.2 1111.1,1410.7 1113.1,1406.5 1115.1,1405.9 1117,1406.2 1119,1404.3 1121,1397.3 1122.9,1393.5 1124.9,1392.9 1126.9,1392.7 1128.8,1393.6 1130.8,1395.8 1132.7,1394.9 1134.7,1397.4 1136.7,1404.8 1138.6,1407 1140.6,1408.2 1142.6,1408.2 1144.5,1405.5 1146.5,1401.4 1148.4,1403.2 1150.4,1403.8 1152.4,1402.4 1154.3,1396.9 1156.3,1389.5 1158.3,1386.2 1160.2,1384.7 1162.2,1382.9 1164.2,1378.8 1166.1,1375.1 1168.1,1374.9 1170,1376.7 1172,1369.4 1174,1357.1 1175.9,1350 1177.9,1346 1179.9,1344.7 1181.8,1343.7 1183.8,1345.1 1185.8,1345.4 1187.7,1343.2 1189.7,1344.3 1191.6,1348.5 1193.6,1352.6 1195.6,1359.2 1197.5,1366 1199.5,1369.8 1201.5,1373.1 1203.4,1380.5 1205.4,1388.6 1207.3,1393.8 1209.3,1397 1211.3,1399.3 1213.2,1401.8 1215.2,1404.2 1217.2,1401.6 1219.1,1394.8 1221.1,1397.8 1223.1,1403.5 1225,1399.4 1227,1396.3 1228.9,1399.9 1230.9,1409.5 1232.9,1411 1234.8,1403.6 1236.8,1400 1238.8,1406 1240.7,1410.7 1242.7,1404.8 1244.7,1396.8 1246.6,1397 1248.6,1400.4 1250.5,1399.6 1252.5,1397.7 1254.5,1400.7 1256.4,1409.6 1258.4,1408.1 1260.4,1405 1262.3,1410.4 1264.3,1415.2 1266.2,1415.6 1268.2,1413.5 1270.2,1413 1272.1,1413.5 1274.1,1410.5 1276.1,1408.6 1278,1405.1 1280,1402.5 1282,1408.2 1283.9,1412.5 1285.9,1408.1 1287.8,1404.6 1289.8,1401.7 1291.8,1400.4 1293.7,1400.9 1295.7,1403.3 1297.7,1408.5 1299.6,1413.7 1301.6,1413.8 1303.5,1413 1305.5,1412.8 1307.5,1409.2 1309.4,1406 1311.4,1407.2 1313.4,1412.5 1315.3,1416.2 1317.3,1412.8 1319.3,1406.1 1321.2,1405 1323.2,1407.3 1325.1,1411.1 1327.1,1411.6 1329.1,1409.6 1331,1412.8 1333,1416.2 1335,1414.6 1336.9,1413.5 1338.9,1412 1340.9,1407.6 1342.8,1404.7 1344.8,1402.1 1346.7,1399.9 1348.7,1403 1350.7,1411.4 1352.6,1413.1 1354.6,1412.5 1356.6,1411.9 1358.5,1412 1360.5,1411.6 1362.4,1413.3 1364.4,1416.6 1366.4,1419 1368.3,1419.3 1370.3,1413.6 1372.3,1413.1 1374.2,1415.4 1376.2,1408.4 1378.2,1405.5 1380.1,1407.6 1382.1,1419.6 1384,1423 1386,1423.5 1388,1423.7 1389.9,1422.9 1391.9,1420.1 1393.9,1415 1395.8,1412.7 1397.8,1417.3 1399.8,1418.5 1401.7,1412.3 1403.7,1410.3 1405.6,1411.6 1407.6,1410.9 1409.6,1411.4 1411.5,1410.4 1413.5,1406.1 1415.5,1406.1 1417.4,1411.9 1419.4,1413.6 1421.3,1411.6 1423.3,1416.3 1425.3,1417.8 1427.2,1411.3 1429.2,1408 1431.2,1411.9 1433.1,1416.3 1435.1,1412.4 1437.1,1408.1 1439,1413.3 1441,1420.4 1442.9,1419.8 1444.9,1414.5 1446.9,1412.9 1448.8,1415.8 1450.8,1416 1452.8,1411.3 1454.7,1408.7 1456.7,1408.8 1458.6,1407.6 1460.6,1408.4 1462.6,1411.2 1464.5,1411.8 1466.5,1410.1 1468.5,1407.2 1470.4,1407.2 1472.4,1412.2 1474.4,1417.1 1476.3,1417.1 1478.3,1409.5 1480.2,1404.1 1482.2,1405.7 1484.2,1416.1 1486.1,1420.7 1488.1,1420.3 1490.1,1415.4 1492,1411 1494,1407.7 1496,1406.6 1497.9,1415.9 1499.9,1420.1 1501.8,1419.3 1503.8,1419 1505.8,1419.9 1507.7,1419.9 1509.7,1418.2 1511.7,1410.2 1513.6,1404.9 1515.6,1412 1517.5,1419.4 1519.5,1419.3 1521.5,1416.5 1523.4,1412.4 1525.4,1411.2 1527.4,1415.7 1529.3,1418.4 1531.3,1417.7 1533.3,1416.7 1535.2,1417.4 1537.2,1417.8 1539.1,1415.6 1541.1,1409.9 1543.1,1411.9 1545,1417.8 1547,1417.1 1549,1412 1550.9,1414.1 1552.9,1417.3 1554.9,1415.2 1556.8,1406.7 1558.8,1402.7 1560.7,1401.4 1562.7,1400.5 1564.7,1402.8 1566.6,1407 1568.6,1412.2 1570.6,1413.4 1572.5,1412.3 1574.5,1409.9 1576.4,1399.6 1578.4,1391.9 1580.4,1389 1582.3,1387.1 1584.3,1385 1586.3,1383.3 1588.2,1382.2 1590.2,1379.3 1592.2,1375.9 1594.1,1374.4 1596.1,1376.5 1598,1384.3 1600,1389.3 1602,1390.7 1603.9,1389.7 1605.9,1386.1 1607.9,1386.3 1609.8,1395.4 1611.8,1400 1613.8,1398.9 1615.7,1390.7 1617.7,1389.8 1619.6,1389.8 1621.6,1391.1 1623.6,1397.5 1625.5,1403.7 1627.5,1403.6 1629.5,1404 1631.4,1403.2 1633.4,1401.6 1635.3,1400.8 1637.3,1400.3 1639.3,1401.3 1641.2,1404.9 1643.2,1409.8 1645.2,1412.4 1647.1,1412.2 1649.1,1409.4 1651.1,1404 1653,1398.8 1655,1396.6 1656.9,1398.6 1658.9,1403.9 1660.9,1403.4 1662.8,1403.2 1664.8,1403.5 1666.8,1402.8 1668.7,1405.3 1670.7,1404.8 1672.6,1400.3 1674.6,1403.6 1676.6,1408.2 1678.5,1403.5 1680.5,1394.3 1682.5,1392.1 1684.4,1391.8 1686.4,1394 1688.4,1396.8 1690.3,1393.3 1692.3,1393.7 1694.2,1401.3 1696.2,1402.4 1698.2,1398.7 1700.1,1401.5 1702.1,1403.9 1704.1,1400 1706,1390.8 1708,1385.1 1710,1382.8 1711.9,1381.4 1713.9,1382.2 1715.8,1384.4 1717.8,1383.9 1719.8,1379.3 1721.7,1370.4 1723.7,1356 1725.7,1346.2 1727.6,1339.5 1729.6,1333.7 1731.5,1328.8 1733.5,1324 1735.5,1318.5 1737.4,1315 1739.4,1315.6 1741.4,1320.3 1743.3,1323.2 1745.3,1327.7 1747.3,1331.7 1749.2,1333.6 1751.2,1343.1 1753.1,1358.4 1755.1,1366 1757.1,1372.3 1759,1380.5 1761,1385.9 1763,1388.7 1764.9,1392.4 1766.9,1395.7 1768.9,1393.4 1770.8,1391.9 1772.8,1396.3 1774.7,1398.8 1776.7,1400.2 1778.7,1402.8 1780.6,1400.3 1782.6,1395.7 1784.6,1399.9 1786.5,1408.2 1788.5,1409.3 1790.4,1406 1792.4,1406.2 1794.4,1411.2 1796.3,1412.5 1798.3,1408.6 1800.3,1403.2 1802.2,1401.4 1804.2,1398.9 1806.2,1399.1 1808.1,1405.2 1810.1,1407.4 1812,1404.2 1814,1408 1816,1413.8 1817.9,1413.8 1819.9,1408.7 1821.9,1405.4 1823.8,1408.2 1825.8,1406.4 1827.8,1402.3 1829.7,1407.6 1831.7,1412.5 1833.6,1404.5 1835.6,1396.3 1837.6,1396 1839.5,1396.1 1841.5,1399 1843.5,1405.3 1845.4,1405.7 1847.4,1402 1849.3,1400.4 1851.3,1399.7 1853.3,1399.2 1855.2,1403.9 1857.2,1412.2 1859.2,1412.9 1861.1,1406.6 1863.1,1396.9 1865.1,1395.6 1867,1394.9 1869,1394.7 1870.9,1396.3 1872.9,1401.9 1874.9,1402.6 1876.8,1396.9 1878.8,1394.1 1880.8,1393.8 1882.7,1395.3 1884.7,1400.8 1886.6,1405.2 1888.6,1405.6 1890.6,1405.9 1892.5,1406.1 1894.5,1399.6 1896.5,1390.1 1898.4,1387.6 1900.4,1390.9 1902.4,1399.3 1904.3,1397.8 1906.3,1393.7 1908.2,1388.4 1910.2,1383.2 1912.2,1382.6 1914.1,1387.8 1916.1,1390.7 1918.1,1387.4 1920,1384.2 1922,1386.1 1924,1386.4 1925.9,1384.5 1927.9,1386.7 1929.8,1386.9 1931.8,1383.6 1933.8,1382 1935.7,1379.1 1937.7,1372.5 1939.7,1361.7 1941.6,1348.5 1943.6,1335.8 1945.5,1326.5 1947.5,1318.9 1949.5,1312 1951.4,1303.7 1953.4,1295.2 1955.4,1286.3 1957.3,1281.9 1959.3,1285.1 1961.3,1291.6 1963.2,1295.7 1965.2,1299.4 1967.1,1302.7 1969.1,1305.7 1971.1,1313.2 1973,1322.6 1975,1328.9 1977,1336.1 1978.9,1346.6 1980.9,1357.6 1982.9,1365.8 1984.8,1368.7 1986.8,1371.9 1988.7,1377.4 1990.7,1379.1 1992.7,1382.3 1994.6,1388.7 1996.6,1386.9 1998.6,1386.5 2000.5,1390 2002.5,1396 2004.4,1399.7 2006.4,1398.8 2008.4,1401.2 2010.3,1408.7 2012.3,1409.8 2014.3,1407.4 2016.2,1402.8 2018.2,1401 2020.2,1401.4 2022.1,1400.2 2024.1,1400.6 2026,1404.3 2028,1403.5 2030,1400.8 2031.9,1401.3 2033.9,1402.4 2035.9,1407 2037.8,1409.9 2039.8,1404.3 2041.7,1401.6 2043.7,1402.4 2045.7,1403.3 2047.6,1404.9 2049.6,1407.8 2051.6,1410.9 2053.5,1412.9 2055.5,1414.2 2057.5,1416 2059.4,1416 2061.4,1412.2 2063.3,1406.4 2065.3,1404.8 2067.3,1409.3 2069.2,1418.5 2071.2,1420.2 2073.2,1419.8 2075.1,1417.8 2077.1,1411.9 2079.1,1409.2 2081,1410.8 2083,1413.6 2084.9,1413.2 2086.9,1406.2 2088.9,1400.2 2090.8,1406.1 2092.8,1409.9 2094.8,1408.9 2096.7,1409.4 2098.7,1409 2100.6,1405 2102.6,1401.4 2104.6,1401 2106.5,1403.3 2108.5,1405.6 2110.5,1404.8 2112.4,1406.2 2114.4,1411.8 2116.4,1415.2 2118.3,1411.6 2120.3,1406.7 2122.2,1405.7 2124.2,1406.2 2126.2,1409.1 2128.1,1414.7 2130.1,1419.2 2132.1,1422.2 2134,1422.7 2136,1421.4 2138,1418.1 2139.9,1416.5 2141.9,1419.5 2143.8,1420.6 2145.8,1416.7 2147.8,1415.8 2149.7,1420.4 2151.7,1421.9 2153.7,1419.6 2155.6,1410.5 2157.6,1407.9 2159.5,1416 2161.5,1419.7 2163.5,1412.6 2165.4,1409.6 2167.4,1409.5 2169.4,1405.9 2171.3,1405.4 2173.3,1405.5 2175.3,1406.9 2177.2,1412.8 2179.2,1414.3 2181.1,1416 2183.1,1415.2 2185.1,1408.6 2187,1406.6 2189,1406.9 2191,1406.9 2192.9,1407.3 2194.9,1409.8 2196.9,1410.2 2198.8,1407.8 2200.8,1409.5 2202.7,1418.3 2204.7,1416.2 2206.7,1407.9 2208.6,1408.8 2210.6,1417.5 2212.6,1418.9 2214.5,1414.9 2216.5,1414.3 2218.4,1412.7" fill="none" stroke="none" marker-start="url(#o)" marker-mid="url(#o)" marker-end="url(#o)"/>
<polyline points="263,1404.5 265,1404.5 266.9,1404.6 268.9,1404.6 270.9,1404.7 272.8,1404.7 274.8,1404.7 276.7,1404.8 278.7,1404.8 280.7,1404.9 282.6,1404.9 284.6,1404.9 286.6,1405 288.5,1405 290.5,1405.1 292.4,1405.1 294.4,1405.1 296.4,1405.2 298.3,1405.2 300.3,1405.3 302.3,1405.3 304.2,1405.3 306.2,1405.4 308.2,1405.4 310.1,1405.4 312.1,1405.5 314,1405.5 316,1405.6 318,1405.6 319.9,1405.6 321.9,1405.7 323.9,1405.7 325.8,1405.8 327.8,1405.8 329.8,1405.8 331.7,1405.9 333.7,1405.9 335.6,1406 337.6,1406 339.6,1406 341.5,1406.1 343.5,1406.1 345.5,1406.2 347.4,1406.2 349.4,1406.2 351.3,1406.3 353.3,1406.3 355.3,1406.4 357.2,1406.4 359.2,1406.4 361.2,1406.5 363.1,1406.5 365.1,1406.6 367.1,1406.6 369,1406.6 371,1406.7 372.9,1406.7 374.9,1406.8 376.9,1406.8 378.8,1406.8 380.8,1406.9 382.8,1406.9 384.7,1407 386.7,1407 388.7,1407 390.6,1406.9 392.6,1406.9 394.5,1406.9 396.5,1406.9 398.5,1406.8 400.4,1406.8 402.4,1406.8 404.4,1406.8 406.3,1406.7 408.3,1406.7 410.2,1406.7 412.2,1406.6 414.2,1406.6 416.1,1406.6 418.1,1406.6 420.1,1406.5 422,1406.5 424,1406.5 426,1406.4 427.9,1406.4 429.9,1406.4 431.8,1406.4 433.8,1406.3 435.8,1406.3 437.7,1406.3 439.7,1406.3 441.7,1406.2 443.6,1406.2 445.6,1406.2 447.6,1406.1 449.5,1406.1 451.5,1406.1 453.4,1406.1 455.4,1406 457.4,1406 459.3,1406 461.3,1405.9 463.3,1405.9 465.2,1405.9 467.2,1405.9 469.1,1405.8 471.1,1405.8 473.1,1405.8 475,1405.8 477,1405.7 479,1405.7 480.9,1405.7 482.9,1405.6 484.9,1405.6 486.8,1405.6 488.8,1405.6 490.7,1405.5 492.7,1405.5 494.7,1405.5 496.6,1405.4 498.6,1405.4 500.6,1405.4 502.5,1405.4 504.5,1405.3 506.4,1405.3 508.4,1405.3 510.4,1405.3 512.3,1405.2 514.3,1405.2 516.3,1405.2 518.2,1405.1 520.2,1405.1 522.2,1405.1 524.1,1405.1 526.1,1405 528,1405 530,1405 532,1404.9 533.9,1404.9 535.9,1404.9 537.9,1404.9 539.8,1404.8 541.8,1404.8 543.8,1404.8 545.7,1404.8 547.7,1404.7 549.6,1404.7 551.6,1404.7 553.6,1404.6 555.5,1404.6 557.5,1404.6 559.5,1404.6 561.4,1404.5 563.4,1404.5 565.3,1404.5 567.3,1404.5 569.3,1404.4 571.2,1404.4 573.2,1404.4 575.2,1404.3 577.1,1404.3 579.1,1404.3 581.1,1404.3 583,1404.2 585,1404.1 586.9,1403.8 588.9,1403.4 590.9,1402.9 592.8,1402.5 594.8,1402.1 596.8,1401.7 598.7,1401.3 600.7,1400.9 602.7,1400.7 604.6,1400.4 606.6,1400.2 608.5,1399.9 610.5,1399.6 612.5,1399.4 614.4,1399.1 616.4,1398.9 618.4,1398.6 620.3,1398.4 622.3,1398.1 624.2,1397.8 626.2,1397.5 628.2,1397.2 630.1,1396.9 632.1,1396.4 634.1,1396 636,1395.4 638,1394.8 640,1393.9 641.9,1392.7 643.9,1391 645.8,1388.8 647.8,1386 649.8,1382.6 651.7,1378.4 653.7,1373.5 655.7,1368.1 657.6,1362.2 659.6,1356.2 661.5,1350.3 663.5,1344.8 665.5,1340 667.4,1336.4 669.4,1334.1 671.4,1333.3 673.3,1334 675.3,1336.3 677.3,1339.9 679.2,1344.6 681.2,1350.1 683.1,1356 685.1,1362.1 687.1,1367.9 689,1373.4 691,1378.3 693,1382.5 694.9,1386 696.9,1388.8 698.9,1391 700.8,1392.7 702.8,1394 704.7,1394.9 706.7,1395.5 708.7,1395.9 710.6,1396.2 712.6,1396.3 714.6,1396.4 716.5,1396.5 718.5,1396.6 720.4,1396.6 722.4,1396.6 724.4,1396.6 726.3,1396.6 728.3,1396.6 730.3,1396.6 732.2,1396.6 734.2,1396.6 736.2,1396.6 738.1,1396.6 740.1,1396.6 742,1396.6 744,1396.6 746,1396.6 747.9,1396.6 749.9,1396.6 751.9,1396.6 753.8,1396.6 755.8,1396.6 757.8,1396.6 759.7,1396.6 761.7,1396.6 763.6,1396.6 765.6,1396.6 767.6,1396.5 769.5,1395.8 771.5,1394.2 773.5,1392.4 775.4,1390.7 777.4,1389.3 779.3,1388.1 781.3,1387 783.3,1385.9 785.2,1384.8 787.2,1383.7 789.2,1382.8 791.1,1382.4 793.1,1382.4 795.1,1382.7 797,1382.9 799,1383.1 800.9,1383.3 802.9,1383.5 804.9,1383.7 806.8,1384 808.8,1384.2 810.8,1384.4 812.7,1384.6 814.7,1384.8 816.7,1385 818.6,1385.2 820.6,1385.5 822.5,1385.7 824.5,1385.9 826.5,1386.1 828.4,1386.3 830.4,1386.5 832.4,1386.7 834.3,1386.8 836.3,1386.9 838.2,1386.8 840.2,1386.7 842.2,1386.3 844.1,1385.5 846.1,1384.2 848.1,1382.3 850,1379.5 852,1375.5 854,1370 855.9,1362.7 857.9,1353.2 859.8,1341.4 861.8,1326.8 863.8,1309.6 865.7,1289.8 867.7,1267.7 869.7,1243.9 871.6,1219.2 873.6,1194.7 875.5,1171.6 877.5,1151 879.5,1134.3 881.4,1122.4 883.4,1116 885.4,1115.7 887.3,1121.5 889.3,1132.9 891.3,1149.2 893.2,1169.5 895.2,1192.5 897.1,1217 899.1,1241.9 901.1,1266 903,1288.4 905,1308.7 907,1326.3 908.9,1341.2 910.9,1353.3 912.9,1363 914.8,1370.4 916.8,1375.9 918.7,1379.7 920.7,1382.2 922.7,1383.7 924.6,1384.2 926.6,1384.1 928.6,1383.6 930.5,1382.8 932.5,1381.7 934.4,1380.3 936.4,1378.8 938.4,1377.2 940.3,1375.7 942.3,1374.4 944.3,1373.5 946.2,1372.9 948.2,1372.9 950.2,1373.3 952.1,1374.2 954.1,1375.7 956,1377.5 958,1379.6 960,1381.9 961.9,1384.4 963.9,1386.8 965.9,1389.1 967.8,1391.2 969.8,1393.2 971.8,1394.9 973.7,1396.4 975.7,1397.8 977.6,1399 979.6,1400.1 981.6,1401.1 983.5,1401.9 985.5,1402.7 987.5,1403.4 989.4,1404.1 991.4,1404.7 993.3,1405.3 995.3,1405.9 997.3,1406.4 999.2,1406.7 1001.2,1406.9 1003.2,1407 1005.1,1407.1 1007.1,1407.2 1009.1,1407.3 1011,1407.4 1013,1407.5 1014.9,1407.7 1016.9,1407.8 1018.9,1407.9 1020.8,1408 1022.8,1408.1 1024.8,1408.2 1026.7,1408.3 1028.7,1408.4 1030.7,1408.5 1032.6,1408.5 1034.6,1408.5 1036.5,1408.5 1038.5,1408.4 1040.5,1408.4 1042.4,1408.4 1044.4,1408.4 1046.4,1408.4 1048.3,1408.4 1050.3,1408.4 1052.2,1408.4 1054.2,1408.4 1056.2,1408.3 1058.1,1408.3 1060.1,1408.3 1062.1,1408.3 1064,1408.3 1066,1408.3 1068,1408.3 1069.9,1408.3 1071.9,1408.2 1073.8,1408.2 1075.8,1408.2 1077.8,1408.2 1079.7,1408.2 1081.7,1408 1083.7,1407.7 1085.6,1407.5 1087.6,1407.2 1089.5,1407 1091.5,1406.8 1093.5,1406.5 1095.4,1406.3 1097.4,1406 1099.4,1405.8 1101.3,1405.5 1103.3,1405.3 1105.3,1405 1107.2,1404.8 1109.2,1404.5 1111.1,1404.3 1113.1,1404 1115.1,1403.8 1117,1403.5 1119,1403.3 1121,1403.1 1122.9,1402.8 1124.9,1402.6 1126.9,1402.3 1128.8,1402.1 1130.8,1401.8 1132.7,1401.6 1134.7,1401.3 1136.7,1401.1 1138.6,1400.8 1140.6,1400.5 1142.6,1400.2 1144.5,1399.9 1146.5,1399.5 1148.4,1399.1 1150.4,1398.7 1152.4,1398.3 1154.3,1397.8 1156.3,1397 1158.3,1396 1160.2,1394.5 1162.2,1392.6 1164.2,1390.1 1166.1,1387.2 1168.1,1383.6 1170,1379.6 1172,1375.2 1174,1370.6 1175.9,1365.9 1177.9,1361.4 1179.9,1357.4 1181.8,1354 1183.8,1351.6 1185.8,1350.3 1187.7,1350.2 1189.7,1351.4 1191.6,1353.6 1193.6,1356.9 1195.6,1361 1197.5,1365.6 1199.5,1370.5 1201.5,1375.5 1203.4,1380.3 1205.4,1384.7 1207.3,1388.7 1209.3,1392.1 1211.3,1395 1213.2,1397.4 1215.2,1399.3 1217.2,1400.8 1219.1,1401.9 1221.1,1402.8 1223.1,1403.4 1225,1403.9 1227,1404.3 1228.9,1404.6 1230.9,1404.8 1232.9,1405 1234.8,1405.2 1236.8,1405.3 1238.8,1405.5 1240.7,1405.6 1242.7,1405.8 1244.7,1405.9 1246.6,1406.1 1248.6,1406.2 1250.5,1406.3 1252.5,1406.5 1254.5,1406.6 1256.4,1406.8 1258.4,1406.9 1260.4,1407 1262.3,1407.2 1264.3,1407.3 1266.2,1407.5 1268.2,1407.6 1270.2,1407.7 1272.1,1407.9 1274.1,1408 1276.1,1408.2 1278,1408.3 1280,1408.4 1282,1408.6 1283.9,1408.7 1285.9,1408.8 1287.8,1409 1289.8,1409.1 1291.8,1409.3 1293.7,1409.4 1295.7,1409.5 1297.7,1409.7 1299.6,1409.8 1301.6,1410 1303.5,1410.1 1305.5,1410.2 1307.5,1410.4 1309.4,1410.5 1311.4,1410.7 1313.4,1410.8 1315.3,1410.9 1317.3,1411.1 1319.3,1411.2 1321.2,1411.3 1323.2,1411.4 1325.1,1411.5 1327.1,1411.5 1329.1,1411.4 1331,1411.3 1333,1411 1335,1410.6 1336.9,1410 1338.9,1409.3 1340.9,1408.4 1342.8,1407.5 1344.8,1406.4 1346.7,1405.5 1348.7,1404.6 1350.7,1404.1 1352.6,1403.8 1354.6,1403.8 1356.6,1404.2 1358.5,1405 1360.5,1406 1362.4,1407.2 1364.4,1408.4 1366.4,1409.7 1368.3,1410.9 1370.3,1411.9 1372.3,1412.8 1374.2,1413.5 1376.2,1414.1 1378.2,1414.5 1380.1,1414.8 1382.1,1414.9 1384,1414.9 1386,1414.9 1388,1414.9 1389.9,1414.8 1391.9,1414.8 1393.9,1414.7 1395.8,1414.6 1397.8,1414.6 1399.8,1414.5 1401.7,1414.4 1403.7,1414.4 1405.6,1414.3 1407.6,1414.3 1409.6,1414.2 1411.5,1414.1 1413.5,1414.1 1415.5,1414 1417.4,1413.9 1419.4,1413.9 1421.3,1413.8 1423.3,1413.7 1425.3,1413.7 1427.2,1413.6 1429.2,1413.6 1431.2,1413.5 1433.1,1413.4 1435.1,1413.4 1437.1,1413.3 1439,1413.3 1441,1413.2 1442.9,1413.2 1444.9,1413.1 1446.9,1413 1448.8,1413 1450.8,1412.9 1452.8,1412.9 1454.7,1412.8 1456.7,1412.8 1458.6,1412.7 1460.6,1412.7 1462.6,1412.6 1464.5,1412.5 1466.5,1412.5 1468.5,1412.4 1470.4,1412.4 1472.4,1412.3 1474.4,1412.3 1476.3,1412.2 1478.3,1412.2 1480.2,1412.1 1482.2,1412 1484.2,1412 1486.1,1411.9 1488.1,1411.9 1490.1,1411.8 1492,1411.8 1494,1411.7 1496,1411.7 1497.9,1411.6 1499.9,1411.5 1501.8,1411.5 1503.8,1411.4 1505.8,1411.4 1507.7,1411.3 1509.7,1411.3 1511.7,1411.2 1513.6,1411.1 1515.6,1411.1 1517.5,1411 1519.5,1411 1521.5,1410.9 1523.4,1410.9 1525.4,1410.8 1527.4,1410.8 1529.3,1410.7 1531.3,1410.6 1533.3,1410.6 1535.2,1410.5 1537.2,1410.5 1539.1,1410.4 1541.1,1410.4 1543.1,1410.3 1545,1410.3 1547,1410.2 1549,1410.1 1550.9,1410.1 1552.9,1410 1554.9,1409.7 1556.8,1409.3 1558.8,1408.8 1560.7,1408.2 1562.7,1407.7 1564.7,1407.1 1566.6,1406.4 1568.6,1405.7 1570.6,1404.9 1572.5,1403.9 1574.5,1403 1576.4,1402 1578.4,1401 1580.4,1400 1582.3,1398.8 1584.3,1397.4 1586.3,1396.1 1588.2,1394.7 1590.2,1393.4 1592.2,1392.2 1594.1,1391.3 1596.1,1390.6 1598,1390.2 1600,1390.2 1602,1390.5 1603.9,1391.1 1605.9,1392 1607.9,1393 1609.8,1394.3 1611.8,1395.5 1613.8,1396.8 1615.7,1398 1617.7,1399.2 1619.6,1400.2 1621.6,1401.2 1623.6,1402.2 1625.5,1403 1627.5,1403.6 1629.5,1404.2 1631.4,1404.7 1633.4,1405.1 1635.3,1405.4 1637.3,1405.7 1639.3,1406 1641.2,1406.2 1643.2,1406.2 1645.2,1406.1 1647.1,1405.9 1649.1,1405.7 1651.1,1405.5 1653,1405.3 1655,1405.1 1656.9,1404.9 1658.9,1404.8 1660.9,1404.6 1662.8,1404.4 1664.8,1404.2 1666.8,1404 1668.7,1403.8 1670.7,1403.6 1672.6,1403.4 1674.6,1403.2 1676.6,1403 1678.5,1402.7 1680.5,1402.4 1682.5,1402.1 1684.4,1401.8 1686.4,1401.5 1688.4,1401.2 1690.3,1400.8 1692.3,1400.5 1694.2,1400.3 1696.2,1400.1 1698.2,1399.9 1700.1,1399.5 1702.1,1399 1704.1,1398.4 1706,1397.4 1708,1396.1 1710,1394.4 1711.9,1392.2 1713.9,1389.4 1715.8,1385.9 1717.8,1381.6 1719.8,1376.6 1721.7,1370.9 1723.7,1364.6 1725.7,1357.9 1727.6,1351 1729.6,1344.2 1731.5,1337.9 1733.5,1332.3 1735.5,1327.9 1737.4,1324.8 1739.4,1323.4 1741.4,1323.6 1743.3,1325.6 1745.3,1329.1 1747.3,1333.9 1749.2,1339.8 1751.2,1346.3 1753.1,1353.2 1755.1,1360.1 1757.1,1366.7 1759,1372.9 1761,1378.4 1763,1383.2 1764.9,1387.3 1766.9,1390.6 1768.9,1393.3 1770.8,1395.4 1772.8,1397 1774.7,1398.4 1776.7,1399.6 1778.7,1400.6 1780.6,1401.4 1782.6,1402.1 1784.6,1402.7 1786.5,1403.2 1788.5,1403.7 1790.4,1404.2 1792.4,1404.7 1794.4,1405.1 1796.3,1405.6 1798.3,1406 1800.3,1406.4 1802.2,1406.9 1804.2,1407.2 1806.2,1407.4 1808.1,1407.3 1810.1,1407.2 1812,1407.1 1814,1407 1816,1406.9 1817.9,1406.7 1819.9,1406.6 1821.9,1406.5 1823.8,1406.4 1825.8,1406.3 1827.8,1406.2 1829.7,1406 1831.7,1405.9 1833.6,1405.8 1835.6,1405.7 1837.6,1405.6 1839.5,1405.5 1841.5,1405.3 1843.5,1405.2 1845.4,1405.1 1847.4,1405 1849.3,1404.9 1851.3,1404.8 1853.3,1404.6 1855.2,1404.5 1857.2,1404.4 1859.2,1404.3 1861.1,1404.2 1863.1,1404.1 1865.1,1404 1867,1403.8 1869,1403.7 1870.9,1403.6 1872.9,1403.5 1874.9,1403.4 1876.8,1403.3 1878.8,1403.1 1880.8,1403 1882.7,1402.9 1884.7,1402.8 1886.6,1402.7 1888.6,1402.6 1890.6,1402.4 1892.5,1402 1894.5,1400.9 1896.5,1399.2 1898.4,1397.4 1900.4,1395.5 1902.4,1393.4 1904.3,1391.2 1906.3,1389.3 1908.2,1388.4 1910.2,1388.2 1912.2,1388.1 1914.1,1388.1 1916.1,1387.9 1918.1,1387.8 1920,1387.5 1922,1387.1 1924,1386.6 1925.9,1385.7 1927.9,1384.5 1929.8,1382.9 1931.8,1380.7 1933.8,1377.8 1935.7,1374.2 1937.7,1369.7 1939.7,1364.3 1941.6,1358 1943.6,1350.8 1945.5,1343 1947.5,1334.8 1949.5,1326.4 1951.4,1318.2 1953.4,1310.7 1955.4,1304.4 1957.3,1299.5 1959.3,1296.3 1961.3,1295.3 1963.2,1296.6 1965.2,1299.9 1967.1,1305 1969.1,1311.7 1971.1,1319.5 1973,1328 1975,1336.9 1977,1345.7 1978.9,1354.1 1980.9,1361.8 1982.9,1368.7 1984.8,1374.8 1986.8,1380.2 1988.7,1384.9 1990.7,1388.9 1992.7,1392.1 1994.6,1394.6 1996.6,1396.4 1998.6,1397.8 2000.5,1398.8 2002.5,1399.7 2004.4,1400.4 2006.4,1401 2008.4,1401.5 2010.3,1402 2012.3,1402.5 2014.3,1402.9 2016.2,1403.3 2018.2,1403.8 2020.2,1404.2 2022.1,1404.6 2024.1,1405.1 2026,1405.5 2028,1405.9 2030,1406.4 2031.9,1406.8 2033.9,1407.2 2035.9,1407.6 2037.8,1408.1 2039.8,1408.5 2041.7,1408.9 2043.7,1409.4 2045.7,1409.8 2047.6,1410.2 2049.6,1410.6 2051.6,1411.1 2053.5,1411.4 2055.5,1411.7 2057.5,1411.8 2059.4,1411.8 2061.4,1411.8 2063.3,1411.8 2065.3,1411.7 2067.3,1411.6 2069.2,1411.3 2071.2,1411 2073.2,1410.4 2075.1,1409.8 2077.1,1409 2079.1,1408.1 2081,1407 2083,1406 2084.9,1405.1 2086.9,1404.3 2088.9,1403.8 2090.8,1403.6 2092.8,1403.8 2094.8,1404.2 2096.7,1405 2098.7,1406 2100.6,1407.1 2102.6,1408.2 2104.6,1409.3 2106.5,1410.3 2108.5,1411.2 2110.5,1411.9 2112.4,1412.5 2114.4,1413 2116.4,1413.3 2118.3,1413.5 2120.3,1413.7 2122.2,1413.8 2124.2,1413.9 2126.2,1413.9 2128.1,1414 2130.1,1414 2132.1,1414 2134,1414.1 2136,1414.1 2138,1414.1 2139.9,1414.2 2141.9,1414.2 2143.8,1414.2 2145.8,1414.3 2147.8,1414.3 2149.7,1414.3 2151.7,1414.4 2153.7,1414.4 2155.6,1414.4 2157.6,1414.5 2159.5,1414.5 2161.5,1414.5 2163.5,1414.6 2165.4,1414.6 2167.4,1414.6 2169.4,1414.7 2171.3,1414.7 2173.3,1414.7 2175.3,1414.8 2177.2,1414.8 2179.2,1414.8 2181.1,1414.9 2183.1,1414.9 2185.1,1414.9 2187,1414.9 2189,1415 2191,1415 2192.9,1415 2194.9,1415.1 2196.9,1415.1 2198.8,1415.1 2200.8,1415.2 2202.7,1415.2 2204.7,1415.2 2206.7,1415.3 2208.6,1415.3 2210.6,1415.3 2212.6,1415.4 2214.5,1415.4 2216.5,1415.4 2218.4,1415.5" fill="none" stroke="#000" stroke-width="11" stroke-linejoin="round" stroke-linecap="square"/>
<polyline points="263,1736.4 265,1737 266.9,1735 268.9,1726.1 270.9,1722.6 272.8,1723.7 274.8,1725.2 276.7,1724.6 278.7,1726 280.7,1726.8 282.6,1728.5 284.6,1730.4 286.6,1726.3 288.5,1729.2 290.5,1739.3 292.4,1739.7 294.4,1736 296.4,1737.1 298.3,1739 300.3,1735.5 302.3,1728.3 304.2,1729.4 306.2,1733.3 308.2,1735.3 310.1,1735.2 312.1,1732.6 314,1729.1 316,1726.2 318,1724.9 319.9,1725.9 321.9,1726.5 323.9,1727 325.8,1732.5 327.8,1733.7 329.8,1728.1 331.7,1728 333.7,1731.2 335.6,1731.7 337.6,1732.6 339.6,1733.4 341.5,1732.1 343.5,1729.5 345.5,1732.2 347.4,1736.1 349.4,1730.1 351.3,1725.1 353.3,1727.7 355.3,1725.9 357.2,1724.4 359.2,1732.5 361.2,1738.8 363.1,1739.7 365.1,1739.6 367.1,1737.6 369,1735.6 371,1737.7 372.9,1739 374.9,1738.5 376.9,1736 378.8,1735.6 380.8,1738.5 382.8,1738.5 384.7,1731.3 386.7,1725.3 388.7,1726.7 390.6,1727.8 392.6,1725.4 394.5,1724.1 396.5,1725.4 398.5,1731.9 400.4,1737 402.4,1738.5 404.4,1739.4 406.3,1740 408.3,1740.3 410.2,1740.3 412.2,1739.5 414.2,1727.8 416.1,1721.9 418.1,1722 420.1,1729.5 422,1737.7 424,1736.8 426,1736.2 427.9,1737.3 429.9,1732.3 431.8,1723.5 433.8,1722.8 435.8,1726.8 437.7,1733.1 439.7,1732.3 441.7,1728.6 443.6,1731.4 445.6,1737.4 447.6,1738.7 449.5,1739.2 451.5,1739.3 453.4,1735.6 455.4,1724.5 457.4,1722.7 459.3,1729.7 461.3,1737.9 463.3,1736.3 465.2,1730.6 467.2,1729.2 469.1,1729.9 471.1,1728.2 473.1,1729.6 475,1737.3 477,1738.6 479,1730.6 480.9,1723.1 482.9,1723.2 484.9,1730 486.8,1736.4 488.8,1735 490.7,1731 492.7,1727.4 494.7,1726.5 496.6,1732.1 498.6,1739.1 500.6,1740 502.5,1738.4 504.5,1732.4 506.4,1733 508.4,1731.5 510.4,1724 512.3,1722.6 514.3,1725.4 516.3,1731.4 518.2,1734.2 520.2,1737.2 522.2,1738.9 524.1,1738 526.1,1734 528,1731.4 530,1734.1 532,1737.2 533.9,1737 535.9,1734.6 537.9,1729.2 539.8,1723.3 541.8,1722.8 543.8,1728.1 545.7,1737.3 547.7,1739.3 549.6,1738.9 551.6,1738.6 553.6,1739.6 555.5,1739.4 557.5,1734.8 559.5,1728.9 561.4,1727.9 563.4,1727.2 565.3,1730.4 567.3,1735.6 569.3,1736.9 571.2,1737.6 573.2,1736.5 575.2,1730.5 577.1,1725.8 579.1,1725.2 581.1,1727.3 583,1732.7 585,1736.5 586.9,1736.9 588.9,1735.1 590.9,1728.1 592.8,1721.1 594.8,1719.8 596.8,1721.9 598.7,1727.1 600.7,1732.1 602.7,1734.4 604.6,1734.7 606.6,1733.8 608.5,1731.5 610.5,1729.6 612.5,1730.4 614.4,1730.6 616.4,1727.1 618.4,1728.5 620.3,1732.2 622.3,1731.6 624.2,1724.3 626.2,1715.7 628.2,1714.4 630.1,1718.9 632.1,1725.1 634.1,1726.8 636,1729.1 638,1728.9 640,1727.7 641.9,1723.9 643.9,1723.4 645.8,1721.9 647.8,1717.9 649.8,1715.1 651.7,1713.7 653.7,1709.7 655.7,1703.4 657.6,1697.3 659.6,1690.7 661.5,1682.4 663.5,1674.5 665.5,1669.1 667.4,1663.1 669.4,1653.2 671.4,1641.3 673.3,1637.7 675.3,1638.9 677.3,1645 679.2,1651.4 681.2,1653.6 683.1,1660.9 685.1,1676.7 687.1,1686.8 689,1690.4 691,1698.1 693,1701.8 694.9,1699.3 696.9,1701.9 698.9,1708.1 700.8,1721.1 702.8,1726.1 704.7,1725 706.7,1715.7 708.7,1712.2 710.6,1712.8 712.6,1713.3 714.6,1713 716.5,1714.9 718.5,1722 720.4,1725.2 722.4,1722.8 724.4,1716.9 726.3,1713.4 728.3,1714.2 730.3,1723.9 732.2,1729.4 734.2,1728.4 736.2,1726.9 738.1,1727.9 740.1,1729.5 742,1729.4 744,1726.4 746,1723.6 747.9,1720 749.9,1714.7 751.9,1713.7 753.8,1715.7 755.8,1720.7 757.8,1721.4 759.7,1722.4 761.7,1726.6 763.6,1725.5 765.6,1721.3 767.6,1726.6 769.5,1731 771.5,1729.2 773.5,1717.1 775.4,1714.5 777.4,1719.2 779.3,1726.2 781.3,1726.6 783.3,1721.9 785.2,1716.8 787.2,1717.9 789.2,1721.1 791.1,1721.9 793.1,1720.2 795.1,1713 797,1704.7 799,1702.7 800.9,1702 802.9,1702.8 804.9,1710.8 806.8,1715.8 808.8,1713.5 810.8,1703.7 812.7,1698.5 814.7,1700 816.7,1706.4 818.6,1708.8 820.6,1706.9 822.5,1698.8 824.5,1692.7 826.5,1692 828.4,1692.4 830.4,1696 832.4,1699.5 834.3,1696.8 836.3,1697 838.2,1702.6 840.2,1700.1 842.2,1692.3 844.1,1690.6 846.1,1690.5 848.1,1690.3 850,1695.7 852,1697.2 854,1687 855.9,1674.8 857.9,1670 859.8,1663.3 861.8,1649.8 863.8,1636 865.7,1622.3 867.7,1601.7 869.7,1575.4 871.6,1551.3 873.6,1528.3 875.5,1506.3 877.5,1488.3 879.5,1471.1 881.4,1455.4 883.4,1443.6 885.4,1427.8 887.3,1440.6 889.3,1453.2 891.3,1473.3 893.2,1495.5 895.2,1518 897.1,1546.1 899.1,1574.5 901.1,1595.5 903,1620.4 905,1643.6 907,1658 908.9,1670.9 910.9,1680.4 912.9,1686.7 914.8,1695.4 916.8,1698.3 918.7,1696.5 920.7,1699.5 922.7,1699.8 924.6,1698.7 926.6,1707.1 928.6,1712.4 930.5,1711.3 932.5,1705.3 934.4,1706.6 936.4,1706.7 938.4,1701.6 940.3,1701.9 942.3,1706.9 944.3,1710.9 946.2,1714 948.2,1716.2 950.2,1717.4 952.1,1715.3 954.1,1710.6 956,1711.2 958,1716 960,1719.4 961.9,1719.9 963.9,1722.7 965.9,1732.2 967.8,1735.3 969.8,1735.1 971.8,1730.3 973.7,1729.7 975.7,1733.6 977.6,1734.9 979.6,1732.5 981.6,1728.8 983.5,1726.8 985.5,1725.7 987.5,1726.9 989.4,1728.8 991.4,1730.7 993.3,1734.4 995.3,1737 997.3,1737.5 999.2,1736.2 1001.2,1732.8 1003.2,1731.1 1005.1,1732 1007.1,1732.5 1009.1,1734.1 1011,1733.4 1013,1727 1014.9,1724.1 1016.9,1725.2 1018.9,1727.5 1020.8,1724.8 1022.8,1722.7 1024.8,1723 1026.7,1727.8 1028.7,1730.9 1030.7,1728.1 1032.6,1725.4 1034.6,1723.6 1036.5,1724.1 1038.5,1730.2 1040.5,1735.6 1042.4,1736.4 1044.4,1734.8 1046.4,1731.4 1048.3,1730.3 1050.3,1735.5 1052.2,1740.5 1054.2,1740.9 1056.2,1737.2 1058.1,1729.6 1060.1,1728.6 1062.1,1733.1 1064,1731.4 1066,1725.9 1068,1725.9 1069.9,1731.8 1071.9,1736 1073.8,1730.5 1075.8,1727.7 1077.8,1732 1079.7,1730.2 1081.7,1726.5 1083.7,1732.2 1085.6,1738.8 1087.6,1733.5 1089.5,1724.9 1091.5,1729.5 1093.5,1738.7 1095.4,1734.8 1097.4,1724.3 1099.4,1726 1101.3,1734.6 1103.3,1736.4 1105.3,1734.2 1107.2,1728.7 1109.2,1727.8 1111.1,1735.4 1113.1,1736.7 1115.1,1726.1 1117,1720.8 1119,1728.1 1121,1731 1122.9,1722.6 1124.9,1720.9 1126.9,1724.2 1128.8,1725.1 1130.8,1723.1 1132.7,1721.7 1134.7,1722.2 1136.7,1723.3 1138.6,1721.9 1140.6,1720.3 1142.6,1723.6 1144.5,1730.1 1146.5,1731 1148.4,1728.1 1150.4,1726.6 1152.4,1728.5 1154.3,1729.4 1156.3,1729.3 1158.3,1728.7 1160.2,1727 1162.2,1722.8 1164.2,1713.9 1166.1,1711.9 1168.1,1710.4 1170,1700.7 1172,1685.6 1174,1678.7 1175.9,1675.1 1177.9,1681.9 1179.9,1679.3 1181.8,1669.6 1183.8,1664.9 1185.8,1665.2 1187.7,1666 1189.7,1667 1191.6,1664.9 1193.6,1662.5 1195.6,1665.7 1197.5,1670.9 1199.5,1676.7 1201.5,1684.8 1203.4,1699 1205.4,1709.2 1207.3,1712.9 1209.3,1712.2 1211.3,1712.9 1213.2,1716.8 1215.2,1721.6 1217.2,1723.1 1219.1,1719.6 1221.1,1718.8 1223.1,1721.8 1225,1724.9 1227,1730.8 1228.9,1734.1 1230.9,1732.7 1232.9,1722 1234.8,1717.9 1236.8,1718.3 1238.8,1719.4 1240.7,1719 1242.7,1720.5 1244.7,1727.5 1246.6,1727.6 1248.6,1723.1 1250.5,1723 1252.5,1725.1 1254.5,1724 1256.4,1725.6 1258.4,1735.4 1260.4,1738.3 1262.3,1736 1264.3,1730.5 1266.2,1725.7 1268.2,1726.2 1270.2,1729.6 1272.1,1729.3 1274.1,1731.6 1276.1,1739.2 1278,1740.2 1280,1730.7 1282,1724.3 1283.9,1724.6 1285.9,1730.3 1287.8,1740 1289.8,1740.3 1291.8,1732.5 1293.7,1727.3 1295.7,1728.7 1297.7,1732.4 1299.6,1731.9 1301.6,1733.3 1303.5,1738.6 1305.5,1738.8 1307.5,1730.2 1309.4,1727.3 1311.4,1727.7 1313.4,1731.9 1315.3,1734.7 1317.3,1732.2 1319.3,1731.8 1321.2,1735.7 1323.2,1738.8 1325.1,1736.2 1327.1,1731 1329.1,1729.4 1331,1730.2 1333,1728.6 1335,1726.3 1336.9,1727.5 1338.9,1736.3 1340.9,1740.7 1342.8,1740.6 1344.8,1738 1346.7,1729.2 1348.7,1723.1 1350.7,1724 1352.6,1733.8 1354.6,1739.3 1356.6,1739.8 1358.5,1739.7 1360.5,1737.8 1362.4,1734.5 1364.4,1735.5 1366.4,1739.7 1368.3,1742 1370.3,1742 1372.3,1739.3 1374.2,1734 1376.2,1730.9 1378.2,1731.7 1380.1,1733.3 1382.1,1730.5 1384,1731.8 1386,1743.1 1388,1743.9 1389.9,1733.8 1391.9,1733 1393.9,1741 1395.8,1743 1397.8,1741.5 1399.8,1739.6 1401.7,1741.9 1403.7,1745.8 1405.6,1745.8 1407.6,1739.2 1409.6,1732.6 1411.5,1736 1413.5,1741.1 1415.5,1742.9 1417.4,1739.6 1419.4,1732.7 1421.3,1732.1 1423.3,1734.8 1425.3,1732.2 1427.2,1728.8 1429.2,1728.2 1431.2,1729.2 1433.1,1730.1 1435.1,1729.4 1437.1,1730.4 1439,1733 1441,1731 1442.9,1728.7 1444.9,1729.8 1446.9,1731.5 1448.8,1728.6 1450.8,1727.4 1452.8,1727.4 1454.7,1728.8 1456.7,1734.4 1458.6,1736.9 1460.6,1733.8 1462.6,1735 1464.5,1742.7 1466.5,1745.2 1468.5,1744.5 1470.4,1734.8 1472.4,1729.2 1474.4,1733.4 1476.3,1738.2 1478.3,1736.3 1480.2,1733.9 1482.2,1732.4 1484.2,1734.2 1486.1,1738.7 1488.1,1738.7 1490.1,1736 1492,1734.8 1494,1735.5 1496,1740 1497.9,1744 1499.9,1744.5 1501.8,1743.7 1503.8,1738.5 1505.8,1729 1507.7,1728.6 1509.7,1734 1511.7,1735.8 1513.6,1731.9 1515.6,1728.3 1517.5,1728.3 1519.5,1736.2 1521.5,1742.4 1523.4,1738.6 1525.4,1732.2 1527.4,1734.7 1529.3,1739.1 1531.3,1741.3 1533.3,1740.5 1535.2,1734.9 1537.2,1736.9 1539.1,1740.7 1541.1,1738.3 1543.1,1735.8 1545,1738.3 1547,1739.1 1549,1734.2 1550.9,1725.9 1552.9,1727.1 1554.9,1738 1556.8,1740.1 1558.8,1739.9 1560.7,1739.3 1562.7,1734.2 1564.7,1726.3 1566.6,1723.4 1568.6,1722 1570.6,1719.5 1572.5,1717.5 1574.5,1717.1 1576.4,1725.5 1578.4,1732.3 1580.4,1730.7 1582.3,1725.6 1584.3,1716.4 1586.3,1709 1588.2,1702.8 1590.2,1700.1 1592.2,1704.4 1594.1,1709.9 1596.1,1703.1 1598,1699.3 1600,1706.7 1602,1711.3 1603.9,1710.3 1605.9,1704.9 1607.9,1703.9 1609.8,1710.2 1611.8,1718.6 1613.8,1717.3 1615.7,1715.4 1617.7,1720.6 1619.6,1726.8 1621.6,1730.8 1623.6,1735 1625.5,1738.2 1627.5,1739.9 1629.5,1740.5 1631.4,1738.9 1633.4,1731 1635.3,1726.5 1637.3,1732.6 1639.3,1740.2 1641.2,1740.9 1643.2,1740.8 1645.2,1740.4 1647.1,1738.3 1649.1,1737.1 1651.1,1736 1653,1730.5 1655,1726.9 1656.9,1728.2 1658.9,1729 1660.9,1726.7 1662.8,1725.7 1664.8,1727.3 1666.8,1729 1668.7,1727.7 1670.7,1723.6 1672.6,1723.2 1674.6,1728.5 1676.6,1730 1678.5,1725.8 1680.5,1721.2 1682.5,1718.4 1684.4,1718.6 1686.4,1723.5 1688.4,1723.3 1690.3,1721.2 1692.3,1719.2 1694.2,1716.6 1696.2,1716.6 1698.2,1721.8 1700.1,1727.7 1702.1,1725.9 1704.1,1723.2 1706,1723.1 1708,1713.1 1710,1708.4 1711.9,1707.6 1713.9,1711.2 1715.8,1712.7 1717.8,1712.2 1719.8,1704.4 1721.7,1687.8 1723.7,1680.2 1725.7,1673.9 1727.6,1669.8 1729.6,1668.2 1731.5,1663.1 1733.5,1656.7 1735.5,1659.3 1737.4,1661.7 1739.4,1659.5 1741.4,1650.1 1743.3,1645.3 1745.3,1648.8 1747.3,1653.7 1749.2,1659.3 1751.2,1669.2 1753.1,1682.4 1755.1,1690 1757.1,1695.4 1759,1704.2 1761,1706.2 1763,1700 1764.9,1703 1766.9,1709.6 1768.9,1721.4 1770.8,1723.3 1772.8,1719.6 1774.7,1719.2 1776.7,1723 1778.7,1723.9 1780.6,1720.6 1782.6,1720.3 1784.6,1723.9 1786.5,1723.2 1788.5,1720.3 1790.4,1721.6 1792.4,1725.7 1794.4,1728.8 1796.3,1733.6 1798.3,1737.4 1800.3,1738 1802.2,1734.3 1804.2,1726.5 1806.2,1725.8 1808.1,1733.7 1810.1,1739.6 1812,1740.2 1814,1734.8 1816,1726.3 1817.9,1729.4 1819.9,1737 1821.9,1736.3 1823.8,1734.7 1825.8,1736.9 1827.8,1735.6 1829.7,1730.1 1831.7,1729.8 1833.6,1731.5 1835.6,1732.2 1837.6,1738.5 1839.5,1740.6 1841.5,1734.9 1843.5,1724.8 1845.4,1725.2 1847.4,1732.2 1849.3,1732.5 1851.3,1725.8 1853.3,1723.5 1855.2,1723.6 1857.2,1727 1859.2,1736.5 1861.1,1738.9 1863.1,1735.1 1865.1,1732.1 1867,1733.5 1869,1731.7 1870.9,1732.1 1872.9,1737.5 1874.9,1738 1876.8,1735.7 1878.8,1730.7 1880.8,1723.9 1882.7,1719.2 1884.7,1720 1886.6,1731.1 1888.6,1733.7 1890.6,1733 1892.5,1731.8 1894.5,1726.9 1896.5,1719.8 1898.4,1718.3 1900.4,1720 1902.4,1720 1904.3,1718.8 1906.3,1713.4 1908.2,1708.4 1910.2,1707.3 1912.2,1706.8 1914.1,1706.7 1916.1,1711 1918.1,1717.6 1920,1718.5 1922,1721.1 1924,1721.4 1925.9,1718.9 1927.9,1716.9 1929.8,1715.5 1931.8,1711.3 1933.8,1703.9 1935.7,1693.7 1937.7,1686.8 1939.7,1684.2 1941.6,1684.5 1943.6,1677.8 1945.5,1669.5 1947.5,1667.4 1949.5,1662.7 1951.4,1655 1953.4,1647.1 1955.4,1636.6 1957.3,1625 1959.3,1621.4 1961.3,1620.2 1963.2,1622.2 1965.2,1631.6 1967.1,1636.4 1969.1,1635 1971.1,1645.7 1973,1662.5 1975,1671.9 1977,1678.9 1978.9,1682.4 1980.9,1682.1 1982.9,1686.1 1984.8,1696.7 1986.8,1709.4 1988.7,1714.6 1990.7,1716.6 1992.7,1716.6 1994.6,1716.4 1996.6,1722.7 1998.6,1728.2 2000.5,1725.8 2002.5,1718.5 2004.4,1717.4 2006.4,1723.1 2008.4,1732.2 2010.3,1733.8 2012.3,1728.8 2014.3,1721.3 2016.2,1719.4 2018.2,1720.3 2020.2,1725.3 2022.1,1730.9 2024.1,1731 2026,1727.4 2028,1727 2030,1731.2 2031.9,1728.1 2033.9,1722.8 2035.9,1723.3 2037.8,1725.1 2039.8,1726.8 2041.7,1731.3 2043.7,1734.1 2045.7,1733.9 2047.6,1735.8 2049.6,1740.7 2051.6,1742.7 2053.5,1740.6 2055.5,1732.4 2057.5,1730 2059.4,1734.1 2061.4,1738.8 2063.3,1736.6 2065.3,1733.1 2067.3,1730.4 2069.2,1727.4 2071.2,1727.4 2073.2,1735.9 2075.1,1742.5 2077.1,1739.1 2079.1,1734.4 2081,1732.8 2083,1727.7 2084.9,1728.6 2086.9,1739.3 2088.9,1740.5 2090.8,1736 2092.8,1734.2 2094.8,1732.4 2096.7,1732.4 2098.7,1738 2100.6,1740.8 2102.6,1739.3 2104.6,1737 2106.5,1737.1 2108.5,1740.9 2110.5,1745.1 2112.4,1745.9 2114.4,1738.8 2116.4,1730.1 2118.3,1731.7 2120.3,1740.1 2122.2,1735.6 2124.2,1729.7 2126.2,1729.7 2128.1,1733 2130.1,1735.4 2132.1,1733.6 2134,1738 2136,1744.8 2138,1744.7 2139.9,1739.6 2141.9,1738.6 2143.8,1745.4 2145.8,1747.6 2147.8,1744.2 2149.7,1733 2151.7,1731.4 2153.7,1734.7 2155.6,1738.8 2157.6,1741.9 2159.5,1744.6 2161.5,1744.9 2163.5,1745.2 2165.4,1744.1 2167.4,1738.3 2169.4,1738.6 2171.3,1745.4 2173.3,1743.8 2175.3,1737.1 2177.2,1740.2 2179.2,1742 2181.1,1734.7 2183.1,1732 2185.1,1736.3 2187,1746.6 2189,1748.5 2191,1748 2192.9,1745.6 2194.9,1740.4 2196.9,1736.4 2198.8,1736.1 2200.8,1739.1 2202.7,1745.1 2204.7,1746.8 2206.7,1744 2208.6,1742.7 2210.6,1740.7 2212.6,1735 2214.5,1732.8 2216.5,1732.6 2218.4,1734.1" fill="none" stroke="none" marker-start="url(#o)" marker-mid="url(#o)" marker-end="url(#o)"/>
<polyline points="263,1731 265,1731 266.9,1731 268.9,1731 270.9,1731 272.8,1731 274.8,1731 276.7,1731 278.7,1731 280.7,1731 282.6,1731 284.6,1731 286.6,1731 288.5,1731 290.5,1731 292.4,1731 294.4,1731 296.4,1731 298.3,1731 300.3,1731 302.3,1731 304.2,1731 306.2,1731 308.2,1731 310.1,1731 312.1,1731 314,1731 316,1731 318,1731 319.9,1731 321.9,1731 323.9,1731 325.8,1731 327.8,1731 329.8,1731 331.7,1731 333.7,1731 335.6,1731 337.6,1731 339.6,1731 341.5,1731 343.5,1731 345.5,1731 347.4,1731 349.4,1731 351.3,1731 353.3,1731 355.3,1731 357.2,1731 359.2,1731 361.2,1731 363.1,1731 365.1,1731 367.1,1731 369,1731 371,1731 372.9,1731 374.9,1731 376.9,1731 378.8,1731 380.8,1731 382.8,1731 384.7,1731 386.7,1731 388.7,1731 390.6,1731 392.6,1731 394.5,1731 396.5,1731 398.5,1731 400.4,1731 402.4,1731 404.4,1731 406.3,1731 408.3,1731 410.2,1731 412.2,1731 414.2,1731 416.1,1731 418.1,1731 420.1,1731 422,1731 424,1731 426,1731 427.9,1731 429.9,1731 431.8,1731 433.8,1731 435.8,1731 437.7,1731 439.7,1731 441.7,1731 443.6,1731 445.6,1731 447.6,1731 449.5,1731 451.5,1731 453.4,1731 455.4,1731 457.4,1731 459.3,1731 461.3,1731 463.3,1731 465.2,1731 467.2,1731 469.1,1731 471.1,1731 473.1,1731 475,1731 477,1731 479,1731 480.9,1731 482.9,1731 484.9,1731 486.8,1731 488.8,1731 490.7,1731 492.7,1731 494.7,1731 496.6,1731 498.6,1731 500.6,1731 502.5,1731 504.5,1731 506.4,1731 508.4,1731 510.4,1731 512.3,1731 514.3,1731 516.3,1731 518.2,1731 520.2,1731 522.2,1731 524.1,1731 526.1,1731 528,1731 530,1731 532,1731 533.9,1731 535.9,1731 537.9,1731 539.8,1731 541.8,1731 543.8,1731 545.7,1731 547.7,1731 549.6,1731 551.6,1731 553.6,1731 555.5,1731 557.5,1731 559.5,1731 561.4,1731 563.4,1731 565.3,1731 567.3,1730.9 569.3,1730.7 571.2,1730.5 573.2,1730.2 575.2,1730 577.1,1729.8 579.1,1729.5 581.1,1729.3 583,1729.1 585,1728.8 586.9,1728.6 588.9,1728.3 590.9,1728.1 592.8,1727.9 594.8,1727.6 596.8,1727.4 598.7,1727.2 600.7,1726.9 602.7,1726.6 604.6,1726.3 606.6,1726.1 608.5,1725.8 610.5,1725.5 612.5,1725.2 614.4,1724.9 616.4,1724.7 618.4,1724.4 620.3,1724.1 622.3,1723.8 624.2,1723.5 626.2,1723.2 628.2,1722.9 630.1,1722.6 632.1,1722.2 634.1,1721.9 636,1721.5 638,1721.2 640,1720.6 641.9,1719.9 643.9,1718.8 645.8,1717.2 647.8,1715 649.8,1712.2 651.7,1708.7 653.7,1704.3 655.7,1699.1 657.6,1693.3 659.6,1686.9 661.5,1680.2 663.5,1673.7 665.5,1667.6 667.4,1662.4 669.4,1658.5 671.4,1656.2 673.3,1655.6 675.3,1656.8 677.3,1659.8 679.2,1664.2 681.2,1669.7 683.1,1676.1 685.1,1682.7 687.1,1689.4 689,1695.6 691,1701.3 693,1706.3 694.9,1710.4 696.9,1713.7 698.9,1716.4 700.8,1718.3 702.8,1719.8 704.7,1720.8 706.7,1721.5 708.7,1722 710.6,1722.3 712.6,1722.4 714.6,1722.6 716.5,1722.6 718.5,1722.7 720.4,1722.7 722.4,1722.7 724.4,1722.7 726.3,1722.7 728.3,1722.7 730.3,1722.7 732.2,1722.7 734.2,1722.7 736.2,1722.7 738.1,1722.7 740.1,1722.7 742,1722.7 744,1722.7 746,1722.7 747.9,1722.7 749.9,1722.7 751.9,1722.7 753.8,1722.7 755.8,1722.7 757.8,1722.7 759.7,1722.7 761.7,1722.7 763.6,1722.7 765.6,1722.7 767.6,1722.7 769.5,1722.7 771.5,1722.7 773.5,1722.7 775.4,1722.7 777.4,1722.5 779.3,1722 781.3,1721.1 783.3,1720.1 785.2,1719.2 787.2,1718.2 789.2,1717.3 791.1,1716.3 793.1,1715.3 795.1,1714.4 797,1713.4 799,1712.5 800.9,1711.5 802.9,1710.6 804.9,1709.6 806.8,1708.6 808.8,1707.7 810.8,1706.7 812.7,1705.8 814.7,1704.8 816.7,1704 818.6,1703.5 820.6,1703.4 822.5,1703.5 824.5,1703.5 826.5,1703.6 828.4,1703.7 830.4,1703.7 832.4,1703.8 834.3,1703.8 836.3,1703.9 838.2,1703.8 840.2,1703.7 842.2,1703.5 844.1,1703.1 846.1,1702.5 848.1,1701.4 850,1699.7 852,1697.1 854,1693.5 855.9,1688.3 857.9,1681.3 859.8,1672.2 861.8,1660.5 863.8,1646.2 865.7,1629.1 867.7,1609.5 869.7,1587.9 871.6,1564.9 873.6,1541.6 875.5,1519.1 877.5,1499 879.5,1482.3 881.4,1470.4 883.4,1464.1 885.4,1463.8 887.3,1469.7 889.3,1481.2 891.3,1497.6 893.2,1517.7 895.2,1540.1 897.1,1563.6 899.1,1587 901.1,1609.1 903,1629.2 905,1646.8 907,1661.7 908.9,1673.9 910.9,1683.6 912.9,1691 914.8,1696.6 916.8,1700.7 918.7,1703.6 920.7,1705.6 922.7,1706.9 924.6,1707.7 926.6,1708.1 928.6,1708.4 930.5,1708.5 932.5,1708.5 934.4,1708.4 936.4,1708.4 938.4,1708.3 940.3,1708.3 942.3,1708.2 944.3,1708.1 946.2,1708.4 948.2,1709.7 950.2,1711.6 952.1,1713.6 954.1,1715.6 956,1717.6 958,1719.6 960,1721.6 961.9,1723.6 963.9,1725.4 965.9,1726.6 967.8,1727.1 969.8,1727.4 971.8,1727.7 973.7,1727.9 975.7,1728.2 977.6,1728.5 979.6,1728.8 981.6,1729.1 983.5,1729.3 985.5,1729.6 987.5,1729.9 989.4,1730.2 991.4,1730.5 993.3,1730.7 995.3,1731 997.3,1731.3 999.2,1731.4 1001.2,1731.5 1003.2,1731.5 1005.1,1731.5 1007.1,1731.6 1009.1,1731.6 1011,1731.6 1013,1731.7 1014.9,1731.7 1016.9,1731.7 1018.9,1731.8 1020.8,1731.8 1022.8,1731.9 1024.8,1731.9 1026.7,1731.9 1028.7,1732 1030.7,1732 1032.6,1732 1034.6,1732.1 1036.5,1732.1 1038.5,1732.1 1040.5,1732.2 1042.4,1732.2 1044.4,1732.2 1046.4,1732.3 1048.3,1732.3 1050.3,1732.4 1052.2,1732.4 1054.2,1732.4 1056.2,1732.5 1058.1,1732.5 1060.1,1732.5 1062.1,1732.6 1064,1732.6 1066,1732.6 1068,1732.7 1069.9,1732.7 1071.9,1732.8 1073.8,1732.8 1075.8,1732.8 1077.8,1732.9 1079.7,1732.8 1081.7,1732.7 1083.7,1732.5 1085.6,1732.3 1087.6,1732.1 1089.5,1731.8 1091.5,1731.6 1093.5,1731.4 1095.4,1731.2 1097.4,1731 1099.4,1730.8 1101.3,1730.6 1103.3,1730.3 1105.3,1730.1 1107.2,1729.9 1109.2,1729.7 1111.1,1729.5 1113.1,1729.3 1115.1,1729 1117,1728.8 1119,1728.6 1121,1728.4 1122.9,1728.2 1124.9,1728 1126.9,1727.7 1128.8,1727.5 1130.8,1727.3 1132.7,1727.1 1134.7,1726.9 1136.7,1726.6 1138.6,1726.4 1140.6,1726.2 1142.6,1725.9 1144.5,1725.6 1146.5,1725.3 1148.4,1724.9 1150.4,1724.5 1152.4,1724 1154.3,1723.4 1156.3,1722.6 1158.3,1721.4 1160.2,1719.9 1162.2,1718 1164.2,1715.5 1166.1,1712.5 1168.1,1709 1170,1705.1 1172,1700.7 1174,1696.2 1175.9,1691.5 1177.9,1687.1 1179.9,1683.1 1181.8,1679.8 1183.8,1677.4 1185.8,1676 1187.7,1675.8 1189.7,1676.8 1191.6,1678.9 1193.6,1681.9 1195.6,1685.7 1197.5,1690.1 1199.5,1694.7 1201.5,1699.3 1203.4,1703.8 1205.4,1708 1207.3,1711.7 1209.3,1714.9 1211.3,1717.6 1213.2,1719.8 1215.2,1721.5 1217.2,1722.8 1219.1,1723.8 1221.1,1724.6 1223.1,1725.3 1225,1725.8 1227,1726.3 1228.9,1726.7 1230.9,1727 1232.9,1727.3 1234.8,1727.6 1236.8,1727.8 1238.8,1728.1 1240.7,1728.3 1242.7,1728.5 1244.7,1728.8 1246.6,1729 1248.6,1729.3 1250.5,1729.5 1252.5,1729.7 1254.5,1730 1256.4,1730.2 1258.4,1730.4 1260.4,1730.7 1262.3,1730.9 1264.3,1731.1 1266.2,1731.4 1268.2,1731.6 1270.2,1731.8 1272.1,1732.1 1274.1,1732.3 1276.1,1732.5 1278,1732.8 1280,1733 1282,1733.2 1283.9,1733.5 1285.9,1733.7 1287.8,1734 1289.8,1734.2 1291.8,1734.4 1293.7,1734.7 1295.7,1734.9 1297.7,1735.1 1299.6,1735.4 1301.6,1735.6 1303.5,1735.8 1305.5,1736.1 1307.5,1736.3 1309.4,1736.4 1311.4,1736.4 1313.4,1736.5 1315.3,1736.5 1317.3,1736.5 1319.3,1736.5 1321.2,1736.5 1323.2,1736.4 1325.1,1736.3 1327.1,1736.2 1329.1,1736 1331,1735.7 1333,1735.4 1335,1734.9 1336.9,1734.3 1338.9,1733.7 1340.9,1733.1 1342.8,1732.4 1344.8,1731.9 1346.7,1731.4 1348.7,1731.2 1350.7,1731.1 1352.6,1731.2 1354.6,1731.6 1356.6,1732.1 1358.5,1732.7 1360.5,1733.4 1362.4,1734.1 1364.4,1734.8 1366.4,1735.3 1368.3,1735.8 1370.3,1736.2 1372.3,1736.5 1374.2,1736.8 1376.2,1736.9 1378.2,1737 1380.1,1737.1 1382.1,1737.1 1384,1737.1 1386,1737.1 1388,1737.1 1389.9,1737.1 1391.9,1737.1 1393.9,1737 1395.8,1737 1397.8,1737 1399.8,1737 1401.7,1736.9 1403.7,1736.9 1405.6,1736.9 1407.6,1736.9 1409.6,1736.9 1411.5,1736.8 1413.5,1736.8 1415.5,1736.8 1417.4,1736.8 1419.4,1736.8 1421.3,1736.7 1423.3,1736.7 1425.3,1736.7 1427.2,1736.7 1429.2,1736.7 1431.2,1736.6 1433.1,1736.6 1435.1,1736.6 1437.1,1736.6 1439,1736.6 1441,1736.5 1442.9,1736.5 1444.9,1736.5 1446.9,1736.5 1448.8,1736.4 1450.8,1736.4 1452.8,1736.4 1454.7,1736.4 1456.7,1736.4 1458.6,1736.3 1460.6,1736.3 1462.6,1736.3 1464.5,1736.3 1466.5,1736.3 1468.5,1736.2 1470.4,1736.2 1472.4,1736.2 1474.4,1736.2 1476.3,1736.2 1478.3,1736.1 1480.2,1736.1 1482.2,1736.1 1484.2,1736.1 1486.1,1736 1488.1,1736 1490.1,1736 1492,1736 1494,1736 1496,1735.9 1497.9,1735.9 1499.9,1735.9 1501.8,1735.9 1503.8,1735.9 1505.8,1735.8 1507.7,1735.8 1509.7,1735.8 1511.7,1735.8 1513.6,1735.8 1515.6,1735.7 1517.5,1735.7 1519.5,1735.6 1521.5,1735.4 1523.4,1735.2 1525.4,1734.9 1527.4,1734.7 1529.3,1734.5 1531.3,1734.2 1533.3,1734 1535.2,1733.8 1537.2,1733.5 1539.1,1733.3 1541.1,1733.1 1543.1,1732.8 1545,1732.6 1547,1732.4 1549,1732.1 1550.9,1731.9 1552.9,1731.6 1554.9,1731.4 1556.8,1731.2 1558.8,1730.9 1560.7,1730.6 1562.7,1730.3 1564.7,1730 1566.6,1729.7 1568.6,1729.2 1570.6,1728.8 1572.5,1728.3 1574.5,1727.9 1576.4,1727.4 1578.4,1726.7 1580.4,1725.8 1582.3,1724.8 1584.3,1723.6 1586.3,1722.4 1588.2,1721.1 1590.2,1719.9 1592.2,1718.8 1594.1,1717.9 1596.1,1717.3 1598,1717 1600,1717.2 1602,1717.7 1603.9,1718.5 1605.9,1719.7 1607.9,1721 1609.8,1722.5 1611.8,1724.1 1613.8,1725.6 1615.7,1727 1617.7,1728.2 1619.6,1729.3 1621.6,1730.3 1623.6,1731 1625.5,1731.7 1627.5,1732.1 1629.5,1732.3 1631.4,1732.4 1633.4,1732.4 1635.3,1732.3 1637.3,1732.2 1639.3,1732.1 1641.2,1732 1643.2,1731.9 1645.2,1731.7 1647.1,1731.6 1649.1,1731.4 1651.1,1731.3 1653,1731.2 1655,1731 1656.9,1730.9 1658.9,1730.7 1660.9,1730.6 1662.8,1730.4 1664.8,1730.3 1666.8,1730.2 1668.7,1730 1670.7,1729.9 1672.6,1729.7 1674.6,1729.6 1676.6,1729.3 1678.5,1728.9 1680.5,1728.3 1682.5,1727.8 1684.4,1727.2 1686.4,1726.6 1688.4,1726 1690.3,1725.4 1692.3,1724.9 1694.2,1724.5 1696.2,1724.4 1698.2,1724.2 1700.1,1723.9 1702.1,1723.5 1704.1,1723 1706,1722.4 1708,1721.5 1710,1720.2 1711.9,1718.7 1713.9,1716.7 1715.8,1714.2 1717.8,1711.2 1719.8,1707.7 1721.7,1703.7 1723.7,1699.3 1725.7,1694.6 1727.6,1689.8 1729.6,1685 1731.5,1680.5 1733.5,1676.6 1735.5,1673.5 1737.4,1671.4 1739.4,1670.3 1741.4,1670.6 1743.3,1672.1 1745.3,1674.7 1747.3,1678.2 1749.2,1682.4 1751.2,1687.1 1753.1,1692 1755.1,1697 1757.1,1701.7 1759,1706.2 1761,1710.2 1763,1713.6 1764.9,1716.6 1766.9,1719.1 1768.9,1721.1 1770.8,1722.7 1772.8,1723.9 1774.7,1724.9 1776.7,1725.8 1778.7,1726.5 1780.6,1727 1782.6,1727.5 1784.6,1727.9 1786.5,1728.3 1788.5,1728.6 1790.4,1728.9 1792.4,1729.3 1794.4,1729.6 1796.3,1729.9 1798.3,1730.2 1800.3,1730.5 1802.2,1730.8 1804.2,1731.1 1806.2,1731.4 1808.1,1731.7 1810.1,1732 1812,1732.3 1814,1732.5 1816,1732.7 1817.9,1732.8 1819.9,1732.7 1821.9,1732.7 1823.8,1732.7 1825.8,1732.6 1827.8,1732.6 1829.7,1732.6 1831.7,1732.6 1833.6,1732.5 1835.6,1732.5 1837.6,1732.5 1839.5,1732.4 1841.5,1732.4 1843.5,1732.4 1845.4,1732.3 1847.4,1732.3 1849.3,1732.3 1851.3,1732.3 1853.3,1732.2 1855.2,1732.2 1857.2,1732.2 1859.2,1732.1 1861.1,1732.1 1863.1,1732.1 1865.1,1732 1867,1731.9 1869,1731.6 1870.9,1731 1872.9,1730.3 1874.9,1729.7 1876.8,1729 1878.8,1728.4 1880.8,1727.7 1882.7,1727 1884.7,1726.4 1886.6,1725.7 1888.6,1725.1 1890.6,1724.4 1892.5,1723.7 1894.5,1723.1 1896.5,1722.4 1898.4,1721.8 1900.4,1721.1 1902.4,1720.4 1904.3,1719.8 1906.3,1719.1 1908.2,1718.4 1910.2,1717.9 1912.2,1717.5 1914.1,1717.3 1916.1,1717 1918.1,1716.7 1920,1716.3 1922,1715.8 1924,1715.1 1925.9,1714.2 1927.9,1713 1929.8,1711.4 1931.8,1709.4 1933.8,1706.8 1935.7,1703.5 1937.7,1699.5 1939.7,1694.7 1941.6,1689.1 1943.6,1682.7 1945.5,1675.7 1947.5,1668.2 1949.5,1660.7 1951.4,1653.4 1953.4,1646.7 1955.4,1641 1957.3,1636.6 1959.3,1633.7 1961.3,1632.8 1963.2,1633.8 1965.2,1636.7 1967.1,1641.2 1969.1,1647.1 1971.1,1654 1973,1661.5 1975,1669.4 1977,1677.2 1978.9,1684.6 1980.9,1691.4 1982.9,1697.5 1984.8,1702.9 1986.8,1707.8 1988.7,1712.1 1990.7,1715.7 1992.7,1718.7 1994.6,1721 1996.6,1722.6 1998.6,1723.8 2000.5,1724.7 2002.5,1725.4 2004.4,1726 2006.4,1726.5 2008.4,1726.9 2010.3,1727.3 2012.3,1727.7 2014.3,1728.1 2016.2,1728.4 2018.2,1728.8 2020.2,1729.1 2022.1,1729.4 2024.1,1729.8 2026,1730.1 2028,1730.5 2030,1730.8 2031.9,1731.2 2033.9,1731.5 2035.9,1731.8 2037.8,1732.2 2039.8,1732.5 2041.7,1732.9 2043.7,1733.2 2045.7,1733.5 2047.6,1733.9 2049.6,1734.2 2051.6,1734.6 2053.5,1734.9 2055.5,1735.2 2057.5,1735.6 2059.4,1735.9 2061.4,1736.2 2063.3,1736.3 2065.3,1736.3 2067.3,1736.2 2069.2,1736.2 2071.2,1736 2073.2,1735.8 2075.1,1735.5 2077.1,1735.1 2079.1,1734.7 2081,1734.2 2083,1733.8 2084.9,1733.3 2086.9,1733 2088.9,1732.8 2090.8,1732.7 2092.8,1732.8 2094.8,1733.1 2096.7,1733.6 2098.7,1734.1 2100.6,1734.7 2102.6,1735.4 2104.6,1736 2106.5,1736.6 2108.5,1737.1 2110.5,1737.5 2112.4,1737.8 2114.4,1738.1 2116.4,1738.3 2118.3,1738.5 2120.3,1738.6 2122.2,1738.7 2124.2,1738.7 2126.2,1738.8 2128.1,1738.8 2130.1,1738.9 2132.1,1738.9 2134,1738.9 2136,1739 2138,1739 2139.9,1739 2141.9,1739.1 2143.8,1739.1 2145.8,1739.1 2147.8,1739.2 2149.7,1739.2 2151.7,1739.2 2153.7,1739.3 2155.6,1739.3 2157.6,1739.3 2159.5,1739.4 2161.5,1739.4 2163.5,1739.4 2165.4,1739.5 2167.4,1739.5 2169.4,1739.5 2171.3,1739.6 2173.3,1739.6 2175.3,1739.6 2177.2,1739.7 2179.2,1739.7 2181.1,1739.7 2183.1,1739.8 2185.1,1739.8 2187,1739.8 2189,1739.9 2191,1739.9 2192.9,1739.9 2194.9,1740 2196.9,1740 2198.8,1740 2200.8,1740.1 2202.7,1740.1 2204.7,1740.1 2206.7,1740.2 2208.6,1740.2 2210.6,1740.2 2212.6,1740.3 2214.5,1740.3 2216.5,1740.3 2218.4,1740.4" fill="none" stroke="#000" stroke-width="11" stroke-linejoin="round" stroke-linecap="square"/>
<polyline points="263,2114.2 265,2114.8 266.9,2115.3 268.9,2117.3 270.9,2117.9 272.8,2113.3 274.8,2111.9 276.7,2112.8 278.7,2119.6 280.7,2125.5 282.6,2128 284.6,2129.1 286.6,2128.5 288.5,2123.4 290.5,2115.4 292.4,2112.9 294.4,2113.9 296.4,2118.5 298.3,2122.2 300.3,2121.9 302.3,2121.3 304.2,2123.2 306.2,2124.6 308.2,2124.4 310.1,2122.8 312.1,2118.1 314,2114.9 316,2117.7 318,2122.7 319.9,2121.5 321.9,2121.9 323.9,2126.7 325.8,2126 327.8,2119.9 329.8,2117.4 331.7,2116.1 333.7,2118.8 335.6,2127.4 337.6,2129.1 339.6,2128.4 341.5,2126.7 343.5,2125.7 345.5,2125.5 347.4,2123.4 349.4,2119.1 351.3,2119.8 353.3,2124.5 355.3,2126.3 357.2,2122.9 359.2,2116.2 361.2,2121.1 363.1,2129 365.1,2129.2 367.1,2126.3 369,2117.1 371,2115.3 372.9,2116.4 374.9,2118.2 376.9,2120.8 378.8,2125 380.8,2125.8 382.8,2118.7 384.7,2113.5 386.7,2113.2 388.7,2111.8 390.6,2111.6 392.6,2115.3 394.5,2120 396.5,2118.7 398.5,2122.4 400.4,2128.2 402.4,2128.5 404.4,2126.7 406.3,2121.1 408.3,2115.8 410.2,2117.1 412.2,2123 414.2,2127.4 416.1,2128.6 418.1,2128.6 420.1,2127.9 422,2126.4 424,2119.2 426,2111.7 427.9,2111.4 429.9,2114.1 431.8,2118.3 433.8,2122.8 435.8,2127.1 437.7,2128.3 439.7,2127.8 441.7,2124.2 443.6,2122.8 445.6,2123.3 447.6,2119.5 449.5,2118.2 451.5,2122.6 453.4,2125.5 455.4,2127.2 457.4,2127.2 459.3,2123.2 461.3,2115.9 463.3,2114.8 465.2,2116 467.2,2117.1 469.1,2120.2 471.1,2124 473.1,2124.8 475,2120.2 477,2114.9 479,2118.8 480.9,2124.2 482.9,2125.2 484.9,2125.1 486.8,2125.5 488.8,2126.1 490.7,2126.1 492.7,2124.5 494.7,2118.8 496.6,2116.1 498.6,2117.3 500.6,2116.6 502.5,2116.4 504.5,2120.9 506.4,2122.5 508.4,2116.3 510.4,2110.3 512.3,2112.3 514.3,2117.9 516.3,2119.3 518.2,2117.7 520.2,2116.8 522.2,2119.7 524.1,2121.9 526.1,2119.8 528,2113.4 530,2109.7 532,2111.9 533.9,2117.8 535.9,2119.1 537.9,2116 539.8,2108.2 541.8,2106 543.8,2105.9 545.7,2106.6 547.7,2110.5 549.6,2113.6 551.6,2115.3 553.6,2116.9 555.5,2113.5 557.5,2107.1 559.5,2107 561.4,2112.4 563.4,2110.8 565.3,2108.6 567.3,2117 569.3,2120.5 571.2,2114.6 573.2,2112 575.2,2118.2 577.1,2120.5 579.1,2117.5 581.1,2115.2 583,2118.1 585,2120.9 586.9,2121.3 588.9,2117 590.9,2107.3 592.8,2109.5 594.8,2119.1 596.8,2120 598.7,2119.3 600.7,2119.2 602.7,2117.5 604.6,2112.6 606.6,2109.9 608.5,2108.8 610.5,2111.5 612.5,2114.6 614.4,2110.7 616.4,2102.1 618.4,2100 620.3,2101.6 622.3,2105.5 624.2,2105.8 626.2,2102.3 628.2,2101.9 630.1,2106.9 632.1,2109.6 634.1,2109.3 636,2108.5 638,2102.6 640,2096.3 641.9,2098 643.9,2103.9 645.8,2101 647.8,2087.3 649.8,2080.4 651.7,2075.6 653.7,2070.3 655.7,2071.7 657.6,2072.8 659.6,2063.8 661.5,2054.3 663.5,2047.9 665.5,2040.6 667.4,2033.9 669.4,2026 671.4,2017.1 673.3,2017.3 675.3,2028.8 677.3,2036.8 679.2,2036.7 681.2,2039.6 683.1,2048.5 685.1,2061.9 687.1,2069.2 689,2066.1 691,2070.3 693,2075.6 694.9,2080 696.9,2083.6 698.9,2089.5 700.8,2099 702.8,2096.4 704.7,2097.4 706.7,2103 708.7,2102.9 710.6,2099.9 712.6,2095.7 714.6,2093.5 716.5,2093.3 718.5,2094 720.4,2097.3 722.4,2097.1 724.4,2094.2 726.3,2094.2 728.3,2097 730.3,2101.7 732.2,2104.1 734.2,2100.4 736.2,2095.2 738.1,2094.8 740.1,2096.9 742,2097.8 744,2102.1 746,2108.5 747.9,2107.8 749.9,2104.6 751.9,2106.2 753.8,2103.8 755.8,2095.7 757.8,2094.1 759.7,2097.7 761.7,2103.7 763.6,2103.8 765.6,2103.6 767.6,2107.6 769.5,2107.8 771.5,2100.4 773.5,2096 775.4,2099.9 777.4,2104 779.3,2101.8 781.3,2096.7 783.3,2093.2 785.2,2091.9 787.2,2092.2 789.2,2094.7 791.1,2096 793.1,2092.6 795.1,2088.6 797,2085.8 799,2084.5 800.9,2086.1 802.9,2088.4 804.9,2085.8 806.8,2081.2 808.8,2077.2 810.8,2073.9 812.7,2071.9 814.7,2072.2 816.7,2076 818.6,2076.8 820.6,2074.9 822.5,2074.9 824.5,2076.1 826.5,2076.7 828.4,2077 830.4,2074.9 832.4,2071.3 834.3,2070.5 836.3,2070.8 838.2,2073.3 840.2,2077.7 842.2,2078.1 844.1,2071.5 846.1,2062.5 848.1,2060.4 850,2063.1 852,2065 854,2059.2 855.9,2049.7 857.9,2041.9 859.8,2030.1 861.8,2016.4 863.8,2006.7 865.7,1988.5 867.7,1964.6 869.7,1933.5 871.6,1898.1 873.6,1870 875.5,1847.2 877.5,1823 879.5,1800.1 881.4,1785.4 883.4,1780.7 885.4,1788 887.3,1802.9 889.3,1817 891.3,1824.6 893.2,1846.1 895.2,1874.3 897.1,1904.1 899.1,1938.6 901.1,1971.4 903,1992.8 905,2010.4 907,2024.5 908.9,2035.7 910.9,2046.6 912.9,2056.6 914.8,2069.7 916.8,2077.9 918.7,2084.8 920.7,2091.5 922.7,2092 924.6,2086.3 926.6,2083.3 928.6,2084.9 930.5,2088.9 932.5,2091.2 934.4,2093.1 936.4,2094.1 938.4,2092.7 940.3,2088.9 942.3,2085.7 944.3,2082.8 946.2,2079.4 948.2,2080.3 950.2,2083 952.1,2085.6 954.1,2090.7 956,2090 958,2084.1 960,2083.9 961.9,2084.5 963.9,2085.6 965.9,2087.4 967.8,2089.4 969.8,2093.2 971.8,2102 973.7,2109.3 975.7,2112.5 977.6,2114.1 979.6,2114.2 981.6,2112.1 983.5,2112.3 985.5,2111.4 987.5,2110.5 989.4,2117.2 991.4,2121.9 993.3,2122 995.3,2122.3 997.3,2122.1 999.2,2115.9 1001.2,2111.3 1003.2,2111.1 1005.1,2112.4 1007.1,2115.7 1009.1,2122.5 1011,2124.4 1013,2119.4 1014.9,2114.1 1016.9,2113 1018.9,2114.8 1020.8,2120.5 1022.8,2120.2 1024.8,2113.5 1026.7,2112.8 1028.7,2118.1 1030.7,2125.2 1032.6,2125.5 1034.6,2120.9 1036.5,2117.4 1038.5,2117.7 1040.5,2119.4 1042.4,2123 1044.4,2124.5 1046.4,2121.5 1048.3,2117.4 1050.3,2113.6 1052.2,2112.4 1054.2,2114.6 1056.2,2117.3 1058.1,2113.3 1060.1,2112.1 1062.1,2116.1 1064,2126.8 1066,2129.2 1068,2127.1 1069.9,2116.8 1071.9,2114 1073.8,2119.2 1075.8,2124.3 1077.8,2123.9 1079.7,2123.9 1081.7,2127.7 1083.7,2128.6 1085.6,2125.8 1087.6,2119.2 1089.5,2122.1 1091.5,2124.6 1093.5,2125.5 1095.4,2126.2 1097.4,2123.3 1099.4,2116 1101.3,2115.2 1103.3,2117.7 1105.3,2121.7 1107.2,2124.4 1109.2,2124 1111.1,2121.6 1113.1,2119.8 1115.1,2117.4 1117,2116.2 1119,2119.8 1121,2118.1 1122.9,2110.2 1124.9,2107.6 1126.9,2105.2 1128.8,2104 1130.8,2105.6 1132.7,2109 1134.7,2107.3 1136.7,2105.8 1138.6,2104.9 1140.6,2104.4 1142.6,2109.6 1144.5,2120.2 1146.5,2121 1148.4,2118.2 1150.4,2107.6 1152.4,2102.6 1154.3,2102 1156.3,2104.1 1158.3,2105.2 1160.2,2102.1 1162.2,2097 1164.2,2089.4 1166.1,2082.6 1168.1,2078.1 1170,2072 1172,2064.5 1174,2058.7 1175.9,2054.9 1177.9,2054.6 1179.9,2057 1181.8,2054.9 1183.8,2050.1 1185.8,2048.6 1187.7,2048.1 1189.7,2044.6 1191.6,2046 1193.6,2050.6 1195.6,2055.5 1197.5,2062.4 1199.5,2072.8 1201.5,2085 1203.4,2091.4 1205.4,2087.7 1207.3,2091.2 1209.3,2107.3 1211.3,2114.1 1213.2,2116.2 1215.2,2114.4 1217.2,2104.4 1219.1,2103.2 1221.1,2109.2 1223.1,2117.5 1225,2115.1 1227,2111.1 1228.9,2110.2 1230.9,2108 1232.9,2109 1234.8,2121.4 1236.8,2125.3 1238.8,2125.4 1240.7,2124.5 1242.7,2120.8 1244.7,2110.5 1246.6,2108.6 1248.6,2110.5 1250.5,2120.1 1252.5,2126.1 1254.5,2126.6 1256.4,2121.2 1258.4,2113.8 1260.4,2116.5 1262.3,2120.6 1264.3,2115.2 1266.2,2111.6 1268.2,2114.8 1270.2,2123.7 1272.1,2123.1 1274.1,2119.6 1276.1,2122.9 1278,2126.4 1280,2127.8 1282,2128.7 1283.9,2126.6 1285.9,2119 1287.8,2114 1289.8,2113 1291.8,2113.5 1293.7,2119.5 1295.7,2126.1 1297.7,2122.8 1299.6,2118.9 1301.6,2116.7 1303.5,2117 1305.5,2123.1 1307.5,2128.1 1309.4,2126 1311.4,2128.6 1313.4,2132.2 1315.3,2131.3 1317.3,2125.4 1319.3,2117.1 1321.2,2115.4 1323.2,2116.6 1325.1,2123.1 1327.1,2123.5 1329.1,2119.8 1331,2119.6 1333,2126.4 1335,2131 1336.9,2128.1 1338.9,2119.3 1340.9,2122 1342.8,2129.8 1344.8,2130.4 1346.7,2130.1 1348.7,2131.1 1350.7,2130.8 1352.6,2125.8 1354.6,2116.6 1356.6,2114.9 1358.5,2115.7 1360.5,2118.8 1362.4,2121.2 1364.4,2122.6 1366.4,2124.8 1368.3,2122.3 1370.3,2117.3 1372.3,2116.6 1374.2,2117 1376.2,2120 1378.2,2125.5 1380.1,2127.9 1382.1,2130.1 1384,2130.5 1386,2126.2 1388,2118.1 1389.9,2115.6 1391.9,2116 1393.9,2117.9 1395.8,2121.3 1397.8,2121.8 1399.8,2117.3 1401.7,2116.1 1403.7,2116.1 1405.6,2119.7 1407.6,2123.9 1409.6,2119.5 1411.5,2117.6 1413.5,2121 1415.5,2124.2 1417.4,2120.6 1419.4,2117.2 1421.3,2120.3 1423.3,2128 1425.3,2130.6 1427.2,2130.7 1429.2,2128.5 1431.2,2124.7 1433.1,2126.1 1435.1,2127.7 1437.1,2125.2 1439,2122 1441,2121.6 1442.9,2125.7 1444.9,2129.4 1446.9,2130.5 1448.8,2130 1450.8,2124.2 1452.8,2120.5 1454.7,2126.6 1456.7,2125.9 1458.6,2118.7 1460.6,2122 1462.6,2127.3 1464.5,2123.3 1466.5,2120 1468.5,2117.8 1470.4,2115.3 1472.4,2115.5 1474.4,2116.7 1476.3,2115.9 1478.3,2115.5 1480.2,2116 1482.2,2117.9 1484.2,2122.3 1486.1,2125.3 1488.1,2121.6 1490.1,2115.3 1492,2114.2 1494,2116.4 1496,2127.5 1497.9,2130.4 1499.9,2127.3 1501.8,2123.2 1503.8,2121.8 1505.8,2122.5 1507.7,2124.6 1509.7,2126.6 1511.7,2127.4 1513.6,2125.6 1515.6,2121.6 1517.5,2118.2 1519.5,2119.1 1521.5,2130 1523.4,2131.9 1525.4,2131.9 1527.4,2129.5 1529.3,2120.4 1531.3,2119.5 1533.3,2116.6 1535.2,2114.7 1537.2,2115.9 1539.1,2119 1541.1,2125.7 1543.1,2129.5 1545,2125.7 1547,2116.4 1549,2113.5 1550.9,2113.3 1552.9,2116.3 1554.9,2124.5 1556.8,2126.4 1558.8,2123.6 1560.7,2119.9 1562.7,2116.7 1564.7,2113.6 1566.6,2114.8 1568.6,2124.2 1570.6,2126.1 1572.5,2121.6 1574.5,2115.3 1576.4,2120 1578.4,2120.9 1580.4,2113.1 1582.3,2102.5 1584.3,2104.3 1586.3,2108.6 1588.2,2105 1590.2,2100.2 1592.2,2102.6 1594.1,2106.7 1596.1,2106.7 1598,2102.4 1600,2098.6 1602,2104.6 1603.9,2108 1605.9,2104.6 1607.9,2101.7 1609.8,2102.2 1611.8,2103.3 1613.8,2104.9 1615.7,2106.7 1617.7,2108.4 1619.6,2110.9 1621.6,2117.1 1623.6,2124.1 1625.5,2121.9 1627.5,2116.6 1629.5,2115.3 1631.4,2112.4 1633.4,2111.3 1635.3,2113.2 1637.3,2124.3 1639.3,2126.6 1641.2,2121.6 1643.2,2113.2 1645.2,2112.1 1647.1,2115.2 1649.1,2115.1 1651.1,2111 1653,2109.2 1655,2109.2 1656.9,2113.8 1658.9,2118.9 1660.9,2112.7 1662.8,2108.4 1664.8,2108.8 1666.8,2111.8 1668.7,2111.2 1670.7,2107.8 1672.6,2106.1 1674.6,2105.7 1676.6,2108.5 1678.5,2115.9 1680.5,2111.6 1682.5,2107.6 1684.4,2110.4 1686.4,2112.4 1688.4,2110.1 1690.3,2111.6 1692.3,2116 1694.2,2118.7 1696.2,2118.3 1698.2,2113.2 1700.1,2107.8 1702.1,2105.2 1704.1,2101.3 1706,2099.7 1708,2101 1710,2100.9 1711.9,2100.7 1713.9,2101.9 1715.8,2098.2 1717.8,2093.7 1719.8,2091.7 1721.7,2086.9 1723.7,2077.1 1725.7,2063.8 1727.6,2058.4 1729.6,2059.8 1731.5,2054.4 1733.5,2041.8 1735.5,2028.1 1737.4,2024.1 1739.4,2025.3 1741.4,2033.8 1743.3,2040.4 1745.3,2040.2 1747.3,2041.2 1749.2,2049.6 1751.2,2053.5 1753.1,2055.9 1755.1,2063.2 1757.1,2073.8 1759,2082.9 1761,2086.6 1763,2091.9 1764.9,2100.8 1766.9,2107.3 1768.9,2111.3 1770.8,2113.9 1772.8,2115.7 1774.7,2116.9 1776.7,2114.9 1778.7,2110.3 1780.6,2112.5 1782.6,2120.2 1784.6,2122 1786.5,2115.4 1788.5,2109.8 1790.4,2113.8 1792.4,2114 1794.4,2114.4 1796.3,2124.3 1798.3,2126.4 1800.3,2124.8 1802.2,2124.3 1804.2,2127.2 1806.2,2127.3 1808.1,2125.4 1810.1,2121.2 1812,2115.2 1814,2113.6 1816,2117.9 1817.9,2123.9 1819.9,2125.9 1821.9,2121.2 1823.8,2110 1825.8,2109.2 1827.8,2113.9 1829.7,2120 1831.7,2118.4 1833.6,2116.6 1835.6,2119.2 1837.6,2120.5 1839.5,2118.9 1841.5,2115.4 1843.5,2113 1845.4,2112.8 1847.4,2109.2 1849.3,2107.7 1851.3,2110 1853.3,2115.9 1855.2,2118 1857.2,2117.2 1859.2,2117.5 1861.1,2121.8 1863.1,2122 1865.1,2114.8 1867,2108.3 1869,2107.9 1870.9,2113 1872.9,2118.6 1874.9,2116.6 1876.8,2112.6 1878.8,2110.6 1880.8,2106.9 1882.7,2104.5 1884.7,2104.5 1886.6,2104.6 1888.6,2104.1 1890.6,2102.8 1892.5,2102.9 1894.5,2110.2 1896.5,2113.2 1898.4,2112.1 1900.4,2109.7 1902.4,2108.3 1904.3,2108.3 1906.3,2108.5 1908.2,2108.3 1910.2,2107.5 1912.2,2102.7 1914.1,2093.8 1916.1,2089.4 1918.1,2089.1 1920,2089.7 1922,2097.3 1924,2098.9 1925.9,2101.1 1927.9,2101.9 1929.8,2099 1931.8,2096.8 1933.8,2094.4 1935.7,2088.9 1937.7,2077.4 1939.7,2070.5 1941.6,2064 1943.6,2051.1 1945.5,2039 1947.5,2031.2 1949.5,2027.3 1951.4,2022.9 1953.4,2016 1955.4,2008 1957.3,1995.9 1959.3,1990.2 1961.3,1994.6 1963.2,2002.8 1965.2,2010.6 1967.1,2016.7 1969.1,2018.6 1971.1,2028.5 1973,2042.2 1975,2049.6 1977,2054.7 1978.9,2065.5 1980.9,2077.9 1982.9,2085.6 1984.8,2089.1 1986.8,2093.9 1988.7,2102.1 1990.7,2103.1 1992.7,2094.3 1994.6,2095.4 1996.6,2097.7 1998.6,2102.4 2000.5,2109.1 2002.5,2115.4 2004.4,2117.2 2006.4,2115.1 2008.4,2115.3 2010.3,2118.7 2012.3,2118.4 2014.3,2117.3 2016.2,2120.8 2018.2,2119.8 2020.2,2110 2022.1,2108.3 2024.1,2111.9 2026,2115.9 2028,2120.7 2030,2122.6 2031.9,2121.1 2033.9,2121.7 2035.9,2123.3 2037.8,2122.5 2039.8,2121.6 2041.7,2121.2 2043.7,2118.7 2045.7,2116.6 2047.6,2116.5 2049.6,2114.8 2051.6,2114.8 2053.5,2120.6 2055.5,2125.9 2057.5,2124.4 2059.4,2123.2 2061.4,2124.4 2063.3,2125.7 2065.3,2125.3 2067.3,2124.8 2069.2,2126.8 2071.2,2128.7 2073.2,2126.5 2075.1,2119.5 2077.1,2116.9 2079.1,2120.4 2081,2124.4 2083,2120.8 2084.9,2118.3 2086.9,2116.8 2088.9,2113.7 2090.8,2111.8 2092.8,2112.2 2094.8,2114.8 2096.7,2122.5 2098.7,2127.1 2100.6,2127.3 2102.6,2128.3 2104.6,2125.1 2106.5,2117.1 2108.5,2117.3 2110.5,2120.7 2112.4,2129.8 2114.4,2126.2 2116.4,2121.5 2118.3,2122.1 2120.3,2128.6 2122.2,2135 2124.2,2136.5 2126.2,2132.3 2128.1,2122.3 2130.1,2122.1 2132.1,2126.9 2134,2130.2 2136,2134 2138,2135.7 2139.9,2135.2 2141.9,2132.9 2143.8,2128.4 2145.8,2127.1 2147.8,2129.7 2149.7,2134.4 2151.7,2136.9 2153.7,2136.2 2155.6,2134.8 2157.6,2134.4 2159.5,2133.3 2161.5,2133.1 2163.5,2133.3 2165.4,2131.5 2167.4,2127.9 2169.4,2127.5 2171.3,2129.4 2173.3,2127.6 2175.3,2124.5 2177.2,2125.6 2179.2,2129 2181.1,2129.9 2183.1,2132.5 2185.1,2137.3 2187,2136.4 2189,2127.1 2191,2125.8 2192.9,2132.7 2194.9,2135.6 2196.9,2136.4 2198.8,2137.5 2200.8,2136.3 2202.7,2131.5 2204.7,2127.3 2206.7,2126.8 2208.6,2129.8 2210.6,2133.8 2212.6,2134.8 2214.5,2132.4 2216.5,2131.1 2218.4,2129.9" fill="none" stroke="none" marker-start="url(#o)" marker-mid="url(#o)" marker-end="url(#o)"/>
<polyline points="263,2121 265,2121 266.9,2121 268.9,2120.9 270.9,2120.9 272.8,2120.9 274.8,2120.9 276.7,2120.9 278.7,2120.8 280.7,2120.8 282.6,2120.8 284.6,2120.8 286.6,2120.8 288.5,2120.7 290.5,2120.7 292.4,2120.7 294.4,2120.7 296.4,2120.7 298.3,2120.6 300.3,2120.6 302.3,2120.6 304.2,2120.6 306.2,2120.6 308.2,2120.5 310.1,2120.5 312.1,2120.5 314,2120.5 316,2120.5 318,2120.4 319.9,2120.4 321.9,2120.4 323.9,2120.4 325.8,2120.4 327.8,2120.3 329.8,2120.3 331.7,2120.3 333.7,2120.3 335.6,2120.3 337.6,2120.2 339.6,2120.2 341.5,2120.2 343.5,2120.2 345.5,2120.2 347.4,2120.1 349.4,2120.1 351.3,2120.1 353.3,2120.1 355.3,2120.1 357.2,2120 359.2,2120 361.2,2120 363.1,2120 365.1,2120 367.1,2119.9 369,2119.9 371,2119.9 372.9,2119.9 374.9,2119.9 376.9,2119.8 378.8,2119.8 380.8,2119.8 382.8,2119.8 384.7,2119.8 386.7,2119.7 388.7,2119.7 390.6,2119.7 392.6,2119.7 394.5,2119.7 396.5,2119.6 398.5,2119.6 400.4,2119.6 402.4,2119.6 404.4,2119.6 406.3,2119.5 408.3,2119.5 410.2,2119.5 412.2,2119.5 414.2,2119.5 416.1,2119.4 418.1,2119.4 420.1,2119.4 422,2119.4 424,2119.4 426,2119.3 427.9,2119.3 429.9,2119.3 431.8,2119.3 433.8,2119.3 435.8,2119.2 437.7,2119.2 439.7,2119.2 441.7,2119.2 443.6,2119.2 445.6,2119.1 447.6,2119.1 449.5,2119.1 451.5,2119 453.4,2119 455.4,2118.9 457.4,2118.8 459.3,2118.7 461.3,2118.6 463.3,2118.5 465.2,2118.5 467.2,2118.4 469.1,2118.3 471.1,2118.2 473.1,2118.1 475,2118 477,2118 479,2117.9 480.9,2117.8 482.9,2117.7 484.9,2117.6 486.8,2117.5 488.8,2117.5 490.7,2117.4 492.7,2117.3 494.7,2117.2 496.6,2117.1 498.6,2117 500.6,2117 502.5,2116.9 504.5,2116.8 506.4,2116.7 508.4,2116.6 510.4,2116.5 512.3,2116.5 514.3,2116.4 516.3,2116.3 518.2,2116.2 520.2,2116.1 522.2,2116 524.1,2116 526.1,2115.9 528,2115.8 530,2115.7 532,2115.6 533.9,2115.5 535.9,2115.5 537.9,2115.4 539.8,2115.3 541.8,2115.2 543.8,2115.1 545.7,2115 547.7,2115 549.6,2114.9 551.6,2114.8 553.6,2114.7 555.5,2114.6 557.5,2114.5 559.5,2114.5 561.4,2114.4 563.4,2114.3 565.3,2114.2 567.3,2114.1 569.3,2114 571.2,2114 573.2,2113.9 575.2,2113.8 577.1,2113.7 579.1,2113.6 581.1,2113.5 583,2113.5 585,2113.4 586.9,2113.2 588.9,2113 590.9,2112.7 592.8,2112.4 594.8,2112.1 596.8,2111.8 598.7,2111.5 600.7,2111.2 602.7,2110.9 604.6,2110.7 606.6,2110.4 608.5,2110.2 610.5,2109.9 612.5,2109.6 614.4,2109.4 616.4,2109.1 618.4,2108.8 620.3,2108.6 622.3,2108.3 624.2,2108 626.2,2107.7 628.2,2107.4 630.1,2107.1 632.1,2106.7 634.1,2106.2 636,2105.8 638,2105.2 640,2104.4 641.9,2103.2 643.9,2101.7 645.8,2099.6 647.8,2096.9 649.8,2093.5 651.7,2089.2 653.7,2084.2 655.7,2078.5 657.6,2072.1 659.6,2065.4 661.5,2058.7 663.5,2052.2 665.5,2046.5 667.4,2041.8 669.4,2038.5 671.4,2036.9 673.3,2037.1 675.3,2039 677.3,2042.5 679.2,2047.4 681.2,2053.2 683.1,2059.7 685.1,2066.3 687.1,2072.8 689,2078.9 691,2084.3 693,2089 694.9,2092.9 696.9,2096 698.9,2098.5 700.8,2100.3 702.8,2101.6 704.7,2102.5 706.7,2103.1 708.7,2103.4 710.6,2103.6 712.6,2103.7 714.6,2103.8 716.5,2103.7 718.5,2103.7 720.4,2103.6 722.4,2103.6 724.4,2103.5 726.3,2103.4 728.3,2103.3 730.3,2103.2 732.2,2103.2 734.2,2103.1 736.2,2103 738.1,2102.9 740.1,2102.8 742,2102.7 744,2102.7 746,2102.6 747.9,2102.5 749.9,2102.4 751.9,2102.3 753.8,2102.2 755.8,2102.1 757.8,2102.1 759.7,2102 761.7,2101.9 763.6,2101.8 765.6,2101.7 767.6,2101.6 769.5,2101.6 771.5,2101.5 773.5,2101.4 775.4,2101.3 777.4,2101.2 779.3,2101.1 781.3,2101.1 783.3,2101 785.2,2100.9 787.2,2100.8 789.2,2100.4 791.1,2099.4 793.1,2097.9 795.1,2096.3 797,2094.7 799,2093.1 800.9,2091.5 802.9,2089.9 804.9,2088.3 806.8,2086.6 808.8,2085 810.8,2083.4 812.7,2081.8 814.7,2080.2 816.7,2078.6 818.6,2077 820.6,2075.4 822.5,2074.3 824.5,2074.2 826.5,2074.5 828.4,2074.9 830.4,2075.2 832.4,2075.6 834.3,2075.9 836.3,2076.2 838.2,2076.4 840.2,2076.5 842.2,2076.5 844.1,2076.2 846.1,2075.5 848.1,2074.3 850,2072.4 852,2069.4 854,2065.1 855.9,2058.9 857.9,2050.6 859.8,2039.8 861.8,2026.1 863.8,2009.3 865.7,1989.6 867.7,1967.2 869.7,1942.7 871.6,1917.1 873.6,1891.4 875.5,1867.1 877.5,1845.6 879.5,1828.4 881.4,1816.7 883.4,1811.3 885.4,1812.8 887.3,1821 889.3,1835.3 891.3,1854.9 893.2,1878.3 895.2,1904.1 897.1,1930.8 899.1,1957.3 901.1,1982.2 903,2004.8 905,2024.6 907,2041.4 908.9,2055.1 910.9,2066.1 912.9,2074.6 914.8,2081 916.8,2085.7 918.7,2089 920.7,2091.2 922.7,2092.6 924.6,2093.3 926.6,2093.4 928.6,2093.2 930.5,2092.6 932.5,2091.7 934.4,2090.8 936.4,2089.7 938.4,2088.6 940.3,2087.6 942.3,2086.8 944.3,2086.2 946.2,2085.8 948.2,2085.9 950.2,2086.3 952.1,2087 954.1,2088.2 956,2089.6 958,2091.2 960,2092.9 961.9,2094.8 963.9,2096.6 965.9,2098.4 967.8,2100 969.8,2101.5 971.8,2102.8 973.7,2104.1 975.7,2105.4 977.6,2106.8 979.6,2108.2 981.6,2109.4 983.5,2110.6 985.5,2111.8 987.5,2112.8 989.4,2113.9 991.4,2114.9 993.3,2115.9 995.3,2116.9 997.3,2117.8 999.2,2118.3 1001.2,2118.6 1003.2,2118.7 1005.1,2118.9 1007.1,2119.1 1009.1,2119.2 1011,2119.4 1013,2119.6 1014.9,2119.7 1016.9,2119.9 1018.9,2120.1 1020.8,2120.2 1022.8,2120.4 1024.8,2120.6 1026.7,2120.7 1028.7,2120.9 1030.7,2121 1032.6,2121 1034.6,2121 1036.5,2120.9 1038.5,2120.9 1040.5,2120.9 1042.4,2120.9 1044.4,2120.9 1046.4,2120.8 1048.3,2120.8 1050.3,2120.8 1052.2,2120.8 1054.2,2120.8 1056.2,2120.7 1058.1,2120.7 1060.1,2120.7 1062.1,2120.7 1064,2120.7 1066,2120.6 1068,2120.6 1069.9,2120.6 1071.9,2120.6 1073.8,2120.6 1075.8,2120.5 1077.8,2120.5 1079.7,2120.4 1081.7,2120.2 1083.7,2119.9 1085.6,2119.6 1087.6,2119.3 1089.5,2119 1091.5,2118.7 1093.5,2118.4 1095.4,2118.1 1097.4,2117.8 1099.4,2117.5 1101.3,2117.2 1103.3,2116.9 1105.3,2116.6 1107.2,2116.3 1109.2,2116 1111.1,2115.7 1113.1,2115.4 1115.1,2115.1 1117,2114.8 1119,2114.5 1121,2114.2 1122.9,2113.9 1124.9,2113.7 1126.9,2113.6 1128.8,2113.6 1130.8,2113.6 1132.7,2113.6 1134.7,2113.6 1136.7,2113.7 1138.6,2113.7 1140.6,2113.6 1142.6,2113.6 1144.5,2113.5 1146.5,2113.3 1148.4,2113 1150.4,2112.5 1152.4,2111.8 1154.3,2110.9 1156.3,2109.5 1158.3,2107.7 1160.2,2105.3 1162.2,2102.4 1164.2,2098.8 1166.1,2094.5 1168.1,2089.6 1170,2084.3 1172,2078.6 1174,2072.9 1175.9,2067.3 1177.9,2062.3 1179.9,2058 1181.8,2054.8 1183.8,2053 1185.8,2052.5 1187.7,2053.6 1189.7,2056 1191.6,2059.6 1193.6,2064.3 1195.6,2069.6 1197.5,2075.4 1199.5,2081.2 1201.5,2086.8 1203.4,2092.1 1205.4,2096.8 1207.3,2100.9 1209.3,2104.4 1211.3,2107.2 1213.2,2109.4 1215.2,2111.1 1217.2,2112.5 1219.1,2113.5 1221.1,2114.4 1223.1,2115 1225,2115.5 1227,2115.9 1228.9,2116.2 1230.9,2116.4 1232.9,2116.7 1234.8,2116.9 1236.8,2117.1 1238.8,2117.3 1240.7,2117.5 1242.7,2117.7 1244.7,2117.9 1246.6,2118 1248.6,2118.2 1250.5,2118.4 1252.5,2118.6 1254.5,2118.8 1256.4,2119 1258.4,2119.2 1260.4,2119.4 1262.3,2119.6 1264.3,2119.7 1266.2,2119.9 1268.2,2120.1 1270.2,2120.3 1272.1,2120.5 1274.1,2120.7 1276.1,2120.9 1278,2121.1 1280,2121.3 1282,2121.4 1283.9,2121.6 1285.9,2121.8 1287.8,2122 1289.8,2122.3 1291.8,2122.6 1293.7,2123.2 1295.7,2123.8 1297.7,2124.3 1299.6,2124.9 1301.6,2125.5 1303.5,2126.1 1305.5,2126.7 1307.5,2127.3 1309.4,2127.8 1311.4,2128.4 1313.4,2129 1315.3,2129.6 1317.3,2130.2 1319.3,2130.8 1321.2,2131.2 1323.2,2130.9 1325.1,2129.9 1327.1,2128.7 1329.1,2127.4 1331,2126.1 1333,2124.9 1335,2123.6 1336.9,2122.3 1338.9,2121 1340.9,2119.8 1342.8,2118.5 1344.8,2117.2 1346.7,2116 1348.7,2115 1350.7,2114.8 1352.6,2115.5 1354.6,2116.5 1356.6,2117.6 1358.5,2118.6 1360.5,2119.7 1362.4,2120.7 1364.4,2121.8 1366.4,2122.8 1368.3,2123.8 1370.3,2124.9 1372.3,2125.9 1374.2,2127 1376.2,2128 1378.2,2128.8 1380.1,2129 1382.1,2128.8 1384,2128.5 1386,2128.2 1388,2127.9 1389.9,2127.6 1391.9,2127.3 1393.9,2127 1395.8,2126.7 1397.8,2126.4 1399.8,2126.1 1401.7,2125.8 1403.7,2125.5 1405.6,2125.2 1407.6,2124.9 1409.6,2124.6 1411.5,2124.3 1413.5,2124.1 1415.5,2124 1417.4,2124 1419.4,2123.9 1421.3,2123.9 1423.3,2123.9 1425.3,2123.9 1427.2,2123.8 1429.2,2123.8 1431.2,2123.8 1433.1,2123.8 1435.1,2123.7 1437.1,2123.7 1439,2123.7 1441,2123.7 1442.9,2123.6 1444.9,2123.6 1446.9,2123.6 1448.8,2123.6 1450.8,2123.6 1452.8,2123.5 1454.7,2123.5 1456.7,2123.5 1458.6,2123.5 1460.6,2123.4 1462.6,2123.4 1464.5,2123.4 1466.5,2123.4 1468.5,2123.3 1470.4,2123.3 1472.4,2123.3 1474.4,2123.3 1476.3,2123.2 1478.3,2123.2 1480.2,2123.2 1482.2,2123.2 1484.2,2123.1 1486.1,2123.1 1488.1,2123.1 1490.1,2123.1 1492,2123.1 1494,2123 1496,2123 1497.9,2123 1499.9,2123 1501.8,2122.9 1503.8,2122.9 1505.8,2122.9 1507.7,2122.9 1509.7,2122.8 1511.7,2122.8 1513.6,2122.8 1515.6,2122.8 1517.5,2122.7 1519.5,2122.7 1521.5,2122.7 1523.4,2122.7 1525.4,2122.6 1527.4,2122.6 1529.3,2122.6 1531.3,2122.6 1533.3,2122.6 1535.2,2122.5 1537.2,2122.5 1539.1,2122.5 1541.1,2122.5 1543.1,2122.4 1545,2122.4 1547,2122.4 1549,2122.4 1550.9,2122.3 1552.9,2122.3 1554.9,2122.1 1556.8,2121.9 1558.8,2121.5 1560.7,2121.2 1562.7,2120.8 1564.7,2120.3 1566.6,2119.8 1568.6,2119.2 1570.6,2118.5 1572.5,2117.5 1574.5,2116.5 1576.4,2115.4 1578.4,2114.2 1580.4,2112.7 1582.3,2111 1584.3,2109.2 1586.3,2107.3 1588.2,2105.5 1590.2,2103.9 1592.2,2102.6 1594.1,2101.8 1596.1,2101.6 1598,2102 1600,2102.9 1602,2104.3 1603.9,2106.1 1605.9,2108.2 1607.9,2110.3 1609.8,2112.4 1611.8,2114.4 1613.8,2116.2 1615.7,2117.7 1617.7,2119 1619.6,2120 1621.6,2120.8 1623.6,2121.3 1625.5,2121.5 1627.5,2121.5 1629.5,2121.4 1631.4,2121.2 1633.4,2121 1635.3,2120.8 1637.3,2120.5 1639.3,2120.3 1641.2,2120 1643.2,2119.8 1645.2,2119.5 1647.1,2119.2 1649.1,2119 1651.1,2118.7 1653,2118.4 1655,2118.2 1656.9,2117.9 1658.9,2117.6 1660.9,2117.4 1662.8,2117.1 1664.8,2116.8 1666.8,2116.6 1668.7,2116.3 1670.7,2116.1 1672.6,2115.8 1674.6,2115.5 1676.6,2115.3 1678.5,2115.1 1680.5,2114.9 1682.5,2114.7 1684.4,2114.5 1686.4,2114.3 1688.4,2114.1 1690.3,2113.9 1692.3,2113.7 1694.2,2113.4 1696.2,2113.1 1698.2,2112.8 1700.1,2112.3 1702.1,2111.7 1704.1,2111 1706,2110 1708,2108.7 1710,2107 1711.9,2104.8 1713.9,2101.9 1715.8,2098.4 1717.8,2094.1 1719.8,2089.1 1721.7,2083.3 1723.7,2077 1725.7,2070.2 1727.6,2063.2 1729.6,2056.4 1731.5,2050 1733.5,2044.4 1735.5,2039.9 1737.4,2036.8 1739.4,2035.4 1741.4,2035.6 1743.3,2037.6 1745.3,2041.1 1747.3,2046 1749.2,2051.9 1751.2,2058.4 1753.1,2065.4 1755.1,2072.3 1757.1,2079 1759,2085.2 1761,2090.8 1763,2095.6 1764.9,2099.7 1766.9,2103 1768.9,2105.8 1770.8,2108 1772.8,2109.9 1774.7,2111.4 1776.7,2112.5 1778.7,2113.5 1780.6,2114.3 1782.6,2114.9 1784.6,2115.5 1786.5,2116 1788.5,2116.4 1790.4,2116.8 1792.4,2117.3 1794.4,2117.7 1796.3,2118.1 1798.3,2118.5 1800.3,2118.9 1802.2,2119.2 1804.2,2119.6 1806.2,2119.7 1808.1,2119.6 1810.1,2119.4 1812,2119.3 1814,2119.2 1816,2119 1817.9,2118.9 1819.9,2118.7 1821.9,2118.6 1823.8,2118.4 1825.8,2118.3 1827.8,2118.2 1829.7,2118 1831.7,2117.9 1833.6,2117.7 1835.6,2117.6 1837.6,2117.5 1839.5,2117.3 1841.5,2117.2 1843.5,2117 1845.4,2116.9 1847.4,2116.8 1849.3,2116.6 1851.3,2116.5 1853.3,2116.3 1855.2,2116.2 1857.2,2116.1 1859.2,2115.9 1861.1,2115.8 1863.1,2115.6 1865.1,2115.5 1867,2115.3 1869,2115.2 1870.9,2115.1 1872.9,2114.9 1874.9,2114.8 1876.8,2114.6 1878.8,2114.3 1880.8,2113.5 1882.7,2112.6 1884.7,2111.6 1886.6,2110.6 1888.6,2109.6 1890.6,2108.7 1892.5,2107.7 1894.5,2106.7 1896.5,2105.7 1898.4,2104.8 1900.4,2103.8 1902.4,2102.8 1904.3,2101.8 1906.3,2101 1908.2,2100.7 1910.2,2100.7 1912.2,2100.8 1914.1,2100.9 1916.1,2100.9 1918.1,2100.8 1920,2100.6 1922,2100.3 1924,2099.6 1925.9,2098.6 1927.9,2097.2 1929.8,2095.1 1931.8,2092.2 1933.8,2088.6 1935.7,2084 1937.7,2078.3 1939.7,2071.7 1941.6,2064 1943.6,2055.5 1945.5,2046.3 1947.5,2036.8 1949.5,2027.5 1951.4,2018.6 1953.4,2010.8 1955.4,2004.5 1957.3,2000 1959.3,1997.7 1961.3,1997.9 1963.2,2000.5 1965.2,2005.2 1967.1,2011.9 1969.1,2020 1971.1,2029.2 1973,2038.9 1975,2048.8 1977,2058.3 1978.9,2067.2 1980.9,2075.3 1982.9,2082.3 1984.8,2088.5 1986.8,2094.2 1988.7,2099.2 1990.7,2103.2 1992.7,2106 1994.6,2108 1996.6,2109.5 1998.6,2110.7 2000.5,2111.6 2002.5,2112.3 2004.4,2112.8 2006.4,2113.3 2008.4,2113.7 2010.3,2114.1 2012.3,2114.5 2014.3,2114.8 2016.2,2115.2 2018.2,2115.5 2020.2,2115.8 2022.1,2116.2 2024.1,2116.5 2026,2116.8 2028,2117.1 2030,2117.5 2031.9,2117.8 2033.9,2118.1 2035.9,2118.4 2037.8,2118.8 2039.8,2119.1 2041.7,2119.4 2043.7,2119.8 2045.7,2120.3 2047.6,2120.9 2049.6,2121.5 2051.6,2122.1 2053.5,2122.7 2055.5,2123.3 2057.5,2123.9 2059.4,2124.5 2061.4,2125.2 2063.3,2125.8 2065.3,2126.4 2067.3,2127 2069.2,2127.4 2071.2,2127.3 2073.2,2126.7 2075.1,2125.9 2077.1,2125.1 2079.1,2124.2 2081,2123.4 2083,2122.6 2084.9,2121.8 2086.9,2120.9 2088.9,2120.3 2090.8,2120.4 2092.8,2120.9 2094.8,2121.6 2096.7,2122.3 2098.7,2123.1 2100.6,2123.8 2102.6,2124.5 2104.6,2125.2 2106.5,2125.9 2108.5,2126.6 2110.5,2127.3 2112.4,2128 2114.4,2128.5 2116.4,2128.6 2118.3,2128.7 2120.3,2128.7 2122.2,2128.8 2124.2,2128.8 2126.2,2128.9 2128.1,2128.9 2130.1,2128.9 2132.1,2129 2134,2129 2136,2129.1 2138,2129.1 2139.9,2129.2 2141.9,2129.2 2143.8,2129.2 2145.8,2129.3 2147.8,2129.3 2149.7,2129.4 2151.7,2129.4 2153.7,2129.4 2155.6,2129.5 2157.6,2129.5 2159.5,2129.6 2161.5,2129.6 2163.5,2129.7 2165.4,2129.7 2167.4,2129.7 2169.4,2129.8 2171.3,2129.8 2173.3,2129.9 2175.3,2129.9 2177.2,2129.9 2179.2,2130 2181.1,2130 2183.1,2130.1 2185.1,2130.1 2187,2130.2 2189,2130.2 2191,2130.2 2192.9,2130.3 2194.9,2130.3 2196.9,2130.4 2198.8,2130.4 2200.8,2130.5 2202.7,2130.5 2204.7,2130.5 2206.7,2130.6 2208.6,2130.6 2210.6,2130.7 2212.6,2130.7 2214.5,2130.7 2216.5,2130.8 2218.4,2130.8" fill="none" stroke="#000" stroke-width="11" stroke-linejoin="round" stroke-linecap="square"/>
<polyline points="263,2481.7 265,2485.3 266.9,2486.6 268.9,2481.3 270.9,2478.9 272.8,2481.5 274.8,2488.4 276.7,2489.8 278.7,2485.5 280.7,2484 282.6,2485.3 284.6,2488.2 286.6,2492.8 288.5,2494.2 290.5,2494.1 292.4,2493.5 294.4,2491.5 296.4,2492.6 298.3,2495 300.3,2494.2 302.3,2489.9 304.2,2489.2 306.2,2490.5 308.2,2491.5 310.1,2494.8 312.1,2495.5 314,2492.5 316,2489.6 318,2493.3 319.9,2495.3 321.9,2495.6 323.9,2495.9 325.8,2495.7 327.8,2489.9 329.8,2481.3 331.7,2480.5 333.7,2485.4 335.6,2493.7 337.6,2494.7 339.6,2487.9 341.5,2484.4 343.5,2488.9 345.5,2489.7 347.4,2487.3 349.4,2485.2 351.3,2482.6 353.3,2484.4 355.3,2491.4 357.2,2492.1 359.2,2485.7 361.2,2481.3 363.1,2481.7 365.1,2485.7 367.1,2489.2 369,2492.6 371,2496.6 372.9,2497.1 374.9,2493 376.9,2487.2 378.8,2492 380.8,2495.3 382.8,2496.5 384.7,2497.2 386.7,2494.9 388.7,2487.9 390.6,2485.8 392.6,2483.7 394.5,2481.6 396.5,2483.2 398.5,2488.9 400.4,2490.1 402.4,2486.8 404.4,2483.6 406.3,2483.4 408.3,2485.4 410.2,2482.9 412.2,2481.3 414.2,2483.5 416.1,2485.6 418.1,2488.8 420.1,2494.3 422,2492.8 424,2486.9 426,2485.1 427.9,2487.4 429.9,2491.2 431.8,2494.1 433.8,2496.8 435.8,2497.9 437.7,2498.1 439.7,2496.8 441.7,2490.1 443.6,2487.5 445.6,2489.3 447.6,2488.3 449.5,2490.6 451.5,2494.8 453.4,2493 455.4,2488 457.4,2487.5 459.3,2490 461.3,2490.4 463.3,2486.2 465.2,2483.5 467.2,2485.3 469.1,2484.8 471.1,2481.2 473.1,2480.9 475,2482 477,2486 479,2487.7 480.9,2486.8 482.9,2489.3 484.9,2496.6 486.8,2499 488.8,2498.9 490.7,2496.1 492.7,2490.4 494.7,2488.3 496.6,2490.8 498.6,2492.1 500.6,2485.5 502.5,2481.5 504.5,2481.2 506.4,2481.2 508.4,2481.4 510.4,2481.7 512.3,2481.8 514.3,2484.2 516.3,2488.9 518.2,2486.2 520.2,2483.6 522.2,2485.6 524.1,2487.3 526.1,2487.4 528,2492 530,2497 532,2497.2 533.9,2496.5 535.9,2498.8 537.9,2499.4 539.8,2497.8 541.8,2492.8 543.8,2493.5 545.7,2492.7 547.7,2490.6 549.6,2490.1 551.6,2487.6 553.6,2484.3 555.5,2482.4 557.5,2481.6 559.5,2482.3 561.4,2493.3 563.4,2499.4 565.3,2499.4 567.3,2498.5 569.3,2498.2 571.2,2498.9 573.2,2499.1 575.2,2497.9 577.1,2492.8 579.1,2488.7 581.1,2486.5 583,2482.9 585,2482.1 586.9,2486.6 588.9,2492.5 590.9,2491.3 592.8,2494.1 594.8,2496.5 596.8,2493.9 598.7,2485.4 600.7,2485.1 602.7,2489.1 604.6,2486.8 606.6,2480.9 608.5,2478.6 610.5,2477.2 612.5,2478.5 614.4,2487.2 616.4,2490.6 618.4,2489.9 620.3,2489.4 622.3,2488.7 624.2,2485.3 626.2,2478.8 628.2,2475.9 630.1,2479.1 632.1,2485.9 634.1,2487 636,2484.7 638,2474.6 640,2465.9 641.9,2465.5 643.9,2470 645.8,2467.1 647.8,2456.7 649.8,2445.5 651.7,2441.4 653.7,2437.4 655.7,2428.5 657.6,2422.3 659.6,2420.1 661.5,2416.5 663.5,2414.2 665.5,2413.4 667.4,2413.2 669.4,2413.4 671.4,2414 673.3,2413.2 675.3,2417.1 677.3,2425.1 679.2,2436.3 681.2,2448.2 683.1,2457.8 685.1,2460.1 687.1,2455.4 689,2458 691,2462 693,2465.8 694.9,2469.2 696.9,2474.9 698.9,2479.5 700.8,2476 702.8,2472.6 704.7,2472.3 706.7,2470.8 708.7,2472.6 710.6,2478.2 712.6,2477.6 714.6,2480.5 716.5,2489.8 718.5,2490.3 720.4,2478 722.4,2476 724.4,2478.2 726.3,2481.8 728.3,2483.3 730.3,2483.8 732.2,2486.1 734.2,2486.2 736.2,2482.3 738.1,2481 740.1,2483.1 742,2490.2 744,2492.9 746,2489.9 747.9,2487 749.9,2490.7 751.9,2494 753.8,2492.6 755.8,2489 757.8,2487.6 759.7,2483.9 761.7,2480.9 763.6,2481.4 765.6,2480.9 767.6,2482.4 769.5,2485.9 771.5,2485.6 773.5,2482.2 775.4,2480.5 777.4,2481.9 779.3,2479.2 781.3,2473.8 783.3,2475.7 785.2,2477.6 787.2,2476.9 789.2,2476.8 791.1,2478.4 793.1,2479.6 795.1,2478.2 797,2474.4 799,2472.2 800.9,2470.8 802.9,2468.8 804.9,2467.9 806.8,2473.2 808.8,2480.4 810.8,2480.6 812.7,2479.9 814.7,2476.3 816.7,2473.1 818.6,2471.1 820.6,2470.2 822.5,2472.6 824.5,2471.4 826.5,2468.2 828.4,2468.1 830.4,2464.3 832.4,2458.9 834.3,2458 836.3,2459.6 838.2,2462.7 840.2,2461.6 842.2,2451.5 844.1,2440.1 846.1,2433.8 848.1,2425.6 850,2415.5 852,2405.9 854,2393.3 855.9,2373.3 857.9,2353.5 859.8,2335.1 861.8,2310.3 863.8,2284.2 865.7,2270.3 867.7,2251.2 869.7,2217.5 871.6,2188.9 873.6,2175.1 875.5,2167.8 877.5,2164 879.5,2169.6 881.4,2178.9 883.4,2187.1 885.4,2205.3 887.3,2227.8 889.3,2258 891.3,2288 893.2,2306.7 895.2,2331.6 897.1,2361.5 899.1,2380.5 901.1,2393 903,2410 905,2425.9 907,2435 908.9,2439.7 910.9,2441.9 912.9,2441.5 914.8,2442.4 916.8,2446.6 918.7,2451 920.7,2454.5 922.7,2460.3 924.6,2464.9 926.6,2464.6 928.6,2459.1 930.5,2457.6 932.5,2458.9 934.4,2457.7 936.4,2459 938.4,2468.1 940.3,2474.2 942.3,2470.4 944.3,2465 946.2,2466.7 948.2,2473.4 950.2,2479.5 952.1,2475.1 954.1,2470.9 956,2472.7 958,2478.9 960,2485.8 961.9,2492.4 963.9,2496 965.9,2495.5 967.8,2485.6 969.8,2481.6 971.8,2484.2 973.7,2492.5 975.7,2496 977.6,2496.9 979.6,2498.7 981.6,2500.2 983.5,2499.2 985.5,2491.5 987.5,2486.2 989.4,2485.5 991.4,2485.8 993.3,2488.5 995.3,2501 997.3,2504.8 999.2,2504 1001.2,2496.3 1003.2,2491.8 1005.1,2496 1007.1,2499.9 1009.1,2498.1 1011,2498.3 1013,2498.1 1014.9,2492.6 1016.9,2492.2 1018.9,2496.7 1020.8,2495.6 1022.8,2495.5 1024.8,2503.1 1026.7,2505.3 1028.7,2505.3 1030.7,2500.6 1032.6,2492.3 1034.6,2493.4 1036.5,2492.5 1038.5,2488.1 1040.5,2488 1042.4,2496.8 1044.4,2504.2 1046.4,2503.9 1048.3,2500.1 1050.3,2495.1 1052.2,2493.4 1054.2,2495 1056.2,2496.8 1058.1,2498.5 1060.1,2496.7 1062.1,2493.5 1064,2496.7 1066,2500.4 1068,2499 1069.9,2492.4 1071.9,2487.6 1073.8,2487.5 1075.8,2490.3 1077.8,2492.7 1079.7,2489 1081.7,2486.4 1083.7,2487.5 1085.6,2495.1 1087.6,2495.2 1089.5,2490.8 1091.5,2489.8 1093.5,2488.1 1095.4,2485.6 1097.4,2485.2 1099.4,2487.5 1101.3,2491.7 1103.3,2492.8 1105.3,2493.3 1107.2,2492.8 1109.2,2485.1 1111.1,2481.4 1113.1,2481.5 1115.1,2483.8 1117,2484.1 1119,2482.1 1121,2484.3 1122.9,2491.2 1124.9,2489 1126.9,2481.3 1128.8,2479.8 1130.8,2482.1 1132.7,2485.3 1134.7,2487.3 1136.7,2487.2 1138.6,2486.7 1140.6,2484.4 1142.6,2475.1 1144.5,2471.1 1146.5,2470.9 1148.4,2471.4 1150.4,2469.4 1152.4,2466.9 1154.3,2462.9 1156.3,2458.6 1158.3,2455.1 1160.2,2453.6 1162.2,2451.2 1164.2,2449.5 1166.1,2451 1168.1,2446.6 1170,2435.9 1172,2433.3 1174,2437.6 1175.9,2437.9 1177.9,2437.2 1179.9,2435.3 1181.8,2434.9 1183.8,2439.8 1185.8,2442.1 1187.7,2436.5 1189.7,2433.2 1191.6,2438 1193.6,2450 1195.6,2455.2 1197.5,2454.7 1199.5,2462.7 1201.5,2475.9 1203.4,2480.8 1205.4,2477.1 1207.3,2475.3 1209.3,2480.8 1211.3,2481.3 1213.2,2483.2 1215.2,2493.8 1217.2,2496.7 1219.1,2495 1221.1,2482.3 1223.1,2481.4 1225,2486.6 1227,2490.7 1228.9,2495 1230.9,2500.2 1232.9,2500.2 1234.8,2492.1 1236.8,2488.4 1238.8,2490.4 1240.7,2490.4 1242.7,2492.3 1244.7,2496.8 1246.6,2496.6 1248.6,2490.9 1250.5,2489.8 1252.5,2493.7 1254.5,2496.8 1256.4,2500.2 1258.4,2501.3 1260.4,2496.9 1262.3,2496.9 1264.3,2503.8 1266.2,2504.7 1268.2,2503.9 1270.2,2500.7 1272.1,2494.2 1274.1,2489.2 1276.1,2491.1 1278,2498 1280,2500.1 1282,2499.1 1283.9,2497.3 1285.9,2495.8 1287.8,2497.7 1289.8,2500.9 1291.8,2501.4 1293.7,2498.1 1295.7,2490.7 1297.7,2489.2 1299.6,2499.2 1301.6,2505 1303.5,2504.5 1305.5,2497.8 1307.5,2491.2 1309.4,2493.2 1311.4,2497.2 1313.4,2494.6 1315.3,2494.1 1317.3,2499.6 1319.3,2499.8 1321.2,2494.7 1323.2,2491.8 1325.1,2492 1327.1,2496.7 1329.1,2498.6 1331,2495 1333,2497.8 1335,2501.9 1336.9,2501.5 1338.9,2501.3 1340.9,2499.8 1342.8,2497.6 1344.8,2497.2 1346.7,2492.9 1348.7,2492.1 1350.7,2497 1352.6,2496 1354.6,2492.1 1356.6,2491.6 1358.5,2490.4 1360.5,2489 1362.4,2488.8 1364.4,2490.7 1366.4,2495.5 1368.3,2494.7 1370.3,2490.3 1372.3,2490.6 1374.2,2495.5 1376.2,2501.4 1378.2,2503.3 1380.1,2500.2 1382.1,2495.3 1384,2496.4 1386,2501.6 1388,2503 1389.9,2496.1 1391.9,2490.9 1393.9,2498.5 1395.8,2505.7 1397.8,2505.1 1399.8,2501 1401.7,2495.5 1403.7,2491.3 1405.6,2491.2 1407.6,2492.7 1409.6,2491.6 1411.5,2489.8 1413.5,2490.8 1415.5,2495.9 1417.4,2497.8 1419.4,2493.5 1421.3,2490 1423.3,2490 1425.3,2491.9 1427.2,2490.6 1429.2,2489.5 1431.2,2490.6 1433.1,2494.3 1435.1,2496.5 1437.1,2498 1439,2499.1 1441,2496 1442.9,2491.1 1444.9,2490.6 1446.9,2494.4 1448.8,2498.3 1450.8,2497.3 1452.8,2496 1454.7,2500.7 1456.7,2505.1 1458.6,2505.7 1460.6,2505.3 1462.6,2504.7 1464.5,2504.3 1466.5,2504.4 1468.5,2503.4 1470.4,2500.6 1472.4,2502 1474.4,2505.1 1476.3,2504.8 1478.3,2498.9 1480.2,2493.7 1482.2,2494.6 1484.2,2494.9 1486.1,2489.8 1488.1,2487.5 1490.1,2487.7 1492,2488.8 1494,2490.8 1496,2497.1 1497.9,2503.3 1499.9,2504.6 1501.8,2503.7 1503.8,2495.6 1505.8,2488.4 1507.7,2487.8 1509.7,2488.2 1511.7,2487.4 1513.6,2487.8 1515.6,2493.2 1517.5,2497.7 1519.5,2496.7 1521.5,2493.7 1523.4,2490.8 1525.4,2487.8 1527.4,2486.5 1529.3,2489.2 1531.3,2499.5 1533.3,2501.7 1535.2,2497.7 1537.2,2493.8 1539.1,2495.2 1541.1,2496.2 1543.1,2495.6 1545,2493.8 1547,2490.8 1549,2491.7 1550.9,2494 1552.9,2493 1554.9,2491.6 1556.8,2489.2 1558.8,2485.8 1560.7,2484.5 1562.7,2483 1564.7,2479.6 1566.6,2474.1 1568.6,2469.3 1570.6,2466.9 1572.5,2466.7 1574.5,2470.3 1576.4,2472.2 1578.4,2466.1 1580.4,2459.1 1582.3,2456.4 1584.3,2455.6 1586.3,2455.6 1588.2,2455.7 1590.2,2456.4 1592.2,2458.7 1594.1,2466.7 1596.1,2469.4 1598,2472 1600,2480.5 1602,2483 1603.9,2480.3 1605.9,2485.1 1607.9,2489.8 1609.8,2489.4 1611.8,2490.2 1613.8,2492.7 1615.7,2493.4 1617.7,2491.4 1619.6,2488.3 1621.6,2490.5 1623.6,2492.8 1625.5,2487.6 1627.5,2485.7 1629.5,2490.3 1631.4,2493.2 1633.4,2492.7 1635.3,2494.2 1637.3,2492.4 1639.3,2486.7 1641.2,2488.3 1643.2,2496.3 1645.2,2498.7 1647.1,2498.8 1649.1,2498.2 1651.1,2497.6 1653,2497.5 1655,2496.9 1656.9,2497.3 1658.9,2497.7 1660.9,2497.5 1662.8,2497.2 1664.8,2496.3 1666.8,2492 1668.7,2490.2 1670.7,2492.4 1672.6,2491.6 1674.6,2491.1 1676.6,2492.6 1678.5,2491.4 1680.5,2485.7 1682.5,2483.1 1684.4,2483.9 1686.4,2479.2 1688.4,2472.7 1690.3,2470.1 1692.3,2469 1694.2,2471.2 1696.2,2476.1 1698.2,2475 1700.1,2471.4 1702.1,2467 1704.1,2462.2 1706,2456.8 1708,2449.1 1710,2440.8 1711.9,2434.9 1713.9,2426.4 1715.8,2416.1 1717.8,2409.1 1719.8,2403.7 1721.7,2399.8 1723.7,2400.1 1725.7,2403.5 1727.6,2404.9 1729.6,2407.5 1731.5,2410.7 1733.5,2410.4 1735.5,2408.2 1737.4,2408.4 1739.4,2412.9 1741.4,2418.7 1743.3,2427.1 1745.3,2436.8 1747.3,2445.1 1749.2,2457.7 1751.2,2464.8 1753.1,2470.7 1755.1,2476 1757.1,2479.7 1759,2482.9 1761,2485.3 1763,2482.6 1764.9,2479.7 1766.9,2479.3 1768.9,2476.3 1770.8,2478 1772.8,2488.8 1774.7,2493.8 1776.7,2489.2 1778.7,2486.2 1780.6,2487.9 1782.6,2489 1784.6,2486.9 1786.5,2483.8 1788.5,2483 1790.4,2483.7 1792.4,2491.3 1794.4,2500.7 1796.3,2501.7 1798.3,2501.8 1800.3,2501.3 1802.2,2495.7 1804.2,2487.7 1806.2,2485.5 1808.1,2484.7 1810.1,2486.2 1812,2496.8 1814,2501.5 1816,2501 1817.9,2495.8 1819.9,2487.7 1821.9,2486.3 1823.8,2490 1825.8,2500 1827.8,2502.9 1829.7,2500.7 1831.7,2492.4 1833.6,2490.5 1835.6,2489.7 1837.6,2487.6 1839.5,2488.9 1841.5,2494.6 1843.5,2495.3 1845.4,2490 1847.4,2486 1849.3,2485.4 1851.3,2487.4 1853.3,2488.8 1855.2,2487.2 1857.2,2486.5 1859.2,2485.5 1861.1,2483.2 1863.1,2482.9 1865.1,2489.6 1867,2496.9 1869,2497.6 1870.9,2498.3 1872.9,2497.9 1874.9,2494.9 1876.8,2493.8 1878.8,2495.5 1880.8,2495.7 1882.7,2493.4 1884.7,2489.6 1886.6,2490.2 1888.6,2490.1 1890.6,2482.6 1892.5,2478.3 1894.5,2479.1 1896.5,2477.9 1898.4,2474.9 1900.4,2474.8 1902.4,2476.1 1904.3,2473.7 1906.3,2469.1 1908.2,2464.5 1910.2,2460.7 1912.2,2456.8 1914.1,2452.8 1916.1,2450.1 1918.1,2449.9 1920,2447.1 1922,2445 1924,2443.7 1925.9,2436.9 1927.9,2420.1 1929.8,2405.8 1931.8,2399.3 1933.8,2394.4 1935.7,2387.9 1937.7,2383.9 1939.7,2387.4 1941.6,2386.5 1943.6,2378.4 1945.5,2371.9 1947.5,2374.6 1949.5,2382.3 1951.4,2387.1 1953.4,2386.6 1955.4,2377.5 1957.3,2381.8 1959.3,2401.9 1961.3,2413.3 1963.2,2418 1965.2,2413.1 1967.1,2417.8 1969.1,2425.3 1971.1,2428.7 1973,2435.6 1975,2452.1 1977,2465 1978.9,2469.4 1980.9,2470.9 1982.9,2476.2 1984.8,2478.4 1986.8,2472.7 1988.7,2473 1990.7,2482 1992.7,2490.5 1994.6,2492.8 1996.6,2492 1998.6,2490.2 2000.5,2486.7 2002.5,2483.9 2004.4,2488.3 2006.4,2496.2 2008.4,2495.7 2010.3,2492.3 2012.3,2495.8 2014.3,2500.2 2016.2,2500.7 2018.2,2497.3 2020.2,2489.8 2022.1,2485.8 2024.1,2485.9 2026,2489.3 2028,2492.9 2030,2495.4 2031.9,2499 2033.9,2500.7 2035.9,2500.6 2037.8,2500.6 2039.8,2500 2041.7,2498.6 2043.7,2495.7 2045.7,2492.5 2047.6,2493 2049.6,2495.1 2051.6,2496.9 2053.5,2500.7 2055.5,2503.1 2057.5,2501.1 2059.4,2496.9 2061.4,2498.8 2063.3,2502.1 2065.3,2501.2 2067.3,2500.8 2069.2,2503.8 2071.2,2505.1 2073.2,2502 2075.1,2493 2077.1,2490.9 2079.1,2497.4 2081,2505.4 2083,2505.9 2084.9,2504.1 2086.9,2503.7 2088.9,2503.2 2090.8,2500.3 2092.8,2496.8 2094.8,2494.2 2096.7,2497.3 2098.7,2502.4 2100.6,2499.4 2102.6,2493.7 2104.6,2496.6 2106.5,2503.5 2108.5,2501.4 2110.5,2494.5 2112.4,2493.2 2114.4,2490.9 2116.4,2489.6 2118.3,2489.8 2120.3,2491.7 2122.2,2493.8 2124.2,2495.3 2126.2,2497.8 2128.1,2498.4 2130.1,2495.8 2132.1,2495.6 2134,2501.3 2136,2506.5 2138,2507.6 2139.9,2503.5 2141.9,2491.1 2143.8,2490.2 2145.8,2491.5 2147.8,2495.5 2149.7,2495.6 2151.7,2500.3 2153.7,2504.5 2155.6,2501.5 2157.6,2498.2 2159.5,2497.4 2161.5,2496.5 2163.5,2498.1 2165.4,2497.3 2167.4,2493 2169.4,2492.3 2171.3,2493.9 2173.3,2496.3 2175.3,2499.7 2177.2,2502.8 2179.2,2506.6 2181.1,2507.9 2183.1,2503.9 2185.1,2500.7 2187,2505.2 2189,2504 2191,2496.9 2192.9,2499.1 2194.9,2506.2 2196.9,2504.7 2198.8,2500.3 2200.8,2501.5 2202.7,2501.3 2204.7,2498.7 2206.7,2499.8 2208.6,2505.2 2210.6,2506.6 2212.6,2504.1 2214.5,2503.3 2216.5,2502.5 2218.4,2501.8" fill="none" stroke="none" marker-start="url(#o)" marker-mid="url(#o)" marker-end="url(#o)"/>
<polyline points="263,2486 265,2486 266.9,2486.1 268.9,2486.1 270.9,2486.2 272.8,2486.2 274.8,2486.3 276.7,2486.3 278.7,2486.3 280.7,2486.4 282.6,2486.4 284.6,2486.5 286.6,2486.5 288.5,2486.5 290.5,2486.6 292.4,2486.6 294.4,2486.7 296.4,2486.7 298.3,2486.8 300.3,2486.8 302.3,2486.8 304.2,2486.9 306.2,2486.9 308.2,2487 310.1,2487 312.1,2487 314,2487.1 316,2487.1 318,2487.2 319.9,2487.2 321.9,2487.3 323.9,2487.3 325.8,2487.3 327.8,2487.4 329.8,2487.4 331.7,2487.5 333.7,2487.5 335.6,2487.6 337.6,2487.6 339.6,2487.6 341.5,2487.7 343.5,2487.7 345.5,2487.8 347.4,2487.8 349.4,2487.8 351.3,2487.9 353.3,2487.9 355.3,2488 357.2,2488 359.2,2488.1 361.2,2488.1 363.1,2488.1 365.1,2488.2 367.1,2488.2 369,2488.3 371,2488.3 372.9,2488.4 374.9,2488.4 376.9,2488.4 378.8,2488.5 380.8,2488.5 382.8,2488.6 384.7,2488.6 386.7,2488.6 388.7,2488.7 390.6,2488.7 392.6,2488.8 394.5,2488.8 396.5,2488.9 398.5,2488.9 400.4,2488.9 402.4,2489 404.4,2489 406.3,2489.1 408.3,2489.1 410.2,2489.1 412.2,2489.2 414.2,2489.2 416.1,2489.3 418.1,2489.3 420.1,2489.4 422,2489.4 424,2489.4 426,2489.5 427.9,2489.5 429.9,2489.6 431.8,2489.6 433.8,2489.7 435.8,2489.7 437.7,2489.7 439.7,2489.8 441.7,2489.8 443.6,2489.9 445.6,2489.9 447.6,2489.9 449.5,2490 451.5,2490 453.4,2490 455.4,2490 457.4,2490 459.3,2490 461.3,2490 463.3,2490 465.2,2490.1 467.2,2490.1 469.1,2490.1 471.1,2490.1 473.1,2490.1 475,2490.1 477,2490.1 479,2490.1 480.9,2490.1 482.9,2490.1 484.9,2490.1 486.8,2490.1 488.8,2490.1 490.7,2490.1 492.7,2490.2 494.7,2490.2 496.6,2490.2 498.6,2490.2 500.6,2490.2 502.5,2490.2 504.5,2490.2 506.4,2490.2 508.4,2490.2 510.4,2490.2 512.3,2490.2 514.3,2490.2 516.3,2490.2 518.2,2490.2 520.2,2490.3 522.2,2490.3 524.1,2490.3 526.1,2490.3 528,2490.3 530,2490.3 532,2490.3 533.9,2490.3 535.9,2490.3 537.9,2490.3 539.8,2490.3 541.8,2490.3 543.8,2490.3 545.7,2490.4 547.7,2490.4 549.6,2490.4 551.6,2490.4 553.6,2490.4 555.5,2490.4 557.5,2490.4 559.5,2490.4 561.4,2490.4 563.4,2490.4 565.3,2490.4 567.3,2490.4 569.3,2490.4 571.2,2490.4 573.2,2490.5 575.2,2490.5 577.1,2490.5 579.1,2490.5 581.1,2490.5 583,2490.5 585,2490.5 586.9,2490.3 588.9,2489.9 590.9,2489.4 592.8,2489 594.8,2488.5 596.8,2488 598.7,2487.5 600.7,2487.1 602.7,2486.8 604.6,2486.5 606.6,2486.2 608.5,2485.9 610.5,2485.6 612.5,2485.3 614.4,2485 616.4,2484.7 618.4,2484.4 620.3,2484.1 622.3,2483.7 624.2,2483.3 626.2,2482.9 628.2,2482.4 630.1,2481.7 632.1,2481 634.1,2480.1 636,2478.8 638,2477 640,2474.6 641.9,2471.4 643.9,2467.3 645.8,2462.3 647.8,2456.3 649.8,2449.5 651.7,2442.1 653.7,2434.2 655.7,2426.4 657.6,2419.1 659.6,2412.6 661.5,2407.6 663.5,2404.4 665.5,2403.1 667.4,2404 669.4,2407 671.4,2411.7 673.3,2417.9 675.3,2425.1 677.3,2432.8 679.2,2440.6 681.2,2448 683.1,2454.9 685.1,2460.9 687.1,2465.9 689,2470 691,2473.3 693,2475.7 694.9,2477.3 696.9,2478.3 698.9,2478.9 700.8,2479.2 702.8,2479.2 704.7,2479.1 706.7,2479.1 708.7,2479.5 710.6,2480.3 712.6,2481.2 714.6,2482.1 716.5,2483 718.5,2483.9 720.4,2484.8 722.4,2485.7 724.4,2486.6 726.3,2487.5 728.3,2488.3 730.3,2489.2 732.2,2490 734.2,2490.4 736.2,2490.2 738.1,2489.8 740.1,2489.4 742,2489 744,2488.7 746,2488.3 747.9,2487.9 749.9,2487.5 751.9,2487.1 753.8,2486.7 755.8,2486.4 757.8,2486 759.7,2485.6 761.7,2485.2 763.6,2484.8 765.6,2484.4 767.6,2484.1 769.5,2483.7 771.5,2483.3 773.5,2482.9 775.4,2482.5 777.4,2482.2 779.3,2481.8 781.3,2481.4 783.3,2481 785.2,2480.6 787.2,2480.2 789.2,2479.8 791.1,2479.3 793.1,2478.8 795.1,2478.3 797,2477.8 799,2477.3 800.9,2476.8 802.9,2476.3 804.9,2475.8 806.8,2475.3 808.8,2474.9 810.8,2474.4 812.7,2473.9 814.7,2473.4 816.7,2472.9 818.6,2472.4 820.6,2471.9 822.5,2471.4 824.5,2470.8 826.5,2470.3 828.4,2469.7 830.4,2469 832.4,2468.2 834.3,2467.2 836.3,2466 838.2,2464.3 840.2,2462.1 842.2,2459.1 844.1,2455.1 846.1,2449.8 848.1,2442.8 850,2433.7 852,2422.3 854,2408.2 855.9,2391.4 857.9,2371.8 859.8,2349.7 861.8,2325.6 863.8,2300.2 865.7,2274.6 867.7,2249.7 869.7,2227 871.6,2207.7 873.6,2192.9 875.5,2183.5 877.5,2180.2 879.5,2183.2 881.4,2192.2 883.4,2206.6 885.4,2225.6 887.3,2247.9 889.3,2272.3 891.3,2297.6 893.2,2322.5 895.2,2346.2 897.1,2367.8 899.1,2386.9 901.1,2403.3 903,2416.9 905,2427.9 907,2436.5 908.9,2443 910.9,2448 912.9,2452 914.8,2455.2 916.8,2457.7 918.7,2459.7 920.7,2461.2 922.7,2462.4 924.6,2463.4 926.6,2464.4 928.6,2465.2 930.5,2466 932.5,2466.7 934.4,2467.5 936.4,2468.3 938.4,2469.5 940.3,2470.9 942.3,2472.3 944.3,2473.8 946.2,2475.3 948.2,2476.8 950.2,2478.2 952.1,2479.7 954.1,2481.2 956,2482.7 958,2484.1 960,2485.6 961.9,2487.1 963.9,2488.5 965.9,2489.5 967.8,2490.1 969.8,2490.6 971.8,2491 973.7,2491.4 975.7,2491.8 977.6,2492.2 979.6,2492.7 981.6,2493.1 983.5,2493.5 985.5,2493.9 987.5,2494.3 989.4,2494.8 991.4,2495.2 993.3,2495.6 995.3,2496 997.3,2496.4 999.2,2496.5 1001.2,2496.6 1003.2,2496.5 1005.1,2496.5 1007.1,2496.5 1009.1,2496.5 1011,2496.5 1013,2496.4 1014.9,2496.4 1016.9,2496.4 1018.9,2496.4 1020.8,2496.3 1022.8,2496.3 1024.8,2496.3 1026.7,2496.3 1028.7,2496.3 1030.7,2496.2 1032.6,2496.2 1034.6,2496.2 1036.5,2496.2 1038.5,2496.2 1040.5,2496.1 1042.4,2496.1 1044.4,2496.1 1046.4,2496.1 1048.3,2496 1050.3,2496 1052.2,2496 1054.2,2496 1056.2,2496 1058.1,2495.9 1060.1,2495.9 1062.1,2495.9 1064,2495.9 1066,2495.9 1068,2495.8 1069.9,2495.8 1071.9,2495.8 1073.8,2495.8 1075.8,2495.7 1077.8,2495.7 1079.7,2495.6 1081.7,2495.4 1083.7,2495.1 1085.6,2494.8 1087.6,2494.5 1089.5,2494.1 1091.5,2493.8 1093.5,2493.5 1095.4,2493.2 1097.4,2492.8 1099.4,2492.5 1101.3,2492.2 1103.3,2491.9 1105.3,2491.6 1107.2,2491.2 1109.2,2490.9 1111.1,2490.6 1113.1,2490.3 1115.1,2489.9 1117,2489.6 1119,2489.3 1121,2488.9 1122.9,2488.6 1124.9,2488.2 1126.9,2487.8 1128.8,2487.4 1130.8,2487 1132.7,2486.5 1134.7,2485.9 1136.7,2485.3 1138.6,2484.5 1140.6,2483.8 1142.6,2482.9 1144.5,2481.9 1146.5,2480.7 1148.4,2479.2 1150.4,2477.3 1152.4,2475.1 1154.3,2472.6 1156.3,2469.7 1158.3,2466.6 1160.2,2463.2 1162.2,2459.7 1164.2,2456.1 1166.1,2452.6 1168.1,2449.3 1170,2446.4 1172,2443.9 1174,2442 1175.9,2440.7 1177.9,2440.3 1179.9,2440.6 1181.8,2441.8 1183.8,2443.7 1185.8,2446.2 1187.7,2449.3 1189.7,2452.7 1191.6,2456.4 1193.6,2460.2 1195.6,2464 1197.5,2467.7 1199.5,2471.2 1201.5,2474.4 1203.4,2477.3 1205.4,2479.9 1207.3,2482.1 1209.3,2484 1211.3,2485.7 1213.2,2487 1215.2,2488.1 1217.2,2489 1219.1,2489.7 1221.1,2490.4 1223.1,2490.9 1225,2491.3 1227,2491.7 1228.9,2492.1 1230.9,2492.4 1232.9,2492.7 1234.8,2493 1236.8,2493.3 1238.8,2493.5 1240.7,2493.8 1242.7,2494 1244.7,2494.3 1246.6,2494.5 1248.6,2494.8 1250.5,2495.1 1252.5,2495.3 1254.5,2495.5 1256.4,2495.7 1258.4,2495.7 1260.4,2495.8 1262.3,2495.8 1264.3,2495.8 1266.2,2495.8 1268.2,2495.9 1270.2,2495.9 1272.1,2495.9 1274.1,2495.9 1276.1,2496 1278,2496 1280,2496 1282,2496 1283.9,2496.1 1285.9,2496.1 1287.8,2496.1 1289.8,2496.1 1291.8,2496.1 1293.7,2496.2 1295.7,2496.2 1297.7,2496.2 1299.6,2496.2 1301.6,2496.3 1303.5,2496.3 1305.5,2496.3 1307.5,2496.3 1309.4,2496.4 1311.4,2496.4 1313.4,2496.4 1315.3,2496.4 1317.3,2496.5 1319.3,2496.4 1321.2,2496.3 1323.2,2496.1 1325.1,2495.9 1327.1,2495.6 1329.1,2495.4 1331,2495.2 1333,2494.9 1335,2494.7 1336.9,2494.7 1338.9,2494.8 1340.9,2495.1 1342.8,2495.3 1344.8,2495.6 1346.7,2495.8 1348.7,2496.1 1350.7,2496.3 1352.6,2496.5 1354.6,2496.6 1356.6,2496.6 1358.5,2496.6 1360.5,2496.7 1362.4,2496.7 1364.4,2496.8 1366.4,2496.8 1368.3,2496.9 1370.3,2496.9 1372.3,2496.9 1374.2,2497 1376.2,2497 1378.2,2497.1 1380.1,2497.1 1382.1,2497.1 1384,2497.2 1386,2497.2 1388,2497.3 1389.9,2497.3 1391.9,2497.4 1393.9,2497.4 1395.8,2497.4 1397.8,2497.5 1399.8,2497.5 1401.7,2497.6 1403.7,2497.6 1405.6,2497.7 1407.6,2497.7 1409.6,2497.7 1411.5,2497.8 1413.5,2497.8 1415.5,2497.9 1417.4,2497.9 1419.4,2497.9 1421.3,2498 1423.3,2498 1425.3,2498.1 1427.2,2498.1 1429.2,2498.2 1431.2,2498.2 1433.1,2498.1 1435.1,2498.1 1437.1,2498 1439,2497.9 1441,2497.9 1442.9,2497.8 1444.9,2497.7 1446.9,2497.7 1448.8,2497.6 1450.8,2497.5 1452.8,2497.5 1454.7,2497.4 1456.7,2497.4 1458.6,2497.3 1460.6,2497.2 1462.6,2497.2 1464.5,2497.1 1466.5,2497 1468.5,2497 1470.4,2496.9 1472.4,2496.8 1474.4,2496.8 1476.3,2496.7 1478.3,2496.6 1480.2,2496.6 1482.2,2496.5 1484.2,2496.4 1486.1,2496.4 1488.1,2496.3 1490.1,2496.2 1492,2496.2 1494,2496.1 1496,2496 1497.9,2496 1499.9,2495.9 1501.8,2495.9 1503.8,2495.8 1505.8,2495.7 1507.7,2495.7 1509.7,2495.6 1511.7,2495.5 1513.6,2495.5 1515.6,2495.4 1517.5,2495.3 1519.5,2495.3 1521.5,2495.2 1523.4,2495.1 1525.4,2495.1 1527.4,2495 1529.3,2494.9 1531.3,2494.8 1533.3,2494.8 1535.2,2494.7 1537.2,2494.5 1539.1,2494.1 1541.1,2493.8 1543.1,2493.3 1545,2492.9 1547,2492.4 1549,2491.9 1550.9,2491.2 1552.9,2490.5 1554.9,2489.7 1556.8,2488.8 1558.8,2487.8 1560.7,2486.7 1562.7,2485.6 1564.7,2484.5 1566.6,2483.2 1568.6,2481.8 1570.6,2480.5 1572.5,2479.1 1574.5,2477.8 1576.4,2476.5 1578.4,2475.4 1580.4,2474.5 1582.3,2473.8 1584.3,2473.4 1586.3,2473.3 1588.2,2473.5 1590.2,2474.1 1592.2,2474.9 1594.1,2475.9 1596.1,2477.1 1598,2478.4 1600,2479.7 1602,2481.1 1603.9,2482.5 1605.9,2483.8 1607.9,2485 1609.8,2486.1 1611.8,2487.2 1613.8,2488.2 1615.7,2489.1 1617.7,2489.9 1619.6,2490.5 1621.6,2491.2 1623.6,2491.7 1625.5,2492.1 1627.5,2492.5 1629.5,2492.5 1631.4,2492.4 1633.4,2492.3 1635.3,2492.1 1637.3,2491.9 1639.3,2491.7 1641.2,2491.5 1643.2,2491.3 1645.2,2491.1 1647.1,2490.9 1649.1,2490.7 1651.1,2490.5 1653,2490.3 1655,2490.1 1656.9,2489.9 1658.9,2489.6 1660.9,2489.4 1662.8,2489.2 1664.8,2488.9 1666.8,2488.7 1668.7,2488.4 1670.7,2488.1 1672.6,2487.8 1674.6,2487.4 1676.6,2486.9 1678.5,2486.1 1680.5,2485.1 1682.5,2483.9 1684.4,2482.6 1686.4,2481.3 1688.4,2480 1690.3,2478.6 1692.3,2476.8 1694.2,2474.8 1696.2,2472.4 1698.2,2469.7 1700.1,2466.5 1702.1,2463.1 1704.1,2459.3 1706,2455.2 1708,2451 1710,2446.6 1711.9,2442.2 1713.9,2437.9 1715.8,2433.9 1717.8,2430.2 1719.8,2427 1721.7,2424.5 1723.7,2422.6 1725.7,2421.5 1727.6,2421.4 1729.6,2422.2 1731.5,2423.9 1733.5,2426.4 1735.5,2429.4 1737.4,2433.1 1739.4,2437.1 1741.4,2441.5 1743.3,2446 1745.3,2450.6 1747.3,2455.1 1749.2,2459.5 1751.2,2463.6 1753.1,2467.4 1755.1,2470.8 1757.1,2473.9 1759,2476.7 1761,2479.1 1763,2481.1 1764.9,2482.9 1766.9,2484.6 1768.9,2486.2 1770.8,2487.6 1772.8,2488.8 1774.7,2489.8 1776.7,2490.8 1778.7,2491.6 1780.6,2492.3 1782.6,2492.6 1784.6,2492.8 1786.5,2492.9 1788.5,2493.1 1790.4,2493.2 1792.4,2493.3 1794.4,2493.4 1796.3,2493.5 1798.3,2493.6 1800.3,2493.7 1802.2,2493.8 1804.2,2493.9 1806.2,2494 1808.1,2494.1 1810.1,2494.2 1812,2494.2 1814,2494.3 1816,2494.4 1817.9,2494.5 1819.9,2494.6 1821.9,2494.7 1823.8,2494.8 1825.8,2494.9 1827.8,2495 1829.7,2495 1831.7,2495.1 1833.6,2495.1 1835.6,2494.9 1837.6,2494.8 1839.5,2494.6 1841.5,2494.4 1843.5,2494.2 1845.4,2494 1847.4,2493.8 1849.3,2493.6 1851.3,2493.4 1853.3,2493.2 1855.2,2493 1857.2,2492.8 1859.2,2492.6 1861.1,2492.4 1863.1,2492.2 1865.1,2492 1867,2491.8 1869,2491.6 1870.9,2491.4 1872.9,2491.2 1874.9,2491 1876.8,2490.8 1878.8,2490.5 1880.8,2490.2 1882.7,2489.9 1884.7,2489.6 1886.6,2489.3 1888.6,2488.9 1890.6,2488.5 1892.5,2488 1894.5,2487.4 1896.5,2486.6 1898.4,2485.7 1900.4,2484.5 1902.4,2483.1 1904.3,2481.5 1906.3,2479.5 1908.2,2477.3 1910.2,2474.6 1912.2,2471.6 1914.1,2468.2 1916.1,2464.4 1918.1,2460.2 1920,2455.7 1922,2450.8 1924,2445.7 1925.9,2440.4 1927.9,2435 1929.8,2429.6 1931.8,2424.4 1933.8,2419.4 1935.7,2414.7 1937.7,2410.5 1939.7,2406.9 1941.6,2404 1943.6,2401.9 1945.5,2400.6 1947.5,2400.3 1949.5,2401 1951.4,2402.6 1953.4,2405.1 1955.4,2408.2 1957.3,2412.1 1959.3,2416.5 1961.3,2421.4 1963.2,2426.6 1965.2,2432.1 1967.1,2437.6 1969.1,2443.1 1971.1,2448.5 1973,2453.7 1975,2458.6 1977,2463.2 1978.9,2467.4 1980.9,2471.3 1982.9,2474.8 1984.8,2477.8 1986.8,2480.5 1988.7,2482.9 1990.7,2484.9 1992.7,2486.6 1994.6,2488.1 1996.6,2489.3 1998.6,2490.4 2000.5,2491.2 2002.5,2491.9 2004.4,2492.5 2006.4,2492.9 2008.4,2493.3 2010.3,2493.6 2012.3,2493.9 2014.3,2494.1 2016.2,2494.3 2018.2,2494.5 2020.2,2494.7 2022.1,2494.9 2024.1,2495 2026,2495.2 2028,2495.3 2030,2495.5 2031.9,2495.6 2033.9,2495.8 2035.9,2495.9 2037.8,2496 2039.8,2496.2 2041.7,2496.3 2043.7,2496.4 2045.7,2496.6 2047.6,2496.7 2049.6,2496.9 2051.6,2497 2053.5,2497.1 2055.5,2497.3 2057.5,2497.4 2059.4,2497.6 2061.4,2497.7 2063.3,2497.7 2065.3,2497.8 2067.3,2497.8 2069.2,2497.9 2071.2,2497.9 2073.2,2497.9 2075.1,2498 2077.1,2498 2079.1,2498.1 2081,2498.1 2083,2498.2 2084.9,2498.2 2086.9,2498.2 2088.9,2498.3 2090.8,2498.3 2092.8,2498.4 2094.8,2498.4 2096.7,2498.4 2098.7,2498.5 2100.6,2498.5 2102.6,2498.6 2104.6,2498.6 2106.5,2498.7 2108.5,2498.7 2110.5,2498.7 2112.4,2498.8 2114.4,2498.8 2116.4,2498.9 2118.3,2498.9 2120.3,2498.9 2122.2,2499 2124.2,2499 2126.2,2499.1 2128.1,2499.1 2130.1,2499.2 2132.1,2499.2 2134,2499.2 2136,2499.3 2138,2499.3 2139.9,2499.4 2141.9,2499.4 2143.8,2499.4 2145.8,2499.5 2147.8,2499.5 2149.7,2499.6 2151.7,2499.6 2153.7,2499.7 2155.6,2499.7 2157.6,2499.7 2159.5,2499.8 2161.5,2499.8 2163.5,2499.9 2165.4,2499.9 2167.4,2499.9 2169.4,2500 2171.3,2500 2173.3,2500.1 2175.3,2500.1 2177.2,2500.2 2179.2,2500.2 2181.1,2500.2 2183.1,2500.3 2185.1,2500.3 2187,2500.4 2189,2500.4 2191,2500.4 2192.9,2500.5 2194.9,2500.5 2196.9,2500.6 2198.8,2500.6 2200.8,2500.7 2202.7,2500.7 2204.7,2500.7 2206.7,2500.8 2208.6,2500.8 2210.6,2500.9 2212.6,2500.9 2214.5,2500.9 2216.5,2501 2218.4,2501" fill="none" stroke="#000" stroke-width="11" stroke-linejoin="round" stroke-linecap="square"/>
</g>
<rect x="660.1" y="2523" width="12.6" height="47" fill="#008000"/>
<rect x="871.3" y="2523" width="12.7" height="47" fill="#008000"/>
<rect x="936" y="2523" width="13" height="47" fill="#008000"/>
<rect x="1172.5" y="2523" width="13.6" height="47" fill="#008000"/>
<rect x="1334.1" y="2523" width="14" height="47" fill="#008000"/>
<rect x="1580.9" y="2523" width="16.4" height="47" fill="#008000"/>
<rect x="1721" y="2523" width="15" height="47" fill="#008000"/>
<rect x="1941.6" y="2523" width="15.3" height="47" fill="#008000"/>
<rect x="2068.8" y="2523" width="16.3" height="47" fill="#008000"/>
<rect x="2110" y="2523" width="16.8" height="47" fill="#008000"/>
<rect x="278.7" y="52.7" width="523.8" height="244" fill="#fff" stroke="#000" stroke-width="3.4"/>
<circle cx="380.5" cy="99.2" r="12.4" fill="none" stroke="#f00" stroke-width="1.8"/>
<rect x="308" y="173.7" width="146" height="10.3" fill="#000"/>
<rect x="376" y="229.8" width="10.1" height="58" fill="#008000"/>
<text font-size="68" transform="translate(469.7 121.7) scale(0.9487 1)">Yobs</text>
<text font-size="68" transform="translate(469.7 200.7) scale(0.9632 1)">Ycalc</text>
<text font-size="68" transform="translate(471.0 280.8) scale(0.9500 1)">Bragg Pos.</text>
<text class="b" font-size="85" transform="translate(1947.5 170.5) scale(0.9545 1)">x=0.00</text>
<text class="b" font-size="82.6" transform="translate(1967.8 862.1) scale(0.9364 1)">x=0.01</text>
<text class="b" font-size="86" transform="translate(1951.6 1197.1) scale(0.9504 1)">x=0.02</text>
<text class="b" font-size="86" transform="translate(1959.7 1538.1) scale(0.9546 1)">x=0.03</text>
<text class="b" font-size="86" transform="translate(1953.5 1844.9) scale(0.9532 1)">x=0.04</text>
<text class="b" font-size="85" transform="translate(1958.7 2233.7) scale(0.9635 1)">x=0.05</text>
<text class="b" font-size="86.5" transform="translate(701.1 614.0) rotate(-90) scale(0.9735 1)">(220)</text>
<text class="b" font-size="86.5" transform="translate(915.9 367.1) rotate(-90) scale(0.9678 1)">(311)</text>
<text class="b" font-size="86.5" transform="translate(1005.3 691.4) rotate(-90) scale(0.9704 1)">(222)</text>
<text class="b" font-size="86.5" transform="translate(1211.9 661.9) rotate(-90) scale(0.9673 1)">(400)</text>
<text class="b" font-size="86.5" transform="translate(1609.9 692.1) rotate(-90) scale(0.9658 1)">(422)</text>
<text class="b" font-size="86.5" transform="translate(1748.1 617.1) rotate(-90) scale(0.9668 1)">(511)</text>
<text class="b" font-size="86.5" transform="translate(1982.1 595.0) rotate(-90) scale(0.9673 1)">(440)</text>
<text class="b" font-size="135" text-anchor="middle" transform="translate(262.5 2711.7) scale(0.937 1)">20</text>
<text class="b" font-size="135" text-anchor="middle" transform="translate(655.2 2711.7) scale(0.937 1)">30</text>
<text class="b" font-size="135" text-anchor="middle" transform="translate(1047.8 2711.7) scale(0.937 1)">40</text>
<text class="b" font-size="135" text-anchor="middle" transform="translate(1440.5 2711.7) scale(0.937 1)">50</text>
<text class="b" font-size="135" text-anchor="middle" transform="translate(1833.1 2711.7) scale(0.937 1)">60</text>
<text class="b" font-size="135" text-anchor="middle" transform="translate(2225.8 2711.7) scale(0.937 1)">70</text>
<text class="b" font-size="131" transform="translate(137.0 1578.6) rotate(-90) scale(0.9880 1)">Intensity (a. u.)</text>
<text class="b" font-size="135" transform="translate(1078.6 2923.0) scale(0.9385 1)">2</text>
<text class="s" font-size="135" transform="translate(1146.0 2924.6) scale(1.1000 1)" style="font-weight:normal" stroke="#000" stroke-width="2.2">θ</text>
<text class="s" font-size="136" transform="translate(1246.4 2924.0) scale(1.1500 1)">(</text>
<text class="s" font-size="131" transform="translate(1292.8 2916.0) scale(1.0000 1)" stroke="#000" stroke-width="2.4">°</text>
<text class="s" font-size="136" transform="translate(1340.2 2924.0) scale(1.1500 1)">)</text>
</svg>
</body></html>
